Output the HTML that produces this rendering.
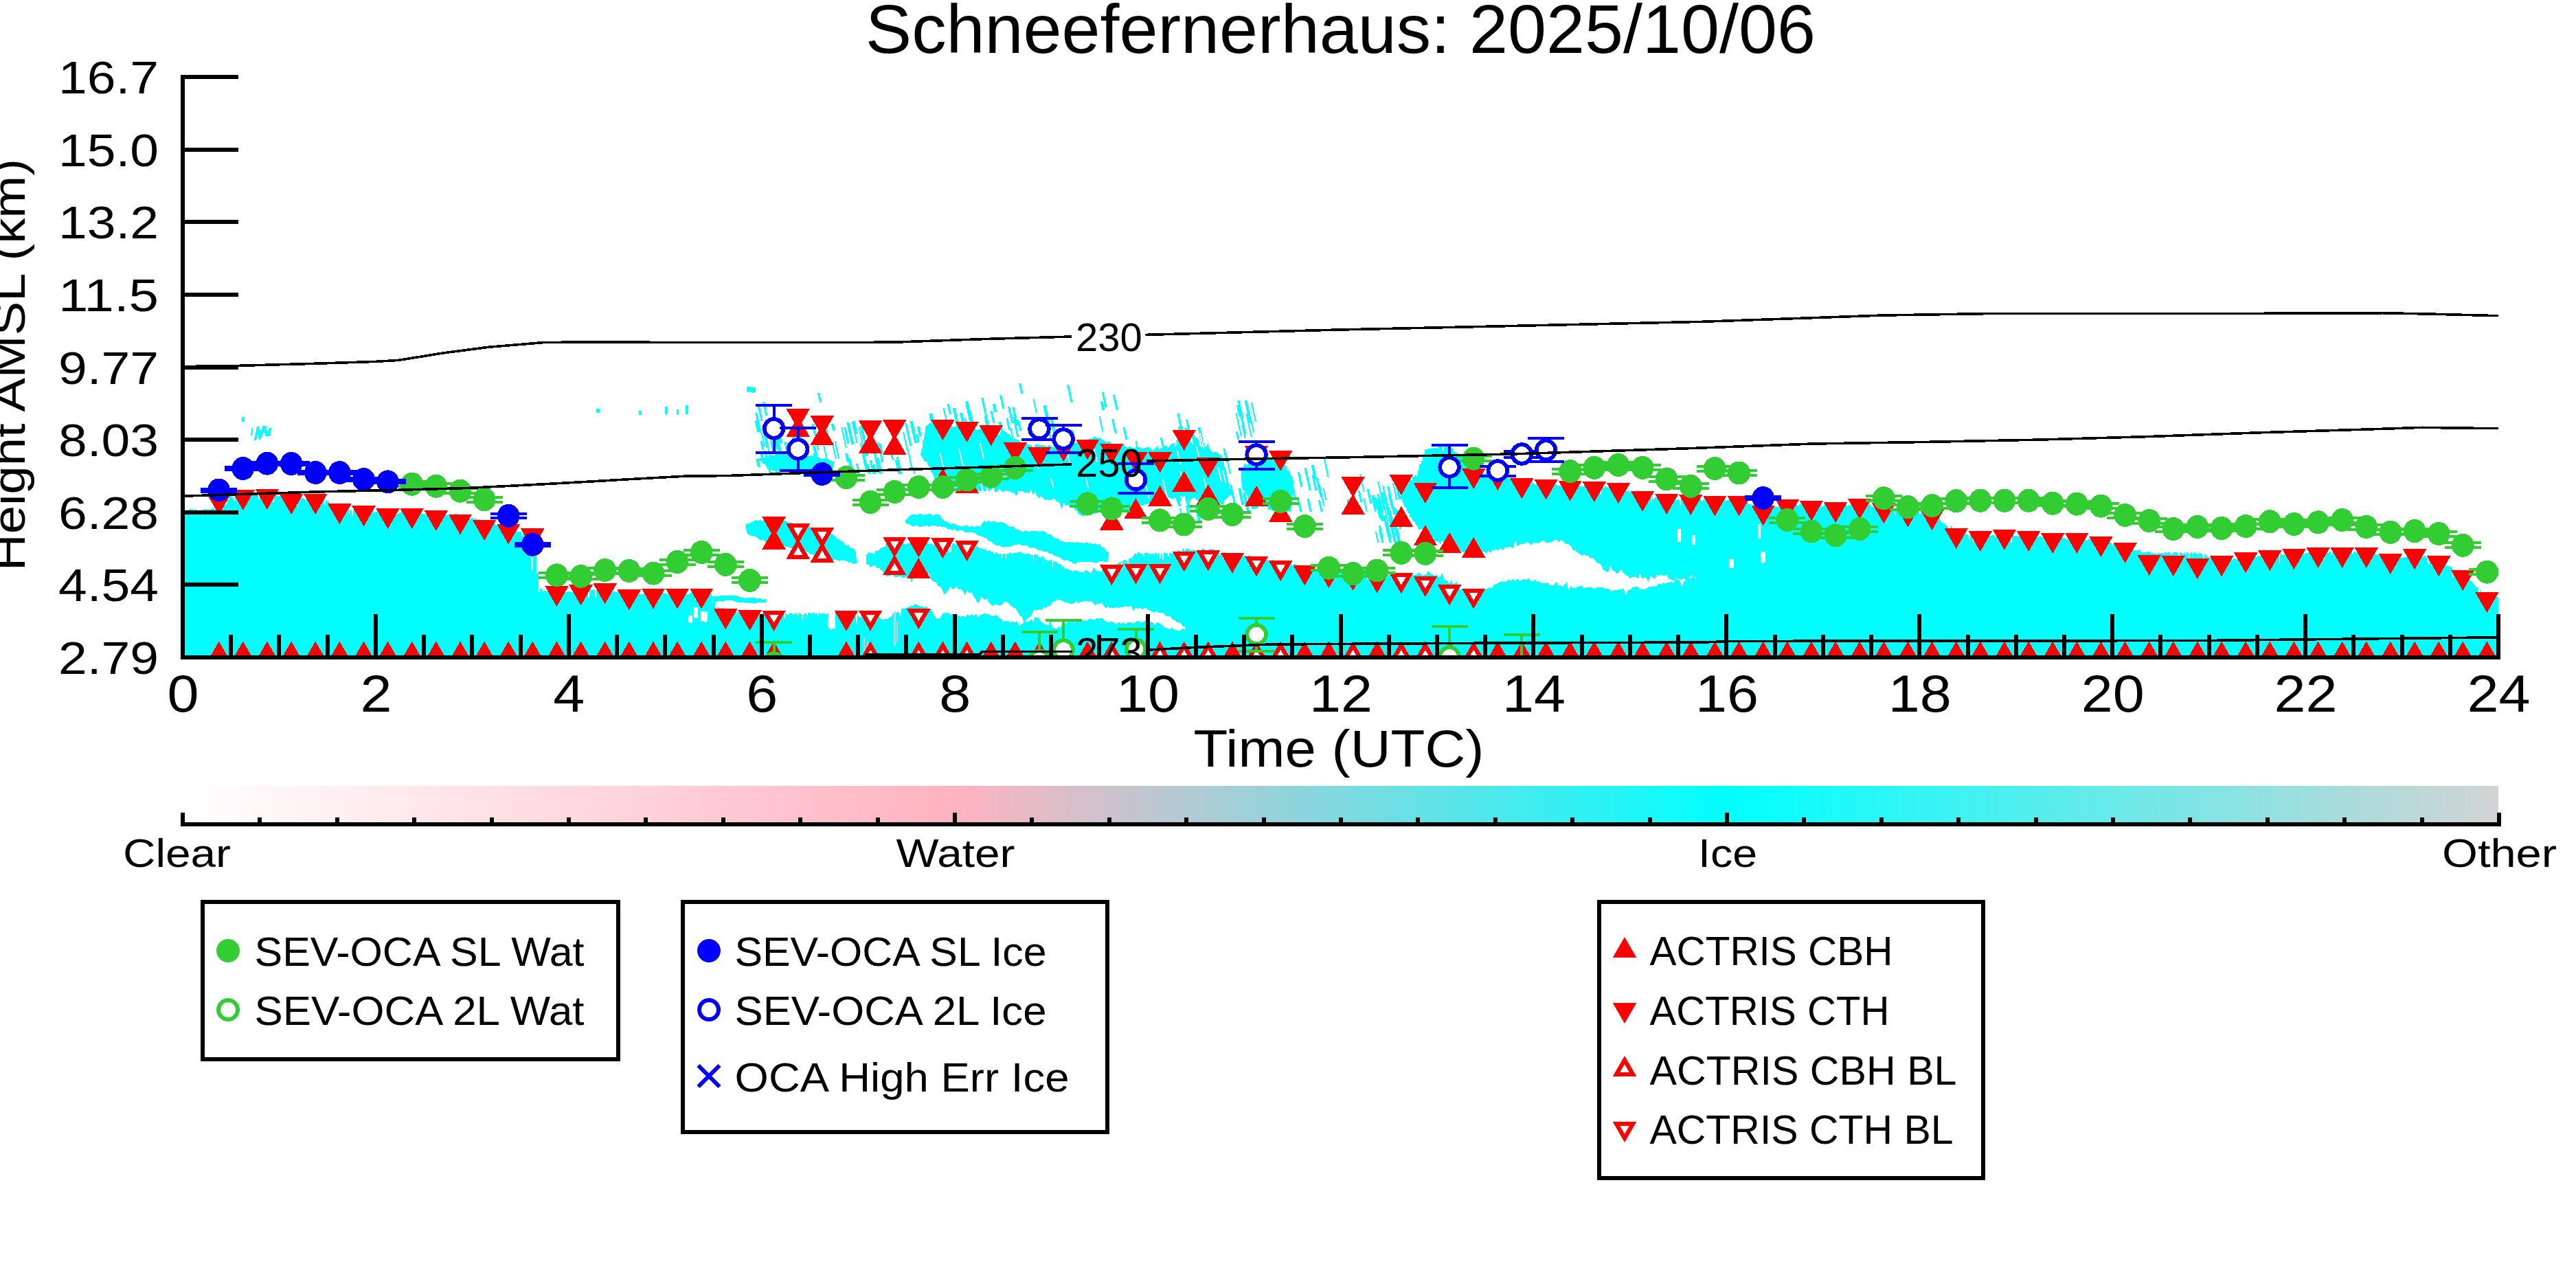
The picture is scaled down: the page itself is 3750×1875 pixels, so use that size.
<!DOCTYPE html><html><head><meta charset="utf-8"><title>Schneefernerhaus: 2025/10/06</title>
<style>html,body{margin:0;padding:0;background:#fff}svg{display:block}text{font-family:"Liberation Sans",sans-serif;fill:#000}</style></head><body>
<svg width="3750" height="1875" viewBox="0 0 3750 1875">
<defs><clipPath id="pc"><rect x="266" y="100" width="3371" height="857"/></clipPath>
<linearGradient id="cb" x1="0" x2="1" y1="0" y2="0"><stop offset="0" stop-color="#ffffff"/><stop offset="0.3333" stop-color="#ffb3bf"/><stop offset="0.6667" stop-color="#00ffff"/><stop offset="1" stop-color="#d3d3d3"/></linearGradient></defs>
<rect width="3750" height="1875" fill="#fff"/>
<g clip-path="url(#pc)">
<g shape-rendering="crispEdges">
<polygon points="266.0,742.6 268.5,742.6 268.5,743.7 271.0,743.7 271.0,743.2 273.5,743.2 273.5,741.5 276.0,741.5 276.0,741.3 278.5,741.3 278.5,741.4 281.0,741.4 281.0,742.5 283.5,742.5 283.5,741.4 286.0,741.4 286.0,743.1 288.5,743.1 288.5,742.9 291.0,742.9 291.0,744.2 293.5,744.2 293.5,743.7 296.0,743.7 296.0,741.1 298.5,741.1 298.5,741.6 301.0,741.6 301.0,741.0 303.5,741.0 303.5,742.2 306.0,742.2 306.0,741.4 308.5,741.4 308.5,739.3 311.0,739.3 311.0,741.0 313.5,741.0 313.5,739.3 316.0,739.3 316.0,739.4 318.5,739.4 318.5,740.0 321.0,740.0 321.0,736.9 323.5,736.9 323.5,736.6 326.0,736.6 326.0,736.1 328.5,736.1 328.5,732.9 331.0,732.9 331.0,726.8 333.5,726.8 333.5,721.8 336.0,721.8 336.0,720.5 338.5,720.5 338.5,722.8 341.0,722.8 341.0,722.9 343.5,722.9 343.5,722.1 346.0,722.1 346.0,721.5 348.5,721.5 348.5,722.4 351.0,722.4 351.0,721.2 353.5,721.2 353.5,719.7 356.0,719.7 356.0,721.8 358.5,721.8 358.5,722.4 361.0,722.4 361.0,720.9 363.5,720.9 363.5,719.6 366.0,719.6 366.0,720.1 368.5,720.1 368.5,719.7 371.0,719.7 371.0,720.0 373.5,720.0 373.5,720.9 376.0,720.9 376.0,719.9 378.5,719.9 378.5,721.5 381.0,721.5 381.0,722.5 383.5,722.5 383.5,720.7 386.0,720.7 386.0,721.0 388.5,721.0 388.5,723.2 391.0,723.2 391.0,720.5 393.5,720.5 393.5,720.7 396.0,720.7 396.0,722.0 398.5,722.0 398.5,720.0 401.0,720.0 401.0,721.4 403.5,721.4 403.5,723.4 406.0,723.4 406.0,722.0 408.5,722.0 408.5,722.6 411.0,722.6 411.0,723.4 413.5,723.4 413.5,723.4 416.0,723.4 416.0,721.7 418.5,721.7 418.5,720.8 421.0,720.8 421.0,720.7 423.5,720.7 423.5,721.2 426.0,721.2 426.0,722.2 428.5,722.2 428.5,721.6 431.0,721.6 431.0,722.6 433.5,722.6 433.5,723.0 436.0,723.0 436.0,725.6 438.5,725.6 438.5,725.0 441.0,725.0 441.0,725.8 443.5,725.8 443.5,727.7 446.0,727.7 446.0,726.4 448.5,726.4 448.5,725.2 451.0,725.2 451.0,726.3 453.5,726.3 453.5,728.1 456.0,728.1 456.0,725.4 458.5,725.4 458.5,727.3 461.0,727.3 461.0,727.5 463.5,727.5 463.5,727.6 466.0,727.6 466.0,729.0 468.5,729.0 468.5,727.0 471.0,727.0 471.0,726.9 473.5,726.9 473.5,728.3 476.0,728.3 476.0,730.2 478.5,730.2 478.5,734.5 481.0,734.5 481.0,735.4 483.5,735.4 483.5,736.1 486.0,736.1 486.0,734.8 488.5,734.8 488.5,736.1 491.0,736.1 491.0,735.7 493.5,735.7 493.5,737.3 496.0,737.3 496.0,740.6 498.5,740.6 498.5,741.3 501.0,741.3 501.0,741.9 503.5,741.9 503.5,739.6 506.0,739.6 506.0,739.8 508.5,739.8 508.5,741.5 511.0,741.5 511.0,742.5 513.5,742.5 513.5,742.1 516.0,742.1 516.0,740.4 518.5,740.4 518.5,743.5 521.0,743.5 521.0,743.2 523.5,743.2 523.5,741.5 526.0,741.5 526.0,742.3 528.5,742.3 528.5,744.8 531.0,744.8 531.0,743.0 533.5,743.0 533.5,744.4 536.0,744.4 536.0,742.6 538.5,742.6 538.5,745.6 541.0,745.6 541.0,743.3 543.5,743.3 543.5,746.5 546.0,746.5 546.0,744.6 548.5,744.6 548.5,739.2 551.0,739.2 551.0,746.2 553.5,746.2 553.5,747.5 556.0,747.5 556.0,747.5 558.5,747.5 558.5,745.5 561.0,745.5 561.0,746.1 563.5,746.1 563.5,747.4 566.0,747.4 566.0,747.0 568.5,747.0 568.5,748.7 571.0,748.7 571.0,747.2 573.5,747.2 573.5,748.8 576.0,748.8 576.0,748.9 578.5,748.9 578.5,747.6 581.0,747.6 581.0,745.8 583.5,745.8 583.5,742.0 586.0,742.0 586.0,746.4 588.5,746.4 588.5,748.4 591.0,748.4 591.0,747.0 593.5,747.0 593.5,747.9 596.0,747.9 596.0,746.3 598.5,746.3 598.5,746.8 601.0,746.8 601.0,748.7 603.5,748.7 603.5,748.0 606.0,748.0 606.0,749.3 608.5,749.3 608.5,748.3 611.0,748.3 611.0,747.9 613.5,747.9 613.5,747.8 616.0,747.8 616.0,747.9 618.5,747.9 618.5,748.7 621.0,748.7 621.0,749.6 623.5,749.6 623.5,748.3 626.0,748.3 626.0,749.3 628.5,749.3 628.5,746.8 631.0,746.8 631.0,746.7 633.5,746.7 633.5,746.7 636.0,746.7 636.0,749.3 638.5,749.3 638.5,747.3 641.0,747.3 641.0,749.3 643.5,749.3 643.5,750.3 646.0,750.3 646.0,748.2 648.5,748.2 648.5,749.1 651.0,749.1 651.0,751.3 653.5,751.3 653.5,748.7 656.0,748.7 656.0,750.1 658.5,750.1 658.5,749.2 661.0,749.2 661.0,747.6 663.5,747.6 663.5,747.5 666.0,747.5 666.0,751.3 668.5,751.3 668.5,749.6 671.0,749.6 671.0,752.5 673.5,752.5 673.5,750.8 676.0,750.8 676.0,751.2 678.5,751.2 678.5,752.6 681.0,752.6 681.0,753.8 683.5,753.8 683.5,755.8 686.0,755.8 686.0,754.1 688.5,754.1 688.5,756.3 691.0,756.3 691.0,755.2 693.5,755.2 693.5,758.0 696.0,758.0 696.0,756.4 698.5,756.4 698.5,759.0 701.0,759.0 701.0,757.8 703.5,757.8 703.5,758.3 706.0,758.3 706.0,760.4 708.5,760.4 708.5,761.4 711.0,761.4 711.0,761.2 713.5,761.2 713.5,762.8 716.0,762.8 716.0,762.0 718.5,762.0 718.5,762.5 721.0,762.5 721.0,764.2 723.5,764.2 723.5,766.4 726.0,766.4 726.0,766.3 728.5,766.3 728.5,763.7 731.0,763.7 731.0,766.0 733.5,766.0 733.5,768.6 736.0,768.6 736.0,769.0 738.5,769.0 738.5,768.4 741.0,768.4 741.0,770.3 743.5,770.3 743.5,772.3 746.0,772.3 746.0,771.7 748.5,771.7 748.5,774.0 751.0,774.0 751.0,774.1 753.5,774.1 753.5,774.0 756.0,774.0 756.0,773.6 758.5,773.6 758.5,773.4 761.0,773.4 761.0,776.1 763.5,776.1 763.5,774.7 766.0,774.7 766.0,779.4 768.5,779.4 768.5,783.8 771.0,783.8 771.0,787.3 773.5,787.3 773.5,794.2 776.0,794.2 776.0,800.9 778.5,800.9 778.5,809.5 781.0,809.5 781.0,834.9 783.5,834.9 783.5,861.9 786.0,861.9 786.0,857.0 788.5,857.0 788.5,860.8 791.0,860.8 791.0,860.1 793.5,860.1 793.5,859.8 796.0,859.8 796.0,860.3 798.5,860.3 798.5,857.6 801.0,857.6 801.0,861.3 803.5,861.3 803.5,862.2 806.0,862.2 806.0,862.5 808.5,862.5 808.5,863.2 811.0,863.2 811.0,861.2 813.5,861.2 813.5,860.4 816.0,860.4 816.0,862.0 818.5,862.0 818.5,862.6 821.0,862.6 821.0,861.8 823.5,861.8 823.5,862.3 826.0,862.3 826.0,861.2 828.5,861.2 828.5,862.2 831.0,862.2 831.0,862.0 833.5,862.0 833.5,862.1 836.0,862.1 836.0,861.3 838.5,861.3 838.5,858.9 841.0,858.9 841.0,859.9 843.5,859.9 843.5,861.5 846.0,861.5 846.0,860.6 848.5,860.6 848.5,860.7 851.0,860.7 851.0,858.2 853.5,858.2 853.5,860.6 856.0,860.6 856.0,859.7 858.5,859.7 858.5,858.0 861.0,858.0 861.0,858.5 863.5,858.5 863.5,858.4 866.0,858.4 866.0,858.0 868.5,858.0 868.5,860.6 871.0,860.6 871.0,858.4 873.5,858.4 873.5,859.3 876.0,859.3 876.0,858.9 878.5,858.9 878.5,856.9 881.0,856.9 881.0,857.6 883.5,857.6 883.5,858.3 886.0,858.3 886.0,857.9 888.5,857.9 888.5,859.3 891.0,859.3 891.0,861.4 893.5,861.4 893.5,860.5 896.0,860.5 896.0,861.7 898.5,861.7 898.5,861.0 901.0,861.0 901.0,861.9 903.5,861.9 903.5,861.6 906.0,861.6 906.0,865.1 908.5,865.1 908.5,864.4 911.0,864.4 911.0,864.1 913.5,864.1 913.5,864.7 916.0,864.7 916.0,865.0 918.5,865.0 918.5,867.7 921.0,867.7 921.0,867.1 923.5,867.1 923.5,867.2 926.0,867.2 926.0,864.7 928.5,864.7 928.5,863.5 931.0,863.5 931.0,865.3 933.5,865.3 933.5,864.5 936.0,864.5 936.0,864.5 938.5,864.5 938.5,861.9 941.0,861.9 941.0,866.0 943.5,866.0 943.5,866.1 946.0,866.1 946.0,865.9 948.5,865.9 948.5,863.9 951.0,863.9 951.0,866.0 953.5,866.0 953.5,863.8 956.0,863.8 956.0,863.5 958.5,863.5 958.5,862.9 961.0,862.9 961.0,863.5 963.5,863.5 963.5,863.4 966.0,863.4 966.0,864.3 968.5,864.3 968.5,863.8 971.0,863.8 971.0,865.6 973.5,865.6 973.5,864.7 976.0,864.7 976.0,865.8 978.5,865.8 978.5,865.0 981.0,865.0 981.0,865.1 983.5,865.1 983.5,865.1 986.0,865.1 986.0,863.5 988.5,863.5 988.5,865.7 991.0,865.7 991.0,864.2 993.5,864.2 993.5,863.5 996.0,863.5 996.0,865.9 998.5,865.9 998.5,864.8 1001.0,864.8 1001.0,864.5 1003.5,864.5 1003.5,863.1 1006.0,863.1 1006.0,863.2 1008.5,863.2 1008.5,864.2 1011.0,864.2 1011.0,865.7 1013.5,865.7 1013.5,864.1 1016.0,864.1 1016.0,863.2 1018.5,863.2 1018.5,863.7 1021.0,863.7 1021.0,863.3 1023.5,863.3 1023.5,864.8 1026.0,864.8 1026.0,865.7 1028.5,865.7 1028.5,864.8 1031.0,864.8 1031.0,865.0 1033.5,865.0 1033.5,864.2 1036.0,864.2 1036.0,867.7 1038.5,867.7 1038.5,870.8 1041.0,870.8 1041.0,885.7 1043.5,885.7 1043.5,884.0 1046.0,884.0 1046.0,884.9 1048.5,884.9 1048.5,887.3 1051.0,887.3 1051.0,885.3 1053.5,885.3 1053.5,887.2 1056.0,887.2 1056.0,886.8 1058.5,886.8 1058.5,885.6 1061.0,885.6 1061.0,889.2 1063.5,889.2 1063.5,889.4 1066.0,889.4 1066.0,887.7 1068.5,887.7 1068.5,887.8 1071.0,887.8 1071.0,890.0 1073.5,890.0 1073.5,890.5 1076.0,890.5 1076.0,891.0 1078.5,891.0 1078.5,890.6 1081.0,890.6 1081.0,891.7 1083.5,891.7 1083.5,892.5 1086.0,892.5 1086.0,890.7 1088.5,890.7 1088.5,890.8 1091.0,890.8 1091.0,892.7 1093.5,892.7 1093.5,890.9 1096.0,890.9 1096.0,893.0 1098.5,893.0 1098.5,892.1 1101.0,892.1 1101.0,891.5 1103.5,891.5 1103.5,893.1 1106.0,893.1 1106.0,893.8 1108.5,893.8 1108.5,893.2 1111.0,893.2 1111.0,892.4 1113.5,892.4 1113.5,894.0 1116.0,894.0 1116.0,891.6 1118.5,891.6 1118.5,893.9 1121.0,893.9 1121.0,892.4 1123.5,892.4 1123.5,894.7 1126.0,894.7 1126.0,891.6 1128.5,891.6 1128.5,893.0 1131.0,893.0 1131.0,892.2 1133.5,892.2 1133.5,894.1 1136.0,894.1 1136.0,892.2 1138.5,892.2 1138.5,892.6 1141.0,892.6 1141.0,892.3 1143.5,892.3 1143.5,894.2 1146.0,894.2 1146.0,894.8 1148.5,894.8 1148.5,892.2 1151.0,892.2 1151.0,893.0 1153.5,893.0 1153.5,894.8 1156.0,894.8 1156.0,892.9 1158.5,892.9 1158.5,894.9 1161.0,894.9 1161.0,891.7 1163.5,891.7 1163.5,892.9 1166.0,892.9 1166.0,894.6 1168.5,894.6 1168.5,895.0 1171.0,895.0 1171.0,892.7 1173.5,892.7 1173.5,894.8 1176.0,894.8 1176.0,891.6 1178.5,891.6 1178.5,892.8 1181.0,892.8 1181.0,892.7 1183.5,892.7 1183.5,891.5 1186.0,891.5 1186.0,892.7 1188.5,892.7 1188.5,891.9 1191.0,891.9 1191.0,892.2 1193.5,892.2 1193.5,894.4 1196.0,894.4 1196.0,893.0 1198.5,893.0 1198.5,893.2 1201.0,893.2 1201.0,894.7 1203.5,894.7 1203.5,892.8 1206.0,892.8 1206.0,914.6 1208.5,914.6 1208.5,917.3 1211.0,917.3 1211.0,914.6 1213.5,914.6 1213.5,914.7 1216.0,914.7 1216.0,892.4 1218.5,892.4 1218.5,894.9 1221.0,894.9 1221.0,893.0 1223.5,893.0 1223.5,894.5 1226.0,894.5 1226.0,895.2 1228.5,895.2 1228.5,889.7 1231.0,889.7 1231.0,896.5 1233.5,896.5 1233.5,894.2 1236.0,894.2 1236.0,895.5 1238.5,895.5 1238.5,897.5 1241.0,897.5 1241.0,895.3 1243.5,895.3 1243.5,896.5 1246.0,896.5 1246.0,895.7 1248.5,895.7 1248.5,897.9 1251.0,897.9 1251.0,898.5 1253.5,898.5 1253.5,897.5 1256.0,897.5 1256.0,898.3 1258.5,898.3 1258.5,851.3 1261.0,851.3 1261.0,806.8 1263.5,806.8 1263.5,803.9 1266.0,803.9 1266.0,805.1 1268.5,805.1 1268.5,806.1 1271.0,806.1 1271.0,805.7 1273.5,805.7 1273.5,802.1 1276.0,802.1 1276.0,802.4 1278.5,802.4 1278.5,800.3 1281.0,800.3 1281.0,798.2 1283.5,798.2 1283.5,797.1 1286.0,797.1 1286.0,795.7 1288.5,795.7 1288.5,791.1 1291.0,791.1 1291.0,790.5 1293.5,790.5 1293.5,790.8 1296.0,790.8 1296.0,790.2 1298.5,790.2 1298.5,790.4 1301.0,790.4 1301.0,792.6 1303.5,792.6 1303.5,790.6 1306.0,790.6 1306.0,793.0 1308.5,793.0 1308.5,790.3 1311.0,790.3 1311.0,791.8 1313.5,791.8 1313.5,789.9 1316.0,789.9 1316.0,792.4 1318.5,792.4 1318.5,792.7 1321.0,792.7 1321.0,790.5 1323.5,790.5 1323.5,790.2 1326.0,790.2 1326.0,791.5 1328.5,791.5 1328.5,790.8 1331.0,790.8 1331.0,791.1 1333.5,791.1 1333.5,792.2 1336.0,792.2 1336.0,789.9 1338.5,789.9 1338.5,791.7 1341.0,791.7 1341.0,790.8 1343.5,790.8 1343.5,790.2 1346.0,790.2 1346.0,791.6 1348.5,791.6 1348.5,787.2 1351.0,787.2 1351.0,791.9 1353.5,791.9 1353.5,790.6 1356.0,790.6 1356.0,792.3 1358.5,792.3 1358.5,789.9 1361.0,789.9 1361.0,791.2 1363.5,791.2 1363.5,792.2 1366.0,792.2 1366.0,790.7 1368.5,790.7 1368.5,791.7 1371.0,791.7 1371.0,791.5 1373.5,791.5 1373.5,791.7 1376.0,791.7 1376.0,792.0 1378.5,792.0 1378.5,793.9 1381.0,793.9 1381.0,792.3 1383.5,792.3 1383.5,793.7 1386.0,793.7 1386.0,791.4 1388.5,791.4 1388.5,793.0 1391.0,793.0 1391.0,793.1 1393.5,793.1 1393.5,793.4 1396.0,793.4 1396.0,792.0 1398.5,792.0 1398.5,794.3 1401.0,794.3 1401.0,792.6 1403.5,792.6 1403.5,793.7 1406.0,793.7 1406.0,793.1 1408.5,793.1 1408.5,794.5 1411.0,794.5 1411.0,793.2 1413.5,793.2 1413.5,795.8 1416.0,795.8 1416.0,793.8 1418.5,793.8 1418.5,796.6 1421.0,796.6 1421.0,795.1 1423.5,795.1 1423.5,797.3 1426.0,797.3 1426.0,798.2 1428.5,798.2 1428.5,798.8 1431.0,798.8 1431.0,799.7 1433.5,799.7 1433.5,799.4 1436.0,799.4 1436.0,802.0 1438.5,802.0 1438.5,800.9 1441.0,800.9 1441.0,803.1 1443.5,803.1 1443.5,802.8 1446.0,802.8 1446.0,805.6 1448.5,805.6 1448.5,803.5 1451.0,803.5 1451.0,806.2 1453.5,806.2 1453.5,806.7 1456.0,806.7 1456.0,806.1 1458.5,806.1 1458.5,806.5 1461.0,806.5 1461.0,806.0 1463.5,806.0 1463.5,805.8 1466.0,805.8 1466.0,805.7 1468.5,805.7 1468.5,804.1 1471.0,804.1 1471.0,805.6 1473.5,805.6 1473.5,806.4 1476.0,806.4 1476.0,805.1 1478.5,805.1 1478.5,805.0 1481.0,805.0 1481.0,803.6 1483.5,803.6 1483.5,803.4 1486.0,803.4 1486.0,805.1 1488.5,805.1 1488.5,805.8 1491.0,805.8 1491.0,806.5 1493.5,806.5 1493.5,806.1 1496.0,806.1 1496.0,806.4 1498.5,806.4 1498.5,808.3 1501.0,808.3 1501.0,808.3 1503.5,808.3 1503.5,808.2 1506.0,808.2 1506.0,806.6 1508.5,806.6 1508.5,808.4 1511.0,808.4 1511.0,810.9 1513.5,810.9 1513.5,811.5 1516.0,811.5 1516.0,809.9 1518.5,809.9 1518.5,813.3 1521.0,813.3 1521.0,814.8 1523.5,814.8 1523.5,815.6 1526.0,815.6 1526.0,815.5 1528.5,815.5 1528.5,815.4 1531.0,815.4 1531.0,817.5 1533.5,817.5 1533.5,816.8 1536.0,816.8 1536.0,818.3 1538.5,818.3 1538.5,821.2 1541.0,821.2 1541.0,820.8 1543.5,820.8 1543.5,822.0 1546.0,822.0 1546.0,825.2 1548.5,825.2 1548.5,827.5 1551.0,827.5 1551.0,827.8 1553.5,827.8 1553.5,827.6 1556.0,827.6 1556.0,830.0 1558.5,830.0 1558.5,831.0 1561.0,831.0 1561.0,832.0 1563.5,832.0 1563.5,830.2 1566.0,830.2 1566.0,830.9 1568.5,830.9 1568.5,832.3 1571.0,832.3 1571.0,833.0 1573.5,833.0 1573.5,832.7 1576.0,832.7 1576.0,832.9 1578.5,832.9 1578.5,829.9 1581.0,829.9 1581.0,831.3 1583.5,831.3 1583.5,832.1 1586.0,832.1 1586.0,833.6 1588.5,833.6 1588.5,831.1 1591.0,831.1 1591.0,827.2 1593.5,827.2 1593.5,830.4 1596.0,830.4 1596.0,830.6 1598.5,830.6 1598.5,831.8 1601.0,831.8 1601.0,831.7 1603.5,831.7 1603.5,829.3 1606.0,829.3 1606.0,828.6 1608.5,828.6 1608.5,827.0 1611.0,827.0 1611.0,828.6 1613.5,828.6 1613.5,825.9 1616.0,825.9 1616.0,823.4 1618.5,823.4 1618.5,824.3 1621.0,824.3 1621.0,823.5 1623.5,823.5 1623.5,823.4 1626.0,823.4 1626.0,819.9 1628.5,819.9 1628.5,818.1 1631.0,818.1 1631.0,818.3 1633.5,818.3 1633.5,816.0 1636.0,816.0 1636.0,814.7 1638.5,814.7 1638.5,816.9 1641.0,816.9 1641.0,813.2 1643.5,813.2 1643.5,812.7 1646.0,812.7 1646.0,812.1 1648.5,812.1 1648.5,808.8 1651.0,808.8 1651.0,806.2 1653.5,806.2 1653.5,807.2 1656.0,807.2 1656.0,803.6 1658.5,803.6 1658.5,806.2 1661.0,806.2 1661.0,806.3 1663.5,806.3 1663.5,804.5 1666.0,804.5 1666.0,804.6 1668.5,804.6 1668.5,805.1 1671.0,805.1 1671.0,806.4 1673.5,806.4 1673.5,806.5 1676.0,806.5 1676.0,806.0 1678.5,806.0 1678.5,806.9 1681.0,806.9 1681.0,805.2 1683.5,805.2 1683.5,807.7 1686.0,807.7 1686.0,804.7 1688.5,804.7 1688.5,805.3 1691.0,805.3 1691.0,807.6 1693.5,807.6 1693.5,805.0 1696.0,805.0 1696.0,804.6 1698.5,804.6 1698.5,806.2 1701.0,806.2 1701.0,805.0 1703.5,805.0 1703.5,805.5 1706.0,805.5 1706.0,804.6 1708.5,804.6 1708.5,804.2 1711.0,804.2 1711.0,803.3 1713.5,803.3 1713.5,801.4 1716.0,801.4 1716.0,802.1 1718.5,802.1 1718.5,802.7 1721.0,802.7 1721.0,799.1 1723.5,799.1 1723.5,801.8 1726.0,801.8 1726.0,799.0 1728.5,799.0 1728.5,798.6 1731.0,798.6 1731.0,800.7 1733.5,800.7 1733.5,801.1 1736.0,801.1 1736.0,800.6 1738.5,800.6 1738.5,801.4 1741.0,801.4 1741.0,801.6 1743.5,801.6 1743.5,801.5 1746.0,801.5 1746.0,801.8 1748.5,801.8 1748.5,799.2 1751.0,799.2 1751.0,798.6 1753.5,798.6 1753.5,801.3 1756.0,801.3 1756.0,801.4 1758.5,801.4 1758.5,799.5 1761.0,799.5 1761.0,799.2 1763.5,799.2 1763.5,800.1 1766.0,800.1 1766.0,798.6 1768.5,798.6 1768.5,801.4 1771.0,801.4 1771.0,802.2 1773.5,802.2 1773.5,804.8 1776.0,804.8 1776.0,804.9 1778.5,804.9 1778.5,802.5 1781.0,802.5 1781.0,804.4 1783.5,804.4 1783.5,804.6 1786.0,804.6 1786.0,805.8 1788.5,805.8 1788.5,807.4 1791.0,807.4 1791.0,807.8 1793.5,807.8 1793.5,805.4 1796.0,805.4 1796.0,808.5 1798.5,808.5 1798.5,806.2 1801.0,806.2 1801.0,808.2 1803.5,808.2 1803.5,807.5 1806.0,807.5 1806.0,808.4 1808.5,808.4 1808.5,808.5 1811.0,808.5 1811.0,808.9 1813.5,808.9 1813.5,810.7 1816.0,810.7 1816.0,809.0 1818.5,809.0 1818.5,809.3 1821.0,809.3 1821.0,811.8 1823.5,811.8 1823.5,811.9 1826.0,811.9 1826.0,811.5 1828.5,811.5 1828.5,813.5 1831.0,813.5 1831.0,814.0 1833.5,814.0 1833.5,812.1 1836.0,812.1 1836.0,815.1 1838.5,815.1 1838.5,813.7 1841.0,813.7 1841.0,813.7 1843.5,813.7 1843.5,815.3 1846.0,815.3 1846.0,816.5 1848.5,816.5 1848.5,815.6 1851.0,815.6 1851.0,815.4 1853.5,815.4 1853.5,817.7 1856.0,817.7 1856.0,816.5 1858.5,816.5 1858.5,819.1 1861.0,819.1 1861.0,817.3 1863.5,817.3 1863.5,820.5 1866.0,820.5 1866.0,818.5 1868.5,818.5 1868.5,820.7 1871.0,820.7 1871.0,819.2 1873.5,819.2 1873.5,820.0 1876.0,820.0 1876.0,821.4 1878.5,821.4 1878.5,821.1 1881.0,821.1 1881.0,823.8 1883.5,823.8 1883.5,821.2 1886.0,821.2 1886.0,821.6 1888.5,821.6 1888.5,825.1 1891.0,825.1 1891.0,824.7 1893.5,824.7 1893.5,823.2 1896.0,823.2 1896.0,823.4 1898.5,823.4 1898.5,824.8 1901.0,824.8 1901.0,825.1 1903.5,825.1 1903.5,826.4 1906.0,826.4 1906.0,826.5 1908.5,826.5 1908.5,825.1 1911.0,825.1 1911.0,826.3 1913.5,826.3 1913.5,828.3 1916.0,828.3 1916.0,827.5 1918.5,827.5 1918.5,827.2 1921.0,827.2 1921.0,828.5 1923.5,828.5 1923.5,829.0 1926.0,829.0 1926.0,829.6 1928.5,829.6 1928.5,829.1 1931.0,829.1 1931.0,828.3 1933.5,828.3 1933.5,827.8 1936.0,827.8 1936.0,830.5 1938.5,830.5 1938.5,830.2 1941.0,830.2 1941.0,829.8 1943.5,829.8 1943.5,830.7 1946.0,830.7 1946.0,831.2 1948.5,831.2 1948.5,829.8 1951.0,829.8 1951.0,832.1 1953.5,832.1 1953.5,831.4 1956.0,831.4 1956.0,830.1 1958.5,830.1 1958.5,830.8 1961.0,830.8 1961.0,833.8 1963.5,833.8 1963.5,831.1 1966.0,831.1 1966.0,832.9 1968.5,832.9 1968.5,833.1 1971.0,833.1 1971.0,834.5 1973.5,834.5 1973.5,833.2 1976.0,833.2 1976.0,832.7 1978.5,832.7 1978.5,833.6 1981.0,833.6 1981.0,832.9 1983.5,832.9 1983.5,833.9 1986.0,833.9 1986.0,833.8 1988.5,833.8 1988.5,833.1 1991.0,833.1 1991.0,834.8 1993.5,834.8 1993.5,834.7 1996.0,834.7 1996.0,834.5 1998.5,834.5 1998.5,837.2 2001.0,837.2 2001.0,834.9 2003.5,834.9 2003.5,835.7 2006.0,835.7 2006.0,835.0 2008.5,835.0 2008.5,837.6 2011.0,837.6 2011.0,836.5 2013.5,836.5 2013.5,835.8 2016.0,835.8 2016.0,836.4 2018.5,836.4 2018.5,838.2 2021.0,838.2 2021.0,837.2 2023.5,837.2 2023.5,837.6 2026.0,837.6 2026.0,838.8 2028.5,838.8 2028.5,839.0 2031.0,839.0 2031.0,837.5 2033.5,837.5 2033.5,837.8 2036.0,837.8 2036.0,836.5 2038.5,836.5 2038.5,719.8 2041.0,719.8 2041.0,715.5 2043.5,715.5 2043.5,711.5 2046.0,711.5 2046.0,707.9 2048.5,707.9 2048.5,704.4 2051.0,704.4 2051.0,697.9 2053.5,697.9 2053.5,698.8 2056.0,698.8 2056.0,694.0 2058.5,694.0 2058.5,691.6 2061.0,691.6 2061.0,692.7 2063.5,692.7 2063.5,684.6 2066.0,684.6 2066.0,676.3 2068.5,676.3 2068.5,670.6 2071.0,670.6 2071.0,660.5 2073.5,660.5 2073.5,654.9 2076.0,654.9 2076.0,653.5 2078.5,653.5 2078.5,653.0 2081.0,653.0 2081.0,653.2 2083.5,653.2 2083.5,652.9 2086.0,652.9 2086.0,652.3 2088.5,652.3 2088.5,652.3 2091.0,652.3 2091.0,652.6 2093.5,652.6 2093.5,650.3 2096.0,650.3 2096.0,649.8 2098.5,649.8 2098.5,649.3 2101.0,649.3 2101.0,649.5 2103.5,649.5 2103.5,650.6 2106.0,650.6 2106.0,647.2 2108.5,647.2 2108.5,650.2 2111.0,650.2 2111.0,651.8 2113.5,651.8 2113.5,653.3 2116.0,653.3 2116.0,657.9 2118.5,657.9 2118.5,659.2 2121.0,659.2 2121.0,659.6 2123.5,659.6 2123.5,664.4 2126.0,664.4 2126.0,666.2 2128.5,666.2 2128.5,670.7 2131.0,670.7 2131.0,675.8 2133.5,675.8 2133.5,679.0 2136.0,679.0 2136.0,681.6 2138.5,681.6 2138.5,685.5 2141.0,685.5 2141.0,688.4 2143.5,688.4 2143.5,687.4 2146.0,687.4 2146.0,688.3 2148.5,688.3 2148.5,689.8 2151.0,689.8 2151.0,689.9 2153.5,689.9 2153.5,688.9 2156.0,688.9 2156.0,689.1 2158.5,689.1 2158.5,689.7 2161.0,689.7 2161.0,688.7 2163.5,688.7 2163.5,688.7 2166.0,688.7 2166.0,690.0 2168.5,690.0 2168.5,688.1 2171.0,688.1 2171.0,691.1 2173.5,691.1 2173.5,688.3 2176.0,688.3 2176.0,688.3 2178.5,688.3 2178.5,691.7 2181.0,691.7 2181.0,691.2 2183.5,691.2 2183.5,693.0 2186.0,693.0 2186.0,692.9 2188.5,692.9 2188.5,694.1 2191.0,694.1 2191.0,695.0 2193.5,695.0 2193.5,695.9 2196.0,695.9 2196.0,697.2 2198.5,697.2 2198.5,696.1 2201.0,696.1 2201.0,699.1 2203.5,699.1 2203.5,699.6 2206.0,699.6 2206.0,701.1 2208.5,701.1 2208.5,701.2 2211.0,701.2 2211.0,701.2 2213.5,701.2 2213.5,702.2 2216.0,702.2 2216.0,704.1 2218.5,704.1 2218.5,702.1 2221.0,702.1 2221.0,702.1 2223.5,702.1 2223.5,704.9 2226.0,704.9 2226.0,705.4 2228.5,705.4 2228.5,702.3 2231.0,702.3 2231.0,704.4 2233.5,704.4 2233.5,705.9 2236.0,705.9 2236.0,704.0 2238.5,704.0 2238.5,704.9 2241.0,704.9 2241.0,701.3 2243.5,701.3 2243.5,705.2 2246.0,705.2 2246.0,706.3 2248.5,706.3 2248.5,706.1 2251.0,706.1 2251.0,703.2 2253.5,703.2 2253.5,704.1 2256.0,704.1 2256.0,704.1 2258.5,704.1 2258.5,706.3 2261.0,706.3 2261.0,706.7 2263.5,706.7 2263.5,704.1 2266.0,704.1 2266.0,706.5 2268.5,706.5 2268.5,707.4 2271.0,707.4 2271.0,707.6 2273.5,707.6 2273.5,700.5 2276.0,700.5 2276.0,707.4 2278.5,707.4 2278.5,705.8 2281.0,705.8 2281.0,705.4 2283.5,705.4 2283.5,706.7 2286.0,706.7 2286.0,706.4 2288.5,706.4 2288.5,706.7 2291.0,706.7 2291.0,705.8 2293.5,705.8 2293.5,706.7 2296.0,706.7 2296.0,707.7 2298.5,707.7 2298.5,707.0 2301.0,707.0 2301.0,709.0 2303.5,709.0 2303.5,707.8 2306.0,707.8 2306.0,706.1 2308.5,706.1 2308.5,708.5 2311.0,708.5 2311.0,707.3 2313.5,707.3 2313.5,709.6 2316.0,709.6 2316.0,708.4 2318.5,708.4 2318.5,707.9 2321.0,707.9 2321.0,707.8 2323.5,707.8 2323.5,708.8 2326.0,708.8 2326.0,709.7 2328.5,709.7 2328.5,707.0 2331.0,707.0 2331.0,708.6 2333.5,708.6 2333.5,710.1 2336.0,710.1 2336.0,707.6 2338.5,707.6 2338.5,710.4 2341.0,710.4 2341.0,709.8 2343.5,709.8 2343.5,710.9 2346.0,710.9 2346.0,710.5 2348.5,710.5 2348.5,709.4 2351.0,709.4 2351.0,710.3 2353.5,710.3 2353.5,709.2 2356.0,709.2 2356.0,712.0 2358.5,712.0 2358.5,711.7 2361.0,711.7 2361.0,712.0 2363.5,712.0 2363.5,712.1 2366.0,712.1 2366.0,714.8 2368.5,714.8 2368.5,713.2 2371.0,713.2 2371.0,716.4 2373.5,716.4 2373.5,716.6 2376.0,716.6 2376.0,718.5 2378.5,718.5 2378.5,717.9 2381.0,717.9 2381.0,717.7 2383.5,717.7 2383.5,718.5 2386.0,718.5 2386.0,720.0 2388.5,720.0 2388.5,721.0 2391.0,721.0 2391.0,720.9 2393.5,720.9 2393.5,724.2 2396.0,724.2 2396.0,721.3 2398.5,721.3 2398.5,724.0 2401.0,724.0 2401.0,723.6 2403.5,723.6 2403.5,721.5 2406.0,721.5 2406.0,725.5 2408.5,725.5 2408.5,724.0 2411.0,724.0 2411.0,723.5 2413.5,723.5 2413.5,724.4 2416.0,724.4 2416.0,725.9 2418.5,725.9 2418.5,726.8 2421.0,726.8 2421.0,723.9 2423.5,723.9 2423.5,724.6 2426.0,724.6 2426.0,724.5 2428.5,724.5 2428.5,727.4 2431.0,727.4 2431.0,727.8 2433.5,727.8 2433.5,724.8 2436.0,724.8 2436.0,726.0 2438.5,726.0 2438.5,728.1 2441.0,728.1 2441.0,726.8 2443.5,726.8 2443.5,728.2 2446.0,728.2 2446.0,726.4 2448.5,726.4 2448.5,725.6 2451.0,725.6 2451.0,728.6 2453.5,728.6 2453.5,725.4 2456.0,725.4 2456.0,726.6 2458.5,726.6 2458.5,728.6 2461.0,728.6 2461.0,725.7 2463.5,725.7 2463.5,728.1 2466.0,728.1 2466.0,729.2 2468.5,729.2 2468.5,726.3 2471.0,726.3 2471.0,729.2 2473.5,729.2 2473.5,727.1 2476.0,727.1 2476.0,728.8 2478.5,728.8 2478.5,727.4 2481.0,727.4 2481.0,726.8 2483.5,726.8 2483.5,727.1 2486.0,727.1 2486.0,727.1 2488.5,727.1 2488.5,726.8 2491.0,726.8 2491.0,727.5 2493.5,727.5 2493.5,730.2 2496.0,730.2 2496.0,730.3 2498.5,730.3 2498.5,730.2 2501.0,730.2 2501.0,728.7 2503.5,728.7 2503.5,730.4 2506.0,730.4 2506.0,729.3 2508.5,729.3 2508.5,728.3 2511.0,728.3 2511.0,728.8 2513.5,728.8 2513.5,727.6 2516.0,727.6 2516.0,727.3 2518.5,727.3 2518.5,729.0 2521.0,729.0 2521.0,730.1 2523.5,730.1 2523.5,728.5 2526.0,728.5 2526.0,728.0 2528.5,728.0 2528.5,728.3 2531.0,728.3 2531.0,728.8 2533.5,728.8 2533.5,731.0 2536.0,731.0 2536.0,732.3 2538.5,732.3 2538.5,733.0 2541.0,733.0 2541.0,731.6 2543.5,731.6 2543.5,732.8 2546.0,732.8 2546.0,733.5 2548.5,733.5 2548.5,737.3 2551.0,737.3 2551.0,738.0 2553.5,738.0 2553.5,736.8 2556.0,736.8 2556.0,737.0 2558.5,737.0 2558.5,738.8 2561.0,738.8 2561.0,738.8 2563.5,738.8 2563.5,740.9 2566.0,740.9 2566.0,740.7 2568.5,740.7 2568.5,742.4 2571.0,742.4 2571.0,741.5 2573.5,741.5 2573.5,740.1 2576.0,740.1 2576.0,739.2 2578.5,739.2 2578.5,740.8 2581.0,740.8 2581.0,738.2 2583.5,738.2 2583.5,737.2 2586.0,737.2 2586.0,738.1 2588.5,738.1 2588.5,736.4 2591.0,736.4 2591.0,737.6 2593.5,737.6 2593.5,736.6 2596.0,736.6 2596.0,734.1 2598.5,734.1 2598.5,734.7 2601.0,734.7 2601.0,732.9 2603.5,732.9 2603.5,733.7 2606.0,733.7 2606.0,735.7 2608.5,735.7 2608.5,732.9 2611.0,732.9 2611.0,734.6 2613.5,734.6 2613.5,734.0 2616.0,734.0 2616.0,736.1 2618.5,736.1 2618.5,733.8 2621.0,733.8 2621.0,731.9 2623.5,731.9 2623.5,735.0 2626.0,735.0 2626.0,734.0 2628.5,734.0 2628.5,736.6 2631.0,736.6 2631.0,735.0 2633.5,735.0 2633.5,735.3 2636.0,735.3 2636.0,734.3 2638.5,734.3 2638.5,737.5 2641.0,737.5 2641.0,736.2 2643.5,736.2 2643.5,731.5 2646.0,731.5 2646.0,735.5 2648.5,735.5 2648.5,735.2 2651.0,735.2 2651.0,737.9 2653.5,737.9 2653.5,735.6 2656.0,735.6 2656.0,732.3 2658.5,732.3 2658.5,737.6 2661.0,737.6 2661.0,738.2 2663.5,738.2 2663.5,739.0 2666.0,739.0 2666.0,736.2 2668.5,736.2 2668.5,738.0 2671.0,738.0 2671.0,737.4 2673.5,737.4 2673.5,737.7 2676.0,737.7 2676.0,738.0 2678.5,738.0 2678.5,736.1 2681.0,736.1 2681.0,737.8 2683.5,737.8 2683.5,737.8 2686.0,737.8 2686.0,735.9 2688.5,735.9 2688.5,737.1 2691.0,737.1 2691.0,735.2 2693.5,735.2 2693.5,736.2 2696.0,736.2 2696.0,733.9 2698.5,733.9 2698.5,734.3 2701.0,734.3 2701.0,735.2 2703.5,735.2 2703.5,734.9 2706.0,734.9 2706.0,731.9 2708.5,731.9 2708.5,735.1 2711.0,735.1 2711.0,733.1 2713.5,733.1 2713.5,734.9 2716.0,734.9 2716.0,735.0 2718.5,735.0 2718.5,735.1 2721.0,735.1 2721.0,734.1 2723.5,734.1 2723.5,737.9 2726.0,737.9 2726.0,738.2 2728.5,738.2 2728.5,738.2 2731.0,738.2 2731.0,738.9 2733.5,738.9 2733.5,738.5 2736.0,738.5 2736.0,739.1 2738.5,739.1 2738.5,739.1 2741.0,739.1 2741.0,739.8 2743.5,739.8 2743.5,739.9 2746.0,739.9 2746.0,741.8 2748.5,741.8 2748.5,739.9 2751.0,739.9 2751.0,739.6 2753.5,739.6 2753.5,742.9 2756.0,742.9 2756.0,740.8 2758.5,740.8 2758.5,742.1 2761.0,742.1 2761.0,741.0 2763.5,741.0 2763.5,742.0 2766.0,742.0 2766.0,742.3 2768.5,742.3 2768.5,742.0 2771.0,742.0 2771.0,745.0 2773.5,745.0 2773.5,744.4 2776.0,744.4 2776.0,743.5 2778.5,743.5 2778.5,744.7 2781.0,744.7 2781.0,745.6 2783.5,745.6 2783.5,744.9 2786.0,744.9 2786.0,744.9 2788.5,744.9 2788.5,745.8 2791.0,745.8 2791.0,744.8 2793.5,744.8 2793.5,748.1 2796.0,748.1 2796.0,747.3 2798.5,747.3 2798.5,746.7 2801.0,746.7 2801.0,747.1 2803.5,747.1 2803.5,746.9 2806.0,746.9 2806.0,749.7 2808.5,749.7 2808.5,747.2 2811.0,747.2 2811.0,748.8 2813.5,748.8 2813.5,748.6 2816.0,748.6 2816.0,753.5 2818.5,753.5 2818.5,752.6 2821.0,752.6 2821.0,755.2 2823.5,755.2 2823.5,758.1 2826.0,758.1 2826.0,760.7 2828.5,760.7 2828.5,762.3 2831.0,762.3 2831.0,764.3 2833.5,764.3 2833.5,766.3 2836.0,766.3 2836.0,768.7 2838.5,768.7 2838.5,766.2 2841.0,766.2 2841.0,771.4 2843.5,771.4 2843.5,774.6 2846.0,774.6 2846.0,774.7 2848.5,774.7 2848.5,777.6 2851.0,777.6 2851.0,776.2 2853.5,776.2 2853.5,776.8 2856.0,776.8 2856.0,776.5 2858.5,776.5 2858.5,777.7 2861.0,777.7 2861.0,777.1 2863.5,777.1 2863.5,779.3 2866.0,779.3 2866.0,778.1 2868.5,778.1 2868.5,777.9 2871.0,777.9 2871.0,779.2 2873.5,779.2 2873.5,777.7 2876.0,777.7 2876.0,778.9 2878.5,778.9 2878.5,780.9 2881.0,780.9 2881.0,779.0 2883.5,779.0 2883.5,779.5 2886.0,779.5 2886.0,780.3 2888.5,780.3 2888.5,781.4 2891.0,781.4 2891.0,779.9 2893.5,779.9 2893.5,779.6 2896.0,779.6 2896.0,780.1 2898.5,780.1 2898.5,778.8 2901.0,778.8 2901.0,778.6 2903.5,778.6 2903.5,779.6 2906.0,779.6 2906.0,777.4 2908.5,777.4 2908.5,778.3 2911.0,778.3 2911.0,778.7 2913.5,778.7 2913.5,780.0 2916.0,780.0 2916.0,778.0 2918.5,778.0 2918.5,779.8 2921.0,779.8 2921.0,778.3 2923.5,778.3 2923.5,777.2 2926.0,777.2 2926.0,780.2 2928.5,780.2 2928.5,778.8 2931.0,778.8 2931.0,780.2 2933.5,780.2 2933.5,780.1 2936.0,780.1 2936.0,780.5 2938.5,780.5 2938.5,778.1 2941.0,778.1 2941.0,779.5 2943.5,779.5 2943.5,778.6 2946.0,778.6 2946.0,780.3 2948.5,780.3 2948.5,779.4 2951.0,779.4 2951.0,780.6 2953.5,780.6 2953.5,780.0 2956.0,780.0 2956.0,779.8 2958.5,779.8 2958.5,779.0 2961.0,779.0 2961.0,782.1 2963.5,782.1 2963.5,781.7 2966.0,781.7 2966.0,781.3 2968.5,781.3 2968.5,780.7 2971.0,780.7 2971.0,781.9 2973.5,781.9 2973.5,782.3 2976.0,782.3 2976.0,780.9 2978.5,780.9 2978.5,783.3 2981.0,783.3 2981.0,781.2 2983.5,781.2 2983.5,782.9 2986.0,782.9 2986.0,783.5 2988.5,783.5 2988.5,777.4 2991.0,777.4 2991.0,782.6 2993.5,782.6 2993.5,782.7 2996.0,782.7 2996.0,782.4 2998.5,782.4 2998.5,784.7 3001.0,784.7 3001.0,782.7 3003.5,782.7 3003.5,782.8 3006.0,782.8 3006.0,784.6 3008.5,784.6 3008.5,784.9 3011.0,784.9 3011.0,783.7 3013.5,783.7 3013.5,781.7 3016.0,781.7 3016.0,784.5 3018.5,784.5 3018.5,784.6 3021.0,784.6 3021.0,782.6 3023.5,782.6 3023.5,784.9 3026.0,784.9 3026.0,785.2 3028.5,785.2 3028.5,783.6 3031.0,783.6 3031.0,783.4 3033.5,783.4 3033.5,786.0 3036.0,786.0 3036.0,786.1 3038.5,786.1 3038.5,784.3 3041.0,784.3 3041.0,784.7 3043.5,784.7 3043.5,785.4 3046.0,785.4 3046.0,785.1 3048.5,785.1 3048.5,786.4 3051.0,786.4 3051.0,785.7 3053.5,785.7 3053.5,788.7 3056.0,788.7 3056.0,787.0 3058.5,787.0 3058.5,787.5 3061.0,787.5 3061.0,787.3 3063.5,787.3 3063.5,789.0 3066.0,789.0 3066.0,790.9 3068.5,790.9 3068.5,790.0 3071.0,790.0 3071.0,790.2 3073.5,790.2 3073.5,793.3 3076.0,793.3 3076.0,791.6 3078.5,791.6 3078.5,794.2 3081.0,794.2 3081.0,795.6 3083.5,795.6 3083.5,796.2 3086.0,796.2 3086.0,794.4 3088.5,794.4 3088.5,794.7 3091.0,794.7 3091.0,795.8 3093.5,795.8 3093.5,797.5 3096.0,797.5 3096.0,796.9 3098.5,796.9 3098.5,797.4 3101.0,797.4 3101.0,797.6 3103.5,797.6 3103.5,799.7 3106.0,799.7 3106.0,801.0 3108.5,801.0 3108.5,801.2 3111.0,801.2 3111.0,800.6 3113.5,800.6 3113.5,800.3 3116.0,800.3 3116.0,803.6 3118.5,803.6 3118.5,803.5 3121.0,803.5 3121.0,803.7 3123.5,803.7 3123.5,804.1 3126.0,804.1 3126.0,803.1 3128.5,803.1 3128.5,804.2 3131.0,804.2 3131.0,806.0 3133.5,806.0 3133.5,804.9 3136.0,804.9 3136.0,806.2 3138.5,806.2 3138.5,806.5 3141.0,806.5 3141.0,804.5 3143.5,804.5 3143.5,805.9 3146.0,805.9 3146.0,804.7 3148.5,804.7 3148.5,805.8 3151.0,805.8 3151.0,804.4 3153.5,804.4 3153.5,804.7 3156.0,804.7 3156.0,804.1 3158.5,804.1 3158.5,806.7 3161.0,806.7 3161.0,806.0 3163.5,806.0 3163.5,803.6 3166.0,803.6 3166.0,804.2 3168.5,804.2 3168.5,804.8 3171.0,804.8 3171.0,804.6 3173.5,804.6 3173.5,804.1 3176.0,804.1 3176.0,805.5 3178.5,805.5 3178.5,804.4 3181.0,804.4 3181.0,805.9 3183.5,805.9 3183.5,803.5 3186.0,803.5 3186.0,806.2 3188.5,806.2 3188.5,803.7 3191.0,803.7 3191.0,805.6 3193.5,805.6 3193.5,804.4 3196.0,804.4 3196.0,806.3 3198.5,806.3 3198.5,806.7 3201.0,806.7 3201.0,804.5 3203.5,804.5 3203.5,806.4 3206.0,806.4 3206.0,808.7 3208.5,808.7 3208.5,806.9 3211.0,806.9 3211.0,808.9 3213.5,808.9 3213.5,810.6 3216.0,810.6 3216.0,811.9 3218.5,811.9 3218.5,811.4 3221.0,811.4 3221.0,813.1 3223.5,813.1 3223.5,813.3 3226.0,813.3 3226.0,812.7 3228.5,812.7 3228.5,813.2 3231.0,813.2 3231.0,816.7 3233.5,816.7 3233.5,816.6 3236.0,816.6 3236.0,816.9 3238.5,816.9 3238.5,815.1 3241.0,815.1 3241.0,815.1 3243.5,815.1 3243.5,814.2 3246.0,814.2 3246.0,813.6 3248.5,813.6 3248.5,815.2 3251.0,815.2 3251.0,813.3 3253.5,813.3 3253.5,813.6 3256.0,813.6 3256.0,812.9 3258.5,812.9 3258.5,814.4 3261.0,814.4 3261.0,813.0 3263.5,813.0 3263.5,813.5 3266.0,813.5 3266.0,812.9 3268.5,812.9 3268.5,812.2 3271.0,812.2 3271.0,811.3 3273.5,811.3 3273.5,812.3 3276.0,812.3 3276.0,810.2 3278.5,810.2 3278.5,809.7 3281.0,809.7 3281.0,809.7 3283.5,809.7 3283.5,811.0 3286.0,811.0 3286.0,808.7 3288.5,808.7 3288.5,809.7 3291.0,809.7 3291.0,808.4 3293.5,808.4 3293.5,807.6 3296.0,807.6 3296.0,810.0 3298.5,810.0 3298.5,809.6 3301.0,809.6 3301.0,808.9 3303.5,808.9 3303.5,808.4 3306.0,808.4 3306.0,807.2 3308.5,807.2 3308.5,806.4 3311.0,806.4 3311.0,808.5 3313.5,808.5 3313.5,809.4 3316.0,809.4 3316.0,806.8 3318.5,806.8 3318.5,806.3 3321.0,806.3 3321.0,808.4 3323.5,808.4 3323.5,806.6 3326.0,806.6 3326.0,807.7 3328.5,807.7 3328.5,808.5 3331.0,808.5 3331.0,807.9 3333.5,807.9 3333.5,807.6 3336.0,807.6 3336.0,805.5 3338.5,805.5 3338.5,805.9 3341.0,805.9 3341.0,806.5 3343.5,806.5 3343.5,807.4 3346.0,807.4 3346.0,804.4 3348.5,804.4 3348.5,806.3 3351.0,806.3 3351.0,806.4 3353.5,806.4 3353.5,807.1 3356.0,807.1 3356.0,805.4 3358.5,805.4 3358.5,804.6 3361.0,804.6 3361.0,803.6 3363.5,803.6 3363.5,803.8 3366.0,803.8 3366.0,806.4 3368.5,806.4 3368.5,803.0 3371.0,803.0 3371.0,803.4 3373.5,803.4 3373.5,802.6 3376.0,802.6 3376.0,805.5 3378.5,805.5 3378.5,804.0 3381.0,804.0 3381.0,804.8 3383.5,804.8 3383.5,804.0 3386.0,804.0 3386.0,804.0 3388.5,804.0 3388.5,805.4 3391.0,805.4 3391.0,803.1 3393.5,803.1 3393.5,804.1 3396.0,804.1 3396.0,803.7 3398.5,803.7 3398.5,802.8 3401.0,802.8 3401.0,804.1 3403.5,804.1 3403.5,805.7 3406.0,805.7 3406.0,805.9 3408.5,805.9 3408.5,804.7 3411.0,804.7 3411.0,802.7 3413.5,802.7 3413.5,804.6 3416.0,804.6 3416.0,804.5 3418.5,804.5 3418.5,804.2 3421.0,804.2 3421.0,803.5 3423.5,803.5 3423.5,805.6 3426.0,805.6 3426.0,803.2 3428.5,803.2 3428.5,804.1 3431.0,804.1 3431.0,804.8 3433.5,804.8 3433.5,804.5 3436.0,804.5 3436.0,804.4 3438.5,804.4 3438.5,803.9 3441.0,803.9 3441.0,803.1 3443.5,803.1 3443.5,804.4 3446.0,804.4 3446.0,805.8 3448.5,805.8 3448.5,803.8 3451.0,803.8 3451.0,805.0 3453.5,805.0 3453.5,806.7 3456.0,806.7 3456.0,807.4 3458.5,807.4 3458.5,807.8 3461.0,807.8 3461.0,806.9 3463.5,806.9 3463.5,807.5 3466.0,807.5 3466.0,810.9 3468.5,810.9 3468.5,811.1 3471.0,811.1 3471.0,809.6 3473.5,809.6 3473.5,812.4 3476.0,812.4 3476.0,813.4 3478.5,813.4 3478.5,811.7 3481.0,811.7 3481.0,813.3 3483.5,813.3 3483.5,811.3 3486.0,811.3 3486.0,810.5 3488.5,810.5 3488.5,807.4 3491.0,807.4 3491.0,810.1 3493.5,810.1 3493.5,811.4 3496.0,811.4 3496.0,811.5 3498.5,811.5 3498.5,811.0 3501.0,811.0 3501.0,810.7 3503.5,810.7 3503.5,807.6 3506.0,807.6 3506.0,807.7 3508.5,807.7 3508.5,808.4 3511.0,808.4 3511.0,806.0 3513.5,806.0 3513.5,807.7 3516.0,807.7 3516.0,807.6 3518.5,807.6 3518.5,807.9 3521.0,807.9 3521.0,808.4 3523.5,808.4 3523.5,807.6 3526.0,807.6 3526.0,810.3 3528.5,810.3 3528.5,809.3 3531.0,809.3 3531.0,812.3 3533.5,812.3 3533.5,808.2 3536.0,808.2 3536.0,813.6 3538.5,813.6 3538.5,813.5 3541.0,813.5 3541.0,814.7 3543.5,814.7 3543.5,813.5 3546.0,813.5 3546.0,815.6 3548.5,815.6 3548.5,817.2 3551.0,817.2 3551.0,815.4 3553.5,815.4 3553.5,817.4 3556.0,817.4 3556.0,821.4 3558.5,821.4 3558.5,819.9 3561.0,819.9 3561.0,824.1 3563.5,824.1 3563.5,824.1 3566.0,824.1 3566.0,824.7 3568.5,824.7 3568.5,827.0 3571.0,827.0 3571.0,829.2 3573.5,829.2 3573.5,829.7 3576.0,829.7 3576.0,833.2 3578.5,833.2 3578.5,831.7 3581.0,831.7 3581.0,834.2 3583.5,834.2 3583.5,836.4 3586.0,836.4 3586.0,833.6 3588.5,833.6 3588.5,836.2 3591.0,836.2 3591.0,844.1 3593.5,844.1 3593.5,843.5 3596.0,843.5 3596.0,846.2 3598.5,846.2 3598.5,849.3 3601.0,849.3 3601.0,851.8 3603.5,851.8 3603.5,855.4 3606.0,855.4 3606.0,854.5 3608.5,854.5 3608.5,859.3 3611.0,859.3 3611.0,861.6 3613.5,861.6 3613.5,863.4 3616.0,863.4 3616.0,864.4 3618.5,864.4 3618.5,868.8 3621.0,868.8 3621.0,869.9 3623.5,869.9 3623.5,870.0 3626.0,870.0 3626.0,868.9 3628.5,868.9 3628.5,868.2 3631.0,868.2 3631.0,868.3 3633.5,868.3 3633.5,867.9 3636.0,867.9 3636.0,870.0 3637.0,870.0 3637.0,960.0 266.0,960.0" fill="#00ffff" />
<rect x="1504.1" y="804.2" width="1.0" height="14.1" fill="#fff"/>
<rect x="3618.7" y="864.4" width="1.0" height="7.4" fill="#fff"/>
<rect x="294.3" y="739.2" width="2.0" height="10.5" fill="#fff"/>
<rect x="1766.9" y="798.6" width="2.0" height="13.7" fill="#fff"/>
<rect x="3393.1" y="801.0" width="2.0" height="6.7" fill="#fff"/>
<rect x="1306.5" y="788.0" width="2.0" height="11.7" fill="#fff"/>
<rect x="2483.8" y="725.0" width="1.5" height="6.7" fill="#fff"/>
<rect x="909.2" y="861.5" width="1.0" height="11.8" fill="#fff"/>
<rect x="1457.7" y="802.7" width="1.5" height="9.6" fill="#fff"/>
<rect x="2872.1" y="775.8" width="1.5" height="13.2" fill="#fff"/>
<rect x="3367.8" y="801.4" width="1.5" height="9.2" fill="#fff"/>
<rect x="858.8" y="856.2" width="1.5" height="11.5" fill="#fff"/>
<rect x="2818.5" y="750.6" width="2.0" height="8.7" fill="#fff"/>
<rect x="2636.8" y="732.6" width="1.0" height="6.5" fill="#fff"/>
<rect x="1775.0" y="800.2" width="2.0" height="8.8" fill="#fff"/>
<rect x="1956.4" y="828.5" width="1.0" height="8.0" fill="#fff"/>
<rect x="2735.9" y="735.2" width="1.0" height="12.0" fill="#fff"/>
<rect x="536.5" y="740.7" width="2.0" height="9.4" fill="#fff"/>
<rect x="729.2" y="763.9" width="1.0" height="8.7" fill="#fff"/>
<rect x="2428.8" y="722.9" width="1.0" height="12.4" fill="#fff"/>
<rect x="3370.9" y="801.2" width="1.0" height="9.2" fill="#fff"/>
<rect x="3185.6" y="802.0" width="1.0" height="12.5" fill="#fff"/>
<rect x="1631.9" y="815.0" width="2.0" height="14.0" fill="#fff"/>
<rect x="856.3" y="856.4" width="1.5" height="14.0" fill="#fff"/>
<rect x="563.0" y="743.8" width="2.0" height="9.3" fill="#fff"/>
<rect x="1931.0" y="825.7" width="2.0" height="10.0" fill="#fff"/>
<rect x="3429.2" y="801.0" width="1.0" height="6.3" fill="#fff"/>
<rect x="1334.8" y="788.0" width="2.0" height="15.9" fill="#fff"/>
<rect x="458.2" y="724.0" width="2.0" height="13.1" fill="#fff"/>
<rect x="3075.3" y="789.3" width="1.0" height="6.9" fill="#fff"/>
<rect x="794.8" y="858.4" width="1.0" height="11.3" fill="#fff"/>
<rect x="3094.4" y="794.2" width="1.5" height="14.1" fill="#fff"/>
<rect x="1692.1" y="802.6" width="2.0" height="12.8" fill="#fff"/>
<rect x="3179.4" y="802.0" width="1.0" height="12.6" fill="#fff"/>
<rect x="2291.3" y="703.8" width="1.5" height="8.3" fill="#fff"/>
<rect x="2348.8" y="706.7" width="2.0" height="10.8" fill="#fff"/>
<rect x="376.3" y="718.1" width="2.0" height="9.1" fill="#fff"/>
<rect x="2866.0" y="775.1" width="2.0" height="10.5" fill="#fff"/>
<rect x="1205.0" y="901.1" width="2.0" height="11.3" fill="#fff"/>
<rect x="1190.4" y="890.0" width="1.5" height="6.1" fill="#fff"/>
<rect x="1868.6" y="816.8" width="2.0" height="14.1" fill="#fff"/>
<rect x="3552.2" y="814.6" width="1.0" height="15.9" fill="#fff"/>
<rect x="1036.6" y="862.8" width="1.0" height="15.4" fill="#fff"/>
<rect x="2368.8" y="711.5" width="1.0" height="6.6" fill="#fff"/>
<rect x="1956.2" y="828.5" width="2.0" height="13.8" fill="#fff"/>
<rect x="1140.6" y="890.0" width="2.0" height="9.7" fill="#fff"/>
<rect x="866.2" y="855.8" width="2.0" height="14.6" fill="#fff"/>
<rect x="2887.8" y="776.7" width="2.0" height="6.3" fill="#fff"/>
<rect x="2884.4" y="776.9" width="1.0" height="10.4" fill="#fff"/>
<rect x="3159.0" y="802.0" width="1.0" height="12.4" fill="#fff"/>
<rect x="1426.6" y="793.7" width="1.5" height="10.6" fill="#fff"/>
<rect x="1358.1" y="788.2" width="1.0" height="7.1" fill="#fff"/>
<rect x="2734.2" y="734.9" width="1.0" height="14.1" fill="#fff"/>
<rect x="3339.9" y="803.2" width="2.0" height="14.6" fill="#fff"/>
<rect x="471.6" y="724.8" width="2.0" height="9.8" fill="#fff"/>
<rect x="3317.6" y="804.4" width="1.5" height="15.4" fill="#fff"/>
<rect x="2377.1" y="714.3" width="1.0" height="6.3" fill="#fff"/>
<rect x="339.8" y="718.5" width="2.0" height="10.3" fill="#fff"/>
<rect x="1047.4" y="882.2" width="1.0" height="9.3" fill="#fff"/>
<rect x="1700.0" y="801.2" width="1.5" height="9.0" fill="#fff"/>
<rect x="3610.9" y="857.3" width="1.0" height="15.8" fill="#fff"/>
<rect x="2927.2" y="775.4" width="1.5" height="14.6" fill="#fff"/>
<rect x="3190.7" y="802.0" width="1.5" height="15.5" fill="#fff"/>
<rect x="728.7" y="763.8" width="1.5" height="8.8" fill="#fff"/>
<rect x="1383.9" y="789.7" width="1.5" height="14.7" fill="#fff"/>
<rect x="1109.1" y="890.0" width="1.5" height="12.8" fill="#fff"/>
<rect x="2277.9" y="703.2" width="1.5" height="8.1" fill="#fff"/>
<rect x="445.1" y="723.3" width="1.0" height="14.5" fill="#fff"/>
<rect x="2741.3" y="736.2" width="1.0" height="13.8" fill="#fff"/>
<rect x="3170.8" y="802.0" width="1.0" height="10.3" fill="#fff"/>
<rect x="739.7" y="766.9" width="1.5" height="12.9" fill="#fff"/>
<rect x="2974.9" y="778.9" width="1.0" height="15.7" fill="#fff"/>
<rect x="301.7" y="738.7" width="1.5" height="7.5" fill="#fff"/>
<rect x="2743.0" y="736.5" width="1.0" height="13.5" fill="#fff"/>
<rect x="1830.6" y="809.3" width="1.5" height="6.9" fill="#fff"/>
<rect x="1410.9" y="791.3" width="2.0" height="13.2" fill="#fff"/>
<rect x="3233.4" y="813.2" width="1.0" height="11.9" fill="#fff"/>
<rect x="946.6" y="861.2" width="2.0" height="12.9" fill="#fff"/>
<rect x="397.3" y="718.5" width="2.0" height="12.0" fill="#fff"/>
<rect x="2201.5" y="695.1" width="2.0" height="7.0" fill="#fff"/>
<rect x="337.0" y="718.7" width="1.5" height="6.6" fill="#fff"/>
<rect x="640.8" y="745.5" width="1.5" height="15.7" fill="#fff"/>
<rect x="278.6" y="739.6" width="1.0" height="12.9" fill="#fff"/>
<rect x="767.1" y="777.1" width="2.0" height="11.5" fill="#fff"/>
<rect x="3607.8" y="854.5" width="2.0" height="9.5" fill="#fff"/>
<rect x="1937.5" y="826.4" width="1.0" height="9.5" fill="#fff"/>
<rect x="992.9" y="861.0" width="1.0" height="13.3" fill="#fff"/>
<rect x="1187.2" y="890.0" width="1.0" height="6.2" fill="#fff"/>
<rect x="1173.9" y="890.0" width="1.0" height="8.0" fill="#fff"/>
<rect x="430.8" y="720.7" width="2.0" height="15.5" fill="#fff"/>
<rect x="1167.8" y="890.0" width="1.5" height="12.9" fill="#fff"/>
<rect x="2464.5" y="724.1" width="2.0" height="8.8" fill="#fff"/>
<rect x="1381.3" y="789.6" width="1.5" height="15.8" fill="#fff"/>
<rect x="3206.9" y="804.6" width="2.0" height="8.7" fill="#fff"/>
<rect x="1687.8" y="802.9" width="2.0" height="10.2" fill="#fff"/>
<rect x="3539.1" y="810.2" width="1.5" height="13.6" fill="#fff"/>
<rect x="3232.4" y="812.9" width="1.0" height="15.0" fill="#fff"/>
<rect x="2403.5" y="720.3" width="1.0" height="12.1" fill="#fff"/>
<rect x="3382.3" y="801.0" width="1.5" height="12.9" fill="#fff"/>
<rect x="2722.8" y="732.8" width="1.0" height="14.3" fill="#fff"/>
<rect x="2499.1" y="725.6" width="1.0" height="14.4" fill="#fff"/>
<rect x="2904.1" y="775.7" width="2.0" height="6.5" fill="#fff"/>
<rect x="2602.5" y="731.0" width="1.5" height="12.8" fill="#fff"/>
<rect x="1756.6" y="797.0" width="2.0" height="9.2" fill="#fff"/>
<rect x="3534.6" y="808.9" width="1.0" height="10.7" fill="#fff"/>
<rect x="2445.0" y="723.4" width="1.5" height="11.1" fill="#fff"/>
<rect x="2260.1" y="702.1" width="1.5" height="8.3" fill="#fff"/>
<rect x="2385.2" y="716.9" width="2.0" height="14.7" fill="#fff"/>
<rect x="1463.5" y="802.8" width="1.0" height="9.9" fill="#fff"/>
<rect x="2329.1" y="705.5" width="2.0" height="14.3" fill="#fff"/>
<rect x="511.9" y="738.2" width="2.0" height="12.6" fill="#fff"/>
<rect x="3374.5" y="801.0" width="1.5" height="8.6" fill="#fff"/>
<rect x="3095.8" y="794.5" width="2.0" height="9.5" fill="#fff"/>
<rect x="2250.7" y="701.6" width="2.0" height="8.2" fill="#fff"/>
<rect x="747.4" y="768.8" width="2.0" height="9.6" fill="#fff"/>
<rect x="958.3" y="861.0" width="1.0" height="14.1" fill="#fff"/>
<rect x="1071.8" y="886.2" width="1.0" height="7.5" fill="#fff"/>
<rect x="2493.7" y="725.5" width="1.0" height="12.4" fill="#fff"/>
<rect x="3050.2" y="783.8" width="2.0" height="14.7" fill="#fff"/>
<rect x="415.4" y="718.8" width="1.5" height="9.6" fill="#fff"/>
<rect x="3171.7" y="802.0" width="1.5" height="7.2" fill="#fff"/>
<rect x="1115.0" y="890.0" width="1.0" height="9.6" fill="#fff"/>
<rect x="2497.7" y="725.6" width="2.0" height="11.2" fill="#fff"/>
<rect x="1791.4" y="803.5" width="1.0" height="8.8" fill="#fff"/>
<rect x="1246.1" y="893.5" width="1.5" height="13.0" fill="#fff"/>
<rect x="1779.7" y="801.1" width="1.5" height="13.3" fill="#fff"/>
<rect x="856.4" y="856.4" width="2.0" height="7.5" fill="#fff"/>
<rect x="2555.4" y="735.0" width="1.5" height="10.9" fill="#fff"/>
<rect x="2488.5" y="725.2" width="2.0" height="9.7" fill="#fff"/>
<rect x="1412.7" y="791.4" width="1.5" height="8.5" fill="#fff"/>
<rect x="2138.8" y="683.2" width="1.0" height="11.7" fill="#fff"/>
<rect x="464.0" y="724.3" width="1.0" height="9.1" fill="#fff"/>
<rect x="2100.1" y="647.6" width="1.5" height="8.6" fill="#fff"/>
<rect x="1161.8" y="890.0" width="1.5" height="6.9" fill="#fff"/>
<rect x="2407.4" y="720.7" width="1.0" height="8.0" fill="#fff"/>
<rect x="1691.8" y="802.7" width="1.5" height="12.2" fill="#fff"/>
<rect x="1518.6" y="809.3" width="1.0" height="13.2" fill="#fff"/>
<rect x="1532.4" y="814.8" width="1.0" height="13.1" fill="#fff"/>
<rect x="1640.6" y="811.2" width="2.0" height="12.1" fill="#fff"/>
<rect x="1132.8" y="890.0" width="1.0" height="9.9" fill="#fff"/>
<rect x="2214.4" y="699.9" width="2.0" height="7.9" fill="#fff"/>
<rect x="3533.8" y="808.7" width="2.0" height="11.8" fill="#fff"/>
<rect x="482.9" y="731.6" width="1.0" height="9.3" fill="#fff"/>
<rect x="507.8" y="737.8" width="1.5" height="9.8" fill="#fff"/>
<rect x="1938.6" y="826.5" width="2.0" height="13.6" fill="#fff"/>
<rect x="356.0" y="718.0" width="2.0" height="11.6" fill="#fff"/>
<rect x="3411.8" y="801.0" width="2.0" height="14.4" fill="#fff"/>
<rect x="1664.0" y="802.3" width="1.5" height="7.8" fill="#fff"/>
<rect x="488.7" y="733.4" width="1.5" height="10.9" fill="#fff"/>
<rect x="1989.6" y="831.7" width="1.0" height="12.7" fill="#fff"/>
<rect x="2757.9" y="738.7" width="1.5" height="11.4" fill="#fff"/>
<rect x="3380.6" y="801.0" width="1.5" height="11.5" fill="#fff"/>
<rect x="2854.6" y="773.8" width="1.5" height="7.2" fill="#fff"/>
<rect x="1011.6" y="861.0" width="1.0" height="11.7" fill="#fff"/>
<rect x="322.0" y="734.0" width="1.5" height="6.9" fill="#fff"/>
<rect x="2801.1" y="744.5" width="2.0" height="10.5" fill="#fff"/>
<rect x="3038.6" y="782.2" width="1.0" height="13.1" fill="#fff"/>
<rect x="1892.2" y="820.8" width="1.0" height="11.5" fill="#fff"/>
<rect x="2783.0" y="742.2" width="2.0" height="7.4" fill="#fff"/>
<rect x="1637.4" y="812.6" width="1.0" height="14.7" fill="#fff"/>
<rect x="759.0" y="771.6" width="1.5" height="7.9" fill="#fff"/>
<rect x="3570.3" y="825.2" width="1.0" height="15.9" fill="#fff"/>
<polygon points="1258.0,822.0 1261.1,821.4 1264.3,822.2 1267.4,825.5 1270.6,824.3 1273.7,822.6 1276.9,827.3 1280.0,826.0 1282.0,830.4 1284.0,830.4 1286.0,833.2 1288.0,836.3 1290.0,839.0 1293.1,838.5 1296.2,837.8 1299.3,836.4 1302.4,839.7 1305.5,840.0 1308.6,838.7 1311.7,839.0 1314.8,841.7 1317.9,840.1 1321.0,840.2 1324.0,838.4 1327.1,847.9 1330.2,838.7 1333.3,839.4 1336.4,841.4 1339.5,841.3 1342.6,842.3 1345.7,840.1 1348.8,839.9 1351.9,833.1 1355.0,842.0 1357.6,845.8 1360.2,846.4 1362.8,848.0 1365.4,852.5 1368.0,854.0 1369.8,854.8 1371.5,857.7 1373.2,862.0 1375.0,866.0 1377.0,863.4 1379.0,860.3 1381.0,859.1 1383.0,854.0 1386.1,856.5 1389.2,857.1 1392.3,853.7 1395.4,857.9 1398.5,857.6 1401.6,859.9 1404.7,866.4 1407.8,858.5 1410.9,863.7 1414.0,862.0 1415.6,865.1 1417.2,867.2 1418.8,871.0 1420.4,872.0 1422.0,877.0 1425.0,877.4 1428.0,867.9 1431.0,871.7 1434.0,873.1 1437.0,870.0 1439.0,876.9 1441.0,878.3 1443.0,881.2 1445.0,882.0 1448.3,879.1 1451.6,880.5 1454.9,881.3 1458.1,880.9 1461.4,876.6 1464.7,876.1 1468.0,877.5 1470.7,881.4 1473.3,882.5 1476.0,885.0 1478.2,885.7 1480.3,888.5 1482.5,892.3 1484.7,896.5 1486.8,896.7 1489.0,901.0 1489.5,903.2 1490.0,907.0 1486.8,908.7 1483.6,911.7 1480.3,904.6 1477.1,905.9 1473.9,904.5 1470.7,906.0 1467.4,904.3 1464.2,904.2 1461.0,905.5 1458.3,901.6 1455.7,900.3 1453.0,897.7 1449.7,894.8 1446.4,896.8 1443.1,896.7 1439.9,894.6 1436.6,893.8 1433.3,892.7 1430.0,894.6 1426.9,895.0 1423.8,898.6 1420.7,894.2 1417.6,897.3 1414.5,894.0 1411.4,897.0 1408.3,894.5 1405.2,898.0 1402.1,896.6 1399.0,897.7 1396.0,896.9 1393.0,894.1 1390.0,895.5 1387.0,893.3 1384.0,895.9 1381.0,892.4 1378.0,891.8 1375.0,893.0 1372.0,893.6 1369.0,899.4 1366.0,900.5 1363.0,901.0 1361.4,897.8 1359.8,896.6 1358.2,892.1 1356.6,888.8 1355.0,885.0 1351.9,889.5 1348.7,882.5 1345.6,884.8 1342.4,882.8 1339.3,882.4 1336.1,881.9 1333.0,879.0 1329.7,881.7 1326.3,881.5 1323.0,883.6 1319.7,884.9 1316.3,886.3 1313.0,885.0 1310.4,897.4 1307.9,890.0 1305.3,892.0 1302.8,890.6 1300.2,892.6 1297.7,897.7 1295.1,898.5 1292.6,900.6 1290.0,901.0 1286.8,901.7 1283.6,902.2 1280.4,898.3 1277.2,901.9 1274.0,900.5 1270.8,901.1 1267.6,902.8 1264.4,899.0 1261.2,899.0 1258.0,899.0 1258.0,894.5 1258.0,894.6 1258.0,884.6 1258.0,887.7 1258.0,884.4 1258.0,878.6 1258.0,875.1 1258.0,872.8 1258.0,873.6 1258.0,866.8 1258.0,865.7 1258.0,861.5 1258.0,861.2 1258.0,858.3 1258.0,854.5 1258.0,844.0 1258.0,848.9 1258.0,845.1 1258.0,840.7 1258.0,839.2 1258.0,833.7 1258.0,833.2 1258.0,826.0 1258.0,824.8" fill="#fff" />
<polygon points="1492.0,905.0 1494.1,901.9 1496.3,900.8 1498.4,897.8 1500.6,897.3 1502.7,892.2 1504.9,888.2 1507.0,888.0 1510.2,888.3 1513.4,886.5 1516.6,888.2 1519.8,883.7 1523.0,885.0 1525.5,881.2 1528.0,883.0 1530.5,879.4 1533.0,874.7 1535.5,876.2 1538.0,873.0 1541.2,872.8 1544.4,873.8 1547.6,875.3 1550.8,877.3 1554.0,877.5 1557.1,878.2 1560.2,879.5 1563.3,878.0 1566.4,875.2 1569.5,878.4 1572.6,875.8 1575.7,876.5 1578.8,874.6 1581.9,874.5 1585.0,876.0 1588.1,874.7 1591.2,877.2 1594.3,881.0 1597.4,878.6 1600.5,879.0 1603.6,876.8 1606.7,881.8 1609.8,885.5 1612.9,882.6 1616.0,885.0 1619.1,884.5 1622.2,885.1 1625.3,883.2 1628.4,885.1 1631.5,883.8 1634.6,884.5 1637.7,882.2 1640.8,882.7 1643.9,883.0 1647.0,882.0 1650.1,889.9 1653.1,883.7 1656.2,886.2 1659.3,884.3 1662.4,886.7 1665.4,885.6 1668.5,884.8 1671.6,888.2 1674.6,888.8 1677.7,890.2 1680.8,891.7 1683.9,889.4 1686.9,892.4 1690.0,891.5 1692.9,891.6 1695.7,894.9 1698.6,897.3 1701.4,896.2 1704.3,897.5 1707.1,901.4 1710.0,903.0 1713.0,905.6 1716.0,906.1 1719.0,907.3 1722.0,911.6 1725.0,912.0 1725.0,917.0 1721.9,915.0 1718.8,917.8 1715.6,918.2 1712.5,917.2 1709.4,916.5 1706.2,913.7 1703.1,916.3 1700.0,915.0 1696.7,913.6 1693.3,912.4 1690.0,908.6 1687.0,906.9 1684.0,906.0 1681.0,910.1 1678.0,906.7 1675.0,905.0 1672.0,908.3 1669.0,904.8 1666.0,904.1 1663.0,906.0 1659.9,906.5 1656.8,904.2 1653.7,904.8 1650.6,907.7 1647.5,906.5 1644.4,906.1 1641.3,906.4 1638.2,909.6 1635.1,906.0 1632.0,908.6 1628.8,905.5 1625.6,909.0 1622.4,907.4 1619.2,905.1 1616.0,905.2 1612.8,905.9 1609.6,904.8 1606.4,901.7 1603.2,899.6 1600.0,901.0 1596.9,899.5 1593.9,902.5 1590.8,901.7 1587.7,900.6 1584.7,901.4 1581.6,904.0 1578.5,902.8 1575.5,904.4 1572.4,902.5 1569.3,905.0 1566.3,905.5 1563.2,906.7 1560.1,900.7 1557.1,902.8 1554.0,905.5 1551.3,908.4 1548.7,907.8 1546.0,909.1 1543.3,915.0 1540.7,912.0 1538.0,916.0 1535.0,913.8 1532.0,914.6 1529.0,903.3 1526.0,911.5 1523.0,908.6 1520.3,909.2 1517.7,906.4 1515.0,904.8 1512.3,899.4 1509.7,899.6 1507.0,897.7 1504.0,905.3 1501.0,901.7 1498.0,904.5 1495.0,904.7" fill="#fff" />
<polygon points="2037.0,723.0 2038.5,727.3 2039.9,721.4 2041.4,731.5 2042.8,731.3 2044.3,737.9 2045.8,736.9 2047.2,738.8 2048.7,745.2 2050.2,747.2 2051.6,748.5 2053.1,754.6 2054.5,753.3 2056.0,758.0 2058.4,758.5 2060.8,762.6 2063.2,765.9 2065.6,771.3 2068.0,770.0 2070.6,769.8 2073.1,773.5 2075.7,777.1 2078.2,778.7 2080.8,779.9 2083.3,784.0 2085.9,781.8 2088.4,788.4 2091.0,788.0 2093.9,788.6 2096.8,792.0 2099.8,785.4 2102.7,795.0 2105.6,786.9 2108.5,797.2 2111.4,797.0 2114.3,798.0 2117.2,797.3 2120.2,797.3 2123.1,798.9 2126.0,802.0 2129.1,803.3 2132.2,804.0 2135.2,808.0 2138.3,804.9 2141.4,800.8 2144.5,803.8 2147.6,803.8 2150.7,804.5 2153.8,803.0 2156.8,803.5 2159.9,802.3 2163.0,805.0 2166.1,802.0 2169.2,805.2 2172.2,801.1 2175.3,800.9 2178.4,799.7 2181.5,801.2 2184.6,798.3 2187.7,801.4 2190.8,797.0 2193.8,797.3 2196.9,795.9 2200.0,797.0 2202.9,798.4 2205.8,785.6 2208.6,795.0 2211.5,793.1 2214.4,791.5 2217.2,791.7 2220.1,791.2 2223.0,789.0 2226.1,790.9 2229.1,793.1 2232.2,790.4 2235.2,790.4 2238.3,790.6 2241.4,789.3 2244.4,787.2 2247.5,786.2 2250.5,790.3 2253.6,790.0 2256.6,789.4 2259.7,788.9 2262.8,786.2 2265.8,785.0 2268.9,789.2 2271.9,786.3 2275.0,787.0 2277.5,790.4 2280.0,792.5 2282.5,791.0 2285.0,794.1 2287.5,796.3 2290.0,801.3 2292.5,801.2 2295.0,803.2 2297.5,804.5 2300.0,807.0 2303.0,808.9 2306.0,806.9 2309.0,808.9 2312.0,808.6 2315.0,813.1 2318.0,811.4 2321.0,814.0 2323.1,817.2 2325.2,819.7 2327.4,819.5 2329.5,820.6 2331.6,823.8 2333.8,829.8 2335.9,830.2 2338.0,832.0 2341.1,832.7 2344.2,823.7 2347.4,830.3 2350.5,831.1 2353.6,835.6 2356.8,832.4 2359.9,828.6 2363.0,834.0 2365.2,835.5 2367.5,837.7 2369.8,838.0 2372.0,842.0 2375.1,841.0 2378.1,839.2 2381.2,839.9 2384.2,842.5 2387.3,834.1 2390.4,842.5 2393.4,841.0 2396.5,840.8 2399.6,846.7 2402.6,838.9 2405.7,839.6 2408.8,843.2 2411.8,836.9 2414.9,837.8 2417.9,836.4 2421.0,838.0 2423.8,838.2 2426.6,836.4 2429.4,843.7 2432.2,843.0 2435.0,845.0 2438.2,843.3 2441.4,843.0 2444.5,843.4 2447.7,843.6 2450.9,841.2 2454.1,844.8 2457.3,840.4 2460.5,840.5 2463.6,836.3 2466.8,841.7 2470.0,841.5 2466.9,840.6 2463.8,838.0 2460.8,842.7 2457.7,838.6 2454.6,845.0 2451.5,846.1 2448.4,854.5 2445.3,845.3 2442.2,844.0 2439.2,840.4 2436.1,848.7 2433.0,847.0 2430.1,848.1 2427.2,847.6 2424.2,850.1 2421.3,848.1 2418.4,850.7 2415.5,849.1 2412.6,851.8 2409.7,854.2 2406.8,852.4 2403.8,855.0 2400.9,853.5 2398.0,856.0 2394.9,858.4 2391.7,858.1 2388.6,858.5 2385.5,855.3 2382.3,853.7 2379.2,854.7 2376.1,855.4 2372.9,858.6 2369.8,859.7 2366.7,866.6 2363.5,856.5 2360.4,858.1 2357.3,858.1 2354.1,858.9 2351.0,858.5 2347.9,860.0 2344.9,860.7 2341.8,856.6 2338.7,856.9 2335.7,856.9 2332.6,855.1 2329.5,855.6 2326.5,854.7 2323.4,855.8 2320.3,857.1 2317.3,854.9 2314.2,854.6 2311.1,854.6 2308.1,856.3 2305.0,856.0 2301.9,852.8 2298.9,853.6 2295.8,854.7 2292.8,856.5 2289.7,856.0 2286.7,852.6 2283.6,860.4 2280.6,847.3 2277.5,851.6 2274.5,854.2 2271.4,852.1 2268.4,853.1 2265.3,846.7 2262.3,851.6 2259.2,852.0 2256.2,852.4 2253.1,847.6 2250.1,849.7 2247.0,849.0 2243.9,849.3 2240.8,846.3 2237.7,847.1 2234.6,844.2 2231.4,846.3 2228.3,845.9 2225.2,841.9 2222.1,844.6 2219.0,843.0 2215.7,843.9 2212.4,845.6 2209.1,842.1 2205.9,845.9 2202.6,843.3 2199.3,845.9 2196.0,844.0 2193.0,846.4 2190.0,847.4 2187.0,846.0 2184.0,847.7 2181.0,848.0 2178.0,851.2 2175.0,850.8 2172.0,856.4 2169.0,854.7 2166.0,856.4 2163.0,858.0 2159.9,861.1 2156.8,856.3 2153.8,860.3 2150.7,859.7 2147.6,858.7 2144.5,860.3 2141.4,859.3 2138.3,856.8 2135.2,858.5 2132.2,859.9 2129.1,857.1 2126.0,858.0 2123.3,857.5 2120.6,846.7 2117.9,849.3 2115.2,850.4 2112.5,845.4 2109.8,850.5 2107.2,844.9 2104.5,845.2 2101.8,843.0 2099.1,833.1 2096.4,840.8 2093.7,839.6 2091.0,837.0 2088.0,838.3 2085.0,836.0 2082.0,835.1 2079.0,830.6 2076.0,837.4 2073.0,837.4 2070.0,837.7 2067.0,834.1 2064.0,834.5 2061.0,837.4 2058.0,837.4 2055.0,836.0 2052.0,834.0 2049.0,833.5 2046.0,834.0 2043.0,834.8 2040.0,840.3 2037.0,835.0 2037.0,830.6 2037.0,829.6 2037.0,826.5 2037.0,821.4 2037.0,820.7 2037.0,815.1 2037.0,815.2 2037.0,811.9 2037.0,809.2 2037.0,803.8 2037.0,799.5 2037.0,796.9 2037.0,793.9 2037.0,794.5 2037.0,788.2 2037.0,786.7 2037.0,784.6 2037.0,774.2 2037.0,776.9 2037.0,773.2 2037.0,770.0 2037.0,768.3 2037.0,766.7 2037.0,762.1 2037.0,761.5 2037.0,754.3 2037.0,754.0 2037.0,747.9 2037.0,749.3 2037.0,744.0 2037.0,744.7 2037.0,739.5 2037.0,733.0 2037.0,730.1 2037.0,726.8 2037.0,727.4" fill="#fff" />
<polygon points="1318.0,758.0 1320.8,754.2 1323.5,751.8 1326.2,749.7 1329.0,748.6 1332.0,748.8 1335.0,750.0 1338.0,747.7 1341.0,747.9 1344.0,750.1 1347.0,749.0 1350.0,748.8 1353.0,748.1 1356.0,748.6 1359.0,751.4 1362.0,748.4 1365.0,749.0 1368.0,750.0 1370.2,753.2 1372.5,756.2 1374.8,758.6 1377.0,759.5 1380.1,760.3 1383.3,762.9 1386.4,762.5 1389.6,762.3 1392.7,763.8 1395.9,765.6 1399.0,765.7 1402.1,766.7 1405.2,764.7 1408.3,765.0 1411.4,767.9 1414.6,765.0 1417.7,767.7 1420.8,766.1 1423.9,765.9 1427.0,767.0 1429.0,763.1 1431.0,760.9 1433.0,758.0 1436.1,760.1 1439.2,757.4 1442.3,760.3 1445.4,758.7 1448.6,758.5 1451.7,760.9 1454.8,759.8 1457.9,759.5 1461.0,761.0 1463.9,762.1 1466.8,764.9 1469.6,766.4 1472.5,766.8 1475.4,766.1 1478.2,770.2 1481.1,771.0 1484.0,772.0 1487.0,773.7 1490.0,774.1 1493.0,772.1 1496.0,774.2 1499.0,774.3 1502.0,772.5 1505.0,773.1 1508.0,773.4 1511.0,773.5 1514.0,773.9 1517.0,773.1 1520.0,773.8 1523.0,775.0 1525.9,778.0 1528.8,777.8 1531.6,780.2 1534.5,782.6 1537.4,783.7 1540.2,783.5 1543.1,787.4 1546.0,787.5 1549.2,788.9 1552.4,789.9 1555.6,789.2 1558.8,789.6 1562.0,789.0 1565.2,790.4 1568.4,788.6 1571.7,790.3 1574.9,789.6 1578.1,791.5 1581.3,789.2 1584.5,790.9 1587.7,790.4 1590.9,792.4 1594.2,790.9 1597.4,793.0 1600.6,792.0 1602.9,795.3 1605.2,797.5 1607.5,797.0 1609.9,801.9 1612.2,803.3 1614.5,804.5 1614.1,808.3 1613.8,811.3 1613.4,812.2 1613.0,817.0 1609.9,818.5 1606.8,817.5 1603.7,817.3 1600.6,817.1 1597.4,818.9 1594.3,819.0 1591.2,819.5 1588.1,817.3 1585.0,818.5 1581.7,818.1 1578.4,818.0 1575.1,817.7 1571.9,818.7 1568.6,817.9 1565.3,820.9 1562.0,820.0 1558.8,817.8 1555.6,816.1 1552.4,814.8 1549.2,816.1 1546.0,814.0 1543.0,811.3 1540.0,810.7 1537.0,808.8 1534.0,808.7 1531.0,806.0 1528.0,806.6 1525.0,803.3 1522.0,803.5 1519.0,803.4 1516.0,800.9 1513.0,801.4 1510.0,799.8 1507.0,798.0 1503.7,796.5 1500.4,797.6 1497.1,795.7 1493.9,793.2 1490.6,794.0 1487.3,794.0 1484.0,792.0 1480.7,792.8 1477.4,793.4 1474.1,793.8 1470.9,796.2 1467.6,796.2 1464.3,795.2 1461.0,797.0 1457.8,795.2 1454.6,793.9 1451.4,794.8 1448.2,792.6 1445.0,790.6 1442.0,787.3 1439.0,788.3 1436.0,783.2 1433.0,783.2 1430.0,781.0 1426.8,779.6 1423.6,779.4 1420.4,777.1 1417.2,774.7 1414.0,775.0 1410.9,774.6 1407.8,775.2 1404.7,774.5 1401.6,772.5 1398.5,771.5 1395.4,772.9 1392.3,772.6 1389.2,770.0 1386.1,771.9 1383.0,770.0 1380.0,770.9 1377.0,768.0 1374.0,767.0 1371.0,767.3 1368.0,765.7 1364.9,767.3 1361.7,764.8 1358.6,765.2 1355.4,765.4 1352.3,766.9 1349.2,765.1 1346.0,766.4 1342.9,766.3 1339.7,767.0 1336.6,766.5 1333.5,764.3 1330.4,766.3 1327.3,765.5 1324.2,763.1 1321.1,763.0 1318.0,761.0" fill="#00ffff" />
<polygon points="1085.0,764.0 1088.0,761.5 1091.0,762.7 1094.0,760.0 1097.0,759.3 1100.0,757.0 1103.1,758.4 1106.2,756.7 1109.2,758.8 1112.3,756.3 1115.4,755.7 1118.5,757.5 1121.5,759.0 1124.6,759.1 1127.7,759.3 1130.8,757.8 1133.8,759.4 1136.9,758.1 1140.0,758.0 1143.1,757.5 1146.2,760.0 1149.2,761.4 1152.3,760.8 1155.4,762.2 1158.5,761.7 1161.5,762.6 1164.6,763.9 1167.7,765.0 1170.8,765.6 1173.8,765.0 1176.9,765.5 1180.0,768.0 1182.9,768.3 1185.8,770.6 1188.7,771.6 1191.6,770.7 1194.5,771.7 1197.5,773.5 1200.4,773.2 1203.3,775.6 1206.2,777.6 1209.1,776.0 1212.0,778.0 1214.5,780.2 1217.1,782.5 1219.6,784.4 1222.2,786.1 1224.7,788.0 1227.2,788.3 1229.8,792.1 1232.3,794.3 1234.8,793.0 1237.4,798.1 1239.9,798.1 1242.5,798.7 1245.0,802.0 1245.5,803.5 1246.0,809.1 1246.5,811.6 1247.0,812.7 1247.5,816.9 1248.0,820.0 1245.0,820.1 1242.0,821.0 1239.0,818.2 1236.0,819.3 1233.0,817.0 1230.0,816.4 1227.0,815.9 1224.0,816.3 1221.0,816.7 1218.0,815.1 1215.0,814.2 1212.0,815.0 1209.1,813.2 1206.2,811.8 1203.3,811.4 1200.4,811.0 1197.6,810.8 1194.7,808.9 1191.8,809.1 1188.9,808.1 1186.0,809.2 1183.1,806.6 1180.2,807.4 1177.3,804.9 1174.4,803.1 1171.6,803.7 1168.7,801.2 1165.8,800.5 1162.9,799.3 1160.0,800.0 1156.9,800.0 1153.8,800.1 1150.8,797.3 1147.7,796.4 1144.6,795.9 1141.5,794.9 1138.5,795.3 1135.4,793.5 1132.3,791.8 1129.2,793.6 1126.2,791.8 1123.1,789.0 1120.0,790.0 1117.1,790.1 1114.2,788.5 1111.3,785.9 1108.4,785.7 1105.5,785.6 1102.5,782.6 1099.6,781.5 1096.7,779.8 1093.8,779.6 1090.9,778.8 1088.0,777.0 1087.2,774.6 1086.5,772.1 1085.8,766.0" fill="#00ffff" />
<polygon points="1104.0,668.0 1107.2,666.6 1110.5,667.5 1113.8,666.4 1117.0,664.8 1120.2,664.3 1123.5,662.2 1126.8,663.5 1130.0,661.0 1133.1,661.3 1136.2,660.9 1139.4,660.2 1142.5,660.1 1145.6,663.1 1148.8,662.8 1151.9,660.2 1155.0,661.4 1158.1,662.1 1161.2,662.2 1164.4,661.9 1167.5,663.9 1170.6,662.1 1173.8,662.9 1176.9,664.4 1180.0,663.0 1182.9,664.3 1185.8,664.4 1188.8,664.6 1191.7,665.6 1194.6,667.1 1197.5,668.5 1200.4,667.4 1203.3,668.5 1206.2,669.3 1209.2,670.0 1212.1,672.7 1215.0,672.0 1214.2,675.1 1213.5,677.2 1212.8,680.4 1212.0,684.0 1209.0,685.3 1206.0,683.1 1203.0,685.1 1200.0,682.8 1197.0,683.6 1194.0,683.3 1191.0,686.1 1188.0,683.9 1185.0,684.3 1182.0,683.8 1179.0,684.7 1176.0,686.6 1173.0,686.6 1170.0,686.0 1166.9,687.4 1163.8,687.4 1160.6,685.8 1157.5,687.0 1154.4,683.9 1151.2,686.8 1148.1,684.9 1145.0,683.9 1141.9,685.8 1138.8,686.0 1135.6,684.2 1132.5,683.0 1129.4,685.7 1126.2,685.2 1123.1,684.5 1120.0,684.0 1117.7,683.4 1115.4,677.8 1113.1,675.5 1110.9,673.5 1108.6,670.8 1106.3,671.0" fill="#00ffff" />
<polygon points="1343.0,650.0 1343.5,639.5 1344.0,642.4 1344.5,641.9 1345.0,637.3 1345.5,634.7 1346.0,630.8 1346.5,631.4 1347.0,627.0 1347.5,621.4 1348.0,620.0 1351.0,618.4 1354.0,616.0 1357.0,616.8 1360.0,618.0 1363.0,615.4 1366.0,615.3 1369.0,613.4 1372.0,613.0 1375.0,616.3 1378.0,608.5 1381.0,616.9 1384.0,616.5 1387.0,621.9 1390.0,622.0 1392.8,618.5 1395.7,619.6 1398.5,619.3 1401.3,617.5 1404.2,619.3 1407.0,616.0 1410.0,618.1 1413.0,618.4 1416.0,622.5 1419.0,623.4 1422.0,626.0 1425.0,625.0 1428.0,623.3 1431.0,622.1 1434.0,620.8 1437.0,621.6 1440.0,633.3 1443.0,620.0 1446.0,628.9 1449.0,623.0 1452.0,624.4 1455.0,634.2 1458.0,624.7 1461.0,628.0 1463.7,627.8 1466.4,631.1 1469.1,631.9 1471.9,635.5 1474.6,637.7 1477.3,639.1 1480.0,640.0 1483.0,640.7 1486.0,644.9 1489.0,643.6 1492.0,646.9 1495.0,646.4 1498.0,648.0 1501.2,647.7 1504.4,654.2 1507.6,646.8 1510.8,646.6 1514.0,649.2 1517.2,647.4 1520.4,648.8 1523.6,650.6 1526.8,647.7 1530.0,650.0 1533.1,650.9 1536.2,649.4 1539.3,650.5 1542.4,651.4 1545.5,647.2 1548.6,646.9 1551.7,648.6 1554.8,646.7 1557.9,648.1 1561.0,648.0 1563.8,645.7 1566.6,644.4 1569.5,645.3 1572.3,645.0 1575.1,642.7 1577.9,651.1 1580.7,641.9 1583.5,640.5 1586.4,638.0 1589.2,639.4 1592.0,636.0 1595.1,635.4 1598.2,638.5 1601.3,636.9 1604.4,640.4 1607.5,640.8 1610.6,643.9 1613.7,642.0 1616.8,644.1 1619.9,650.3 1623.0,647.0 1626.1,649.8 1629.2,648.2 1632.2,646.0 1635.3,647.0 1638.4,650.0 1641.5,652.0 1644.5,649.5 1647.6,651.4 1650.7,653.0 1653.8,650.9 1656.8,651.1 1659.9,651.3 1663.0,653.0 1666.1,652.1 1669.2,651.5 1672.2,651.1 1675.3,653.8 1678.4,655.1 1681.5,653.9 1684.6,648.7 1687.7,655.3 1690.8,651.3 1693.8,655.0 1696.9,647.5 1700.0,653.0 1702.3,649.3 1704.6,646.7 1706.9,645.4 1709.1,644.5 1711.4,644.6 1713.7,649.1 1716.0,638.0 1718.8,647.4 1721.6,635.8 1724.5,642.1 1727.3,644.8 1730.1,644.1 1732.9,642.9 1735.7,645.9 1738.5,648.7 1741.4,646.0 1744.2,647.2 1747.0,650.0 1749.8,652.6 1752.6,652.2 1755.5,653.6 1758.3,644.0 1761.1,655.1 1763.9,657.8 1766.7,659.3 1769.5,656.7 1772.4,659.3 1775.2,662.2 1778.0,662.0 1778.8,665.8 1779.7,667.7 1780.5,673.0 1781.3,662.2 1782.2,679.5 1783.0,679.3 1783.8,682.7 1784.7,684.3 1785.5,687.5 1786.3,693.5 1787.2,694.0 1788.0,703.4 1788.8,701.0 1789.7,704.0 1790.5,711.2 1791.3,710.2 1792.2,710.4 1793.0,715.0 1793.0,717.7 1793.0,721.0 1790.5,721.1 1788.0,722.9 1785.5,727.0 1783.0,727.6 1780.5,734.3 1778.0,734.0 1774.9,732.2 1771.8,731.4 1768.7,733.1 1765.6,730.9 1762.5,733.5 1759.4,728.4 1756.3,729.7 1753.2,730.0 1750.1,730.1 1747.0,728.0 1743.9,729.5 1740.8,726.1 1737.7,724.0 1734.6,726.2 1731.5,732.0 1728.4,721.0 1725.3,720.9 1722.2,723.5 1719.1,722.7 1716.0,721.0 1713.1,722.9 1710.1,725.0 1707.2,726.4 1704.2,726.1 1701.3,723.3 1698.4,724.1 1695.4,716.6 1692.5,726.8 1689.6,730.8 1686.6,731.2 1683.7,731.8 1680.8,733.1 1677.8,733.8 1674.9,730.9 1671.9,733.1 1669.0,734.0 1666.2,734.5 1663.4,736.6 1660.5,736.2 1657.7,738.4 1654.9,740.3 1652.1,740.7 1649.3,743.0 1646.5,744.1 1643.6,742.6 1640.8,745.0 1638.0,746.0 1634.9,745.0 1631.9,747.0 1628.8,745.9 1625.7,744.6 1622.7,745.3 1619.6,745.3 1616.5,747.2 1613.5,744.7 1610.4,746.8 1607.3,746.7 1604.3,741.5 1601.2,743.7 1598.1,746.1 1595.1,748.3 1592.0,746.0 1588.8,745.8 1585.6,746.4 1582.4,750.8 1579.2,750.1 1576.0,752.0 1573.9,749.8 1571.7,749.7 1569.6,747.4 1567.4,743.0 1565.3,743.7 1563.1,737.4 1561.0,737.0 1557.9,738.2 1554.8,734.4 1551.7,736.3 1548.6,731.9 1545.5,741.5 1542.4,731.3 1539.3,731.2 1536.2,727.4 1533.1,725.2 1530.0,728.0 1527.1,728.4 1524.2,727.1 1521.3,727.9 1518.4,724.9 1515.5,722.0 1512.5,724.6 1509.6,722.1 1506.7,715.6 1503.8,720.5 1500.9,712.1 1498.0,718.0 1494.9,716.8 1491.8,716.7 1488.7,715.2 1485.6,715.5 1482.5,715.2 1479.4,722.7 1476.3,717.5 1473.2,717.0 1470.1,714.9 1467.0,715.0 1463.9,713.6 1460.9,716.4 1457.8,715.2 1454.7,710.7 1451.6,716.3 1448.6,716.5 1445.5,703.8 1442.4,713.0 1439.4,714.7 1436.3,713.9 1433.2,715.1 1430.1,713.3 1427.1,715.0 1424.0,715.0 1420.9,716.3 1417.8,715.8 1414.7,712.5 1411.6,713.1 1408.5,710.2 1405.5,714.8 1402.4,711.3 1399.3,709.8 1396.2,709.3 1393.1,711.8 1390.0,709.0 1387.4,706.9 1384.8,706.6 1382.2,704.0 1379.7,701.3 1377.1,700.9 1374.5,698.9 1371.9,695.6 1369.3,698.6 1366.8,695.6 1364.2,693.0 1361.6,689.9 1359.0,690.0 1357.3,688.4 1355.5,688.3 1353.8,680.7 1352.1,678.9 1350.4,675.4 1348.6,670.7 1346.9,673.1 1345.2,670.2 1343.5,667.4 1341.7,664.3 1340.0,662.0 1340.8,659.3 1341.5,655.3 1342.2,655.3" fill="#00ffff" />
<polygon points="1806.0,680.0 1809.0,681.9 1812.0,674.7 1815.0,677.9 1818.0,672.8 1821.0,670.9 1824.0,680.5 1827.0,669.2 1830.0,668.0 1833.1,669.3 1836.2,670.4 1839.2,670.9 1842.3,666.9 1845.4,670.3 1848.5,668.0 1851.5,669.1 1854.6,672.6 1857.7,672.6 1860.8,670.8 1863.8,670.3 1866.9,673.2 1870.0,672.0 1871.3,683.6 1872.6,677.9 1873.9,687.0 1875.2,683.0 1876.5,685.8 1877.8,691.1 1879.1,692.8 1880.4,693.1 1881.7,696.7 1883.0,700.0 1882.8,701.6 1882.6,705.3 1882.4,715.1 1882.2,713.2 1882.0,714.3 1881.8,717.2 1881.6,721.8 1881.4,724.1 1881.2,729.1 1881.0,730.0 1880.8,731.5 1880.6,735.3 1880.4,737.0 1880.2,742.7 1880.0,745.0 1877.0,744.1 1874.0,743.0 1871.0,741.6 1868.0,742.6 1865.0,743.8 1862.0,750.5 1859.0,741.9 1856.0,744.0 1853.0,743.9 1850.0,742.0 1847.0,741.7 1844.0,735.9 1841.0,731.8 1838.0,739.0 1835.0,734.2 1832.0,735.2 1829.0,733.5 1826.0,732.1 1823.0,743.2 1820.0,730.0 1818.3,732.1 1816.6,724.6 1814.9,720.0 1813.1,717.6 1811.4,714.4 1809.7,713.6 1808.0,710.0 1807.8,710.3 1807.6,705.0 1807.4,701.3 1807.2,696.0 1807.0,690.8 1806.8,689.9 1806.6,686.9 1806.4,684.8 1806.2,682.8" fill="#00ffff" />
<polygon points="1038.0,868.0 1042.4,868.5 1046.8,868.1 1051.2,866.5 1055.6,866.5 1060.0,867.0 1064.3,866.2 1068.6,867.4 1072.9,867.3 1077.1,869.2 1081.4,869.8 1085.7,870.8 1090.0,870.0 1094.2,869.6 1098.3,869.6 1102.5,871.6 1106.7,871.1 1110.8,872.7 1115.0,872.0 1116.0,877.0 1111.7,876.9 1107.3,876.9 1103.0,876.5 1098.7,878.7 1094.3,877.9 1090.0,878.0 1085.7,877.3 1081.4,876.7 1077.1,876.9 1072.9,876.5 1068.6,875.1 1064.3,873.8 1060.0,874.0 1055.6,874.2 1051.2,875.7 1046.8,875.0 1042.4,876.0 1038.0,876.0 1038.0,872.1" fill="#00ffff" />
<polygon points="2442.0,770.0 2447.0,770.0 2447.0,773.1 2447.0,776.5 2447.0,778.9 2447.0,782.8 2447.0,786.7 2447.0,789.0 2442.0,789.0 2442.0,784.8 2442.0,782.4 2442.0,780.4 2442.0,777.5 2442.0,772.0" fill="#fff" />
<polygon points="2463.0,779.0 2468.0,779.0 2468.0,782.8 2468.0,786.3 2468.0,790.3 2468.0,793.0 2463.0,793.0 2463.0,789.4 2463.0,785.1 2463.0,782.0" fill="#fff" />
<polygon points="2559.0,763.0 2563.0,763.0 2563.0,766.5 2563.0,769.5 2563.0,771.3 2563.0,775.3 2563.0,778.4 2563.0,781.4 2563.0,784.0 2559.0,784.0 2559.0,779.9 2559.0,777.9 2559.0,774.6 2559.0,772.2 2559.0,768.6 2559.0,765.1" fill="#fff" />
<polygon points="2563.0,803.0 2566.5,803.4 2570.0,803.0 2570.0,805.7 2570.0,810.1 2570.0,812.1 2570.0,815.9 2570.0,819.0 2566.5,819.7 2563.0,819.0 2563.0,814.9 2563.0,813.2 2563.0,808.4 2563.0,807.2" fill="#fff" />
<polygon points="2517.0,814.0 2520.5,812.9 2524.0,814.0 2524.0,817.8 2524.0,820.2 2524.0,823.0 2524.0,827.0 2520.5,826.7 2517.0,827.0 2517.0,823.8 2517.0,820.3 2517.0,816.3" fill="#fff" />
<polygon points="1010.0,884.0 1013.0,884.1 1016.0,884.0 1016.0,886.7 1016.0,891.5 1016.0,893.3 1016.0,896.6 1016.0,900.0 1013.0,899.3 1010.0,900.0 1010.0,897.9 1010.0,893.2 1010.0,890.8 1010.0,888.0" fill="#fff" />
<polygon points="1020.0,890.0 1023.3,889.7 1026.7,890.6 1030.0,890.0 1030.0,892.5 1030.0,895.1 1030.0,897.9 1030.0,901.9 1030.0,905.0 1026.7,905.9 1023.3,904.3 1020.0,905.0 1020.0,901.9 1020.0,899.6 1020.0,895.5 1020.0,892.2" fill="#fff" />
<polygon points="1002.0,896.0 1005.0,896.0 1008.0,896.0 1008.0,899.2 1008.0,903.7 1008.0,906.0 1005.0,907.0 1002.0,906.0 1002.0,902.0 1002.0,899.5" fill="#fff" />
<polygon points="773.0,800.0 776.0,800.0 776.0,802.8 776.0,804.9 776.0,808.9 776.0,813.0 776.0,814.5 776.0,818.2 776.0,821.5 776.0,823.0 776.0,828.0 776.0,830.0 773.0,830.0 773.0,826.1 773.0,823.5 773.0,821.5 773.0,816.8 773.0,814.7 773.0,811.1 773.0,808.9 773.0,804.8 773.0,802.2" fill="#fff" />
<polygon points="352.0,607.0 356.0,607.0 356.0,609.7 356.0,614.0 352.0,614.0 352.0,609.2" fill="#00ffff" />
<polygon points="1087.0,564.0 1090.2,562.8 1093.5,563.1 1096.8,564.1 1100.0,564.0 1100.0,566.4 1100.0,571.0 1096.8,572.0 1093.5,570.8 1090.2,570.3 1087.0,571.0 1087.0,566.7" fill="#00ffff" />
<polygon points="868.0,595.0 873.0,595.0 873.0,599.0 873.0,601.0 868.0,601.0 868.0,596.6" fill="#00ffff" />
<polygon points="930.0,598.0 934.0,598.0 934.0,601.7 934.0,604.0 930.0,604.0 930.0,599.8" fill="#00ffff" />
<polygon points="968.0,592.0 972.0,592.0 972.0,597.0 972.0,599.1 972.0,603.0 968.0,603.0 968.0,599.6 968.0,596.8" fill="#00ffff" />
<polygon points="985.0,596.0 988.0,596.0 988.0,598.8 988.0,604.0 985.0,604.0 985.0,598.7" fill="#00ffff" />
<polygon points="998.0,590.0 1002.0,590.0 1002.0,593.8 1002.0,596.8 1002.0,600.4 1002.0,603.0 998.0,603.0 998.0,599.1 998.0,596.5 998.0,592.3" fill="#00ffff" />
<polygon points="1483.0,558.0 1486.0,558.0 1489.3,573.0 1486.3,573.0" fill="#00ffff" />
<polygon points="1553.0,560.0 1556.0,560.0 1561.7,586.0 1558.7,586.0" fill="#00ffff" />
<polygon points="1455.0,575.0 1458.0,575.0 1462.4,595.0 1459.4,595.0" fill="#00ffff" />
<polygon points="1620.0,575.0 1623.0,575.0 1627.8,597.0 1624.8,597.0" fill="#00ffff" />
<polygon points="1190.0,572.0 1193.0,572.0 1196.1,586.0 1193.1,586.0" fill="#00ffff" />
<polygon points="1110.0,585.0 1113.0,585.0 1117.4,605.0 1114.4,605.0" fill="#00ffff" />
<polygon points="375.0,623.1 378.0,623.1 376.4,633.8 373.4,633.8" fill="#00ffff" />
<polygon points="378.6,629.5 380.6,629.5 379.1,639.6 377.1,639.6" fill="#00ffff" />
<polygon points="386.6,626.9 388.6,626.9 387.5,634.8 385.5,634.8" fill="#00ffff" />
<polygon points="371.1,633.0 374.1,633.0 372.9,641.3 369.9,641.3" fill="#00ffff" />
<polygon points="373.0,625.4 376.0,625.4 374.0,638.6 371.0,638.6" fill="#00ffff" />
<polygon points="380.0,628.8 383.0,628.8 381.9,636.7 378.9,636.7" fill="#00ffff" />
<polygon points="391.2,622.6 395.2,622.6 393.3,635.1 389.3,635.1" fill="#00ffff" />
<polygon points="386.7,620.4 388.7,620.4 387.1,630.8 385.1,630.8" fill="#00ffff" />
<polygon points="386.9,628.0 390.9,628.0 389.9,634.7 385.9,634.7" fill="#00ffff" />
<polygon points="366.6,622.7 368.6,622.7 367.0,633.6 365.0,633.6" fill="#00ffff" />
<polygon points="373.8,621.1 376.8,621.1 375.1,632.3 372.1,632.3" fill="#00ffff" />
<polygon points="382.1,619.9 386.1,619.9 384.7,629.7 380.7,629.7" fill="#00ffff" />
<polygon points="377.9,625.6 380.9,625.6 378.9,638.7 375.9,638.7" fill="#00ffff" />
<polygon points="373.5,625.6 377.5,625.6 376.2,634.6 372.2,634.6" fill="#00ffff" />
<polygon points="1100.4,668.0 1104.4,668.0 1107.0,680.0 1103.0,680.0" fill="#00ffff" />
<polygon points="1099.3,601.0 1102.3,601.0 1108.7,630.0 1105.7,630.0" fill="#00ffff" />
<polygon points="1109.8,624.6 1112.8,624.6 1118.7,651.4 1115.7,651.4" fill="#00ffff" />
<polygon points="1103.0,591.5 1106.0,591.5 1110.7,612.6 1107.7,612.6" fill="#00ffff" />
<polygon points="1106.3,659.7 1110.3,659.7 1113.7,675.1 1109.7,675.1" fill="#00ffff" />
<polygon points="1098.5,611.6 1101.5,611.6 1105.3,628.9 1102.3,628.9" fill="#00ffff" />
<polygon points="1106.6,641.9 1109.6,641.9 1112.5,655.3 1109.5,655.3" fill="#00ffff" />
<polygon points="1107.6,630.1 1109.6,630.1 1113.9,649.6 1111.9,649.6" fill="#00ffff" />
<polygon points="1228.3,621.8 1231.3,621.8 1236.5,645.5 1233.5,645.5" fill="#00ffff" />
<polygon points="1333.0,631.6 1336.0,631.6 1338.7,643.7 1335.7,643.7" fill="#00ffff" />
<polygon points="1197.8,612.8 1201.8,612.8 1206.4,633.7 1202.4,633.7" fill="#00ffff" />
<polygon points="1214.6,642.0 1216.6,642.0 1222.3,667.7 1220.3,667.7" fill="#00ffff" />
<polygon points="1127.1,676.3 1130.1,676.3 1133.1,690.0 1130.1,690.0" fill="#00ffff" />
<polygon points="1110.7,618.8 1112.7,618.8 1118.8,646.5 1116.8,646.5" fill="#00ffff" />
<polygon points="1162.9,631.5 1165.9,631.5 1173.4,665.8 1170.4,665.8" fill="#00ffff" />
<polygon points="1239.9,614.2 1241.9,614.2 1248.7,645.2 1246.7,645.2" fill="#00ffff" />
<polygon points="1252.7,651.9 1256.7,651.9 1263.8,684.0 1259.8,684.0" fill="#00ffff" />
<polygon points="1234.2,667.3 1238.2,667.3 1241.2,681.1 1237.2,681.1" fill="#00ffff" />
<polygon points="1167.5,639.1 1170.5,639.1 1173.7,653.9 1170.7,653.9" fill="#00ffff" />
<polygon points="1245.8,674.7 1248.8,674.7 1252.2,690.0 1249.2,690.0" fill="#00ffff" />
<polygon points="1116.1,646.1 1118.1,646.1 1123.1,668.7 1121.1,668.7" fill="#00ffff" />
<polygon points="1183.3,660.0 1186.3,660.0 1192.9,690.0 1189.9,690.0" fill="#00ffff" />
<polygon points="1260.7,675.7 1264.7,675.7 1267.8,690.0 1263.8,690.0" fill="#00ffff" />
<polygon points="1210.6,643.8 1212.6,643.8 1217.9,667.9 1215.9,667.9" fill="#00ffff" />
<polygon points="1266.8,623.9 1269.8,623.9 1272.7,636.8 1269.7,636.8" fill="#00ffff" />
<polygon points="1154.2,626.2 1157.2,626.2 1163.1,652.9 1160.1,652.9" fill="#00ffff" />
<polygon points="1328.1,679.8 1330.1,679.8 1332.4,690.0 1330.4,690.0" fill="#00ffff" />
<polygon points="1253.5,623.8 1256.5,623.8 1264.0,658.1 1261.0,658.1" fill="#00ffff" />
<polygon points="1209.8,616.6 1213.8,616.6 1216.2,627.3 1212.2,627.3" fill="#00ffff" />
<polygon points="1279.7,646.3 1282.7,646.3 1285.3,658.4 1282.3,658.4" fill="#00ffff" />
<polygon points="1304.7,665.0 1307.7,665.0 1313.1,689.7 1310.1,689.7" fill="#00ffff" />
<polygon points="1184.8,654.9 1186.8,654.9 1191.2,675.3 1189.2,675.3" fill="#00ffff" />
<polygon points="1256.7,646.4 1260.7,646.4 1264.7,664.4 1260.7,664.4" fill="#00ffff" />
<polygon points="1152.6,634.8 1154.6,634.8 1156.9,645.1 1154.9,645.1" fill="#00ffff" />
<polygon points="1302.9,670.0 1306.9,670.0 1311.3,690.0 1307.3,690.0" fill="#00ffff" />
<polygon points="1269.0,677.7 1273.0,677.7 1275.7,690.0 1271.7,690.0" fill="#00ffff" />
<polygon points="1241.4,612.9 1244.4,612.9 1248.7,632.4 1245.7,632.4" fill="#00ffff" />
<polygon points="1201.2,677.2 1205.2,677.2 1208.0,690.0 1204.0,690.0" fill="#00ffff" />
<polygon points="1129.4,618.7 1133.4,618.7 1139.2,645.1 1135.2,645.1" fill="#00ffff" />
<polygon points="1276.9,666.4 1278.9,666.4 1284.1,690.0 1282.1,690.0" fill="#00ffff" />
<polygon points="1277.0,643.9 1280.0,643.9 1286.4,673.1 1283.4,673.1" fill="#00ffff" />
<polygon points="1115.8,671.7 1118.8,671.7 1122.8,690.0 1119.8,690.0" fill="#00ffff" />
<polygon points="1262.1,612.2 1265.1,612.2 1269.9,634.1 1266.9,634.1" fill="#00ffff" />
<polygon points="1187.6,643.9 1189.6,643.9 1192.3,656.4 1190.3,656.4" fill="#00ffff" />
<polygon points="1183.0,648.9 1187.0,648.9 1194.3,682.1 1190.3,682.1" fill="#00ffff" />
<polygon points="1319.7,650.5 1321.7,650.5 1329.3,685.3 1327.3,685.3" fill="#00ffff" />
<polygon points="1206.2,672.0 1209.2,672.0 1213.1,690.0 1210.1,690.0" fill="#00ffff" />
<polygon points="1251.5,644.5 1253.5,644.5 1259.2,670.4 1257.2,670.4" fill="#00ffff" />
<polygon points="1270.7,676.4 1273.7,676.4 1275.9,686.7 1272.9,686.7" fill="#00ffff" />
<polygon points="1271.8,659.7 1274.8,659.7 1281.2,688.8 1278.2,688.8" fill="#00ffff" />
<polygon points="1112.3,656.1 1115.3,656.1 1121.9,686.1 1118.9,686.1" fill="#00ffff" />
<polygon points="1277.2,668.9 1280.2,668.9 1284.8,690.0 1281.8,690.0" fill="#00ffff" />
<polygon points="1249.4,621.6 1251.4,621.6 1258.0,651.8 1256.0,651.8" fill="#00ffff" />
<polygon points="1163.1,647.1 1166.1,647.1 1170.4,666.7 1167.4,666.7" fill="#00ffff" />
<polygon points="1141.1,642.5 1144.1,642.5 1150.9,673.6 1147.9,673.6" fill="#00ffff" />
<polygon points="1324.8,613.3 1328.8,613.3 1332.5,630.0 1328.5,630.0" fill="#00ffff" />
<polygon points="1117.3,620.3 1119.3,620.3 1126.1,651.3 1124.1,651.3" fill="#00ffff" />
<polygon points="1198.3,649.3 1200.3,649.3 1207.6,682.5 1205.6,682.5" fill="#00ffff" />
<polygon points="1181.7,616.8 1184.7,616.8 1189.0,636.3 1186.0,636.3" fill="#00ffff" />
<polygon points="1232.3,614.7 1236.3,614.7 1243.3,646.7 1239.3,646.7" fill="#00ffff" />
<polygon points="1224.2,621.7 1226.2,621.7 1232.9,652.2 1230.9,652.2" fill="#00ffff" />
<polygon points="1155.9,675.9 1158.9,675.9 1162.0,690.0 1159.0,690.0" fill="#00ffff" />
<polygon points="1317.1,615.7 1320.1,615.7 1327.3,648.5 1324.3,648.5" fill="#00ffff" />
<polygon points="1127.9,664.1 1130.9,664.1 1136.6,690.0 1133.6,690.0" fill="#00ffff" />
<polygon points="1334.8,620.8 1338.8,620.8 1342.0,635.4 1338.0,635.4" fill="#00ffff" />
<polygon points="1265.8,669.7 1268.8,669.7 1273.3,690.0 1270.3,690.0" fill="#00ffff" />
<polygon points="1294.4,653.1 1297.4,653.1 1300.6,667.7 1297.6,667.7" fill="#00ffff" />
<polygon points="1314.0,628.5 1316.0,628.5 1322.0,655.9 1320.0,655.9" fill="#00ffff" />
<polygon points="1152.4,632.8 1155.4,632.8 1157.6,643.0 1154.6,643.0" fill="#00ffff" />
<polygon points="1128.1,631.2 1132.1,631.2 1138.5,660.5 1134.5,660.5" fill="#00ffff" />
<polygon points="1294.5,648.7 1296.5,648.7 1301.1,669.8 1299.1,669.8" fill="#00ffff" />
<polygon points="1187.0,671.8 1189.0,671.8 1192.1,685.9 1190.1,685.9" fill="#00ffff" />
<polygon points="1324.2,612.5 1328.2,612.5 1335.4,645.2 1331.4,645.2" fill="#00ffff" />
<polygon points="1124.6,628.8 1128.6,628.8 1134.5,655.4 1130.5,655.4" fill="#00ffff" />
<polygon points="1252.1,619.9 1255.1,619.9 1259.5,639.9 1256.5,639.9" fill="#00ffff" />
<polygon points="1161.9,665.6 1165.9,665.6 1171.2,690.0 1167.2,690.0" fill="#00ffff" />
<polygon points="1230.0,659.6 1234.0,659.6 1236.9,672.7 1232.9,672.7" fill="#00ffff" />
<polygon points="1120.7,640.5 1122.7,640.5 1126.6,657.8 1124.6,657.8" fill="#00ffff" />
<polygon points="1386.8,594.3 1390.8,594.3 1395.1,614.2 1391.1,614.2" fill="#00ffff" />
<polygon points="1404.2,609.1 1406.2,609.1 1409.4,623.6 1407.4,623.6" fill="#00ffff" />
<polygon points="1432.7,606.3 1435.7,606.3 1443.1,640.0 1440.1,640.0" fill="#00ffff" />
<polygon points="1441.4,597.8 1444.4,597.8 1448.5,616.2 1445.5,616.2" fill="#00ffff" />
<polygon points="1444.7,587.5 1448.7,587.5 1451.4,599.7 1447.4,599.7" fill="#00ffff" />
<polygon points="1508.0,626.2 1510.0,626.2 1513.0,640.0 1511.0,640.0" fill="#00ffff" />
<polygon points="1453.6,614.2 1457.6,614.2 1460.8,628.5 1456.8,628.5" fill="#00ffff" />
<polygon points="1473.7,593.4 1476.7,593.4 1482.5,619.8 1479.5,619.8" fill="#00ffff" />
<polygon points="1408.3,619.5 1412.3,619.5 1416.7,639.6 1412.7,639.6" fill="#00ffff" />
<polygon points="1464.4,609.1 1467.4,609.1 1471.1,625.9 1468.1,625.9" fill="#00ffff" />
<polygon points="1469.9,621.6 1471.9,621.6 1475.9,640.0 1473.9,640.0" fill="#00ffff" />
<polygon points="1398.6,604.8 1401.6,604.8 1407.3,630.7 1404.3,630.7" fill="#00ffff" />
<polygon points="1428.3,579.0 1431.3,579.0 1440.0,618.9 1437.0,618.9" fill="#00ffff" />
<polygon points="1481.1,612.1 1484.1,612.1 1487.3,626.7 1484.3,626.7" fill="#00ffff" />
<polygon points="1405.5,588.1 1409.5,588.1 1414.4,610.5 1410.4,610.5" fill="#00ffff" />
<polygon points="1468.5,596.3 1470.5,596.3 1473.8,611.3 1471.8,611.3" fill="#00ffff" />
<polygon points="1405.2,583.7 1409.2,583.7 1416.4,616.7 1412.4,616.7" fill="#00ffff" />
<polygon points="1473.9,606.5 1476.9,606.5 1483.5,636.2 1480.5,636.2" fill="#00ffff" />
<polygon points="1528.1,607.5 1532.1,607.5 1538.1,634.7 1534.1,634.7" fill="#00ffff" />
<polygon points="1409.3,597.3 1413.3,597.3 1422.0,637.3 1418.0,637.3" fill="#00ffff" />
<polygon points="1352.2,603.0 1354.2,603.0 1360.0,629.3 1358.0,629.3" fill="#00ffff" />
<polygon points="1503.6,580.8 1505.6,580.8 1510.1,601.2 1508.1,601.2" fill="#00ffff" />
<polygon points="1518.4,589.8 1522.4,589.8 1529.8,623.7 1525.8,623.7" fill="#00ffff" />
<polygon points="1520.5,598.5 1522.5,598.5 1525.7,612.6 1523.7,612.6" fill="#00ffff" />
<polygon points="1378.7,588.4 1381.7,588.4 1384.9,602.9 1381.9,602.9" fill="#00ffff" />
<polygon points="1524.2,619.0 1526.2,619.0 1530.7,639.5 1528.7,639.5" fill="#00ffff" />
<polygon points="1372.6,594.2 1374.6,594.2 1379.9,618.2 1377.9,618.2" fill="#00ffff" />
<polygon points="1353.5,602.4 1357.5,602.4 1360.4,615.3 1356.4,615.3" fill="#00ffff" />
<polygon points="1467.0,592.0 1470.0,592.0 1475.4,616.4 1472.4,616.4" fill="#00ffff" />
<polygon points="1397.1,601.4 1401.1,601.4 1404.7,617.8 1400.7,617.8" fill="#00ffff" />
<polygon points="1634.6,621.8 1637.6,621.8 1641.6,640.0 1638.6,640.0" fill="#00ffff" />
<polygon points="1599.6,606.2 1601.6,606.2 1606.6,629.2 1604.6,629.2" fill="#00ffff" />
<polygon points="1559.1,626.3 1562.1,626.3 1565.1,640.0 1562.1,640.0" fill="#00ffff" />
<polygon points="1603.9,571.3 1606.9,571.3 1611.6,592.7 1608.6,592.7" fill="#00ffff" />
<polygon points="1601.9,585.1 1605.9,585.1 1608.6,597.4 1604.6,597.4" fill="#00ffff" />
<polygon points="1618.3,610.3 1621.3,610.3 1625.8,630.7 1622.8,630.7" fill="#00ffff" />
<polygon points="1725.9,610.6 1728.9,610.6 1732.4,626.3 1729.4,626.3" fill="#00ffff" />
<polygon points="1724.2,622.9 1728.2,622.9 1732.2,641.3 1728.2,641.3" fill="#00ffff" />
<polygon points="1652.4,641.5 1654.4,641.5 1658.5,660.0 1656.5,660.0" fill="#00ffff" />
<polygon points="1728.4,633.2 1731.4,633.2 1736.5,656.6 1733.5,656.6" fill="#00ffff" />
<polygon points="1714.7,620.9 1717.7,620.9 1722.9,644.6 1719.9,644.6" fill="#00ffff" />
<polygon points="1713.4,601.8 1716.4,601.8 1722.1,627.6 1719.1,627.6" fill="#00ffff" />
<polygon points="1688.9,637.3 1691.9,637.3 1696.9,660.0 1693.9,660.0" fill="#00ffff" />
<polygon points="1739.8,636.7 1743.8,636.7 1749.0,660.0 1745.0,660.0" fill="#00ffff" />
<polygon points="1736.1,632.6 1739.1,632.6 1745.1,660.0 1742.1,660.0" fill="#00ffff" />
<polygon points="1724.1,631.7 1727.1,631.7 1733.3,660.0 1730.3,660.0" fill="#00ffff" />
<polygon points="1744.5,625.1 1747.5,625.1 1750.9,640.6 1747.9,640.6" fill="#00ffff" />
<polygon points="1715.7,636.1 1718.7,636.1 1723.9,660.0 1720.9,660.0" fill="#00ffff" />
<polygon points="1718.6,621.4 1721.6,621.4 1726.6,643.9 1723.6,643.9" fill="#00ffff" />
<polygon points="1743.4,622.0 1747.4,622.0 1754.0,652.2 1750.0,652.2" fill="#00ffff" />
<polygon points="1712.2,641.2 1715.2,641.2 1719.3,660.0 1716.3,660.0" fill="#00ffff" />
<polygon points="1734.4,634.4 1737.4,634.4 1743.1,660.0 1740.1,660.0" fill="#00ffff" />
<polygon points="1716.8,739.7 1718.8,739.7 1723.2,760.0 1721.2,760.0" fill="#00ffff" />
<polygon points="1713.3,664.1 1717.3,664.1 1724.9,698.6 1720.9,698.6" fill="#00ffff" />
<polygon points="1717.6,675.9 1720.6,675.9 1727.9,709.2 1724.9,709.2" fill="#00ffff" />
<polygon points="1719.6,693.9 1722.6,693.9 1731.1,732.7 1728.1,732.7" fill="#00ffff" />
<polygon points="1712.3,652.3 1714.3,652.3 1719.6,676.4 1717.6,676.4" fill="#00ffff" />
<polygon points="1743.4,684.9 1747.4,684.9 1751.1,702.0 1747.1,702.0" fill="#00ffff" />
<polygon points="1742.4,678.4 1744.4,678.4 1750.5,706.4 1748.5,706.4" fill="#00ffff" />
<polygon points="1726.1,736.4 1729.1,736.4 1734.3,760.0 1731.3,760.0" fill="#00ffff" />
<polygon points="1739.9,674.6 1742.9,674.6 1747.0,693.0 1744.0,693.0" fill="#00ffff" />
<polygon points="1753.9,650.4 1756.9,650.4 1765.3,688.5 1762.3,688.5" fill="#00ffff" />
<polygon points="1693.5,713.6 1697.5,713.6 1702.1,734.5 1698.1,734.5" fill="#00ffff" />
<polygon points="1726.8,692.3 1729.8,692.3 1736.8,724.0 1733.8,724.0" fill="#00ffff" />
<polygon points="1759.8,664.2 1763.8,664.2 1770.0,692.2 1766.0,692.2" fill="#00ffff" />
<polygon points="1709.7,714.7 1712.7,714.7 1716.2,730.7 1713.2,730.7" fill="#00ffff" />
<polygon points="1726.7,691.0 1729.7,691.0 1735.8,718.8 1732.8,718.8" fill="#00ffff" />
<polygon points="1790.1,706.3 1793.1,706.3 1799.3,734.2 1796.3,734.2" fill="#00ffff" />
<polygon points="1780.4,653.3 1783.4,653.3 1787.9,673.7 1784.9,673.7" fill="#00ffff" />
<polygon points="1739.4,737.9 1743.4,737.9 1748.2,760.0 1744.2,760.0" fill="#00ffff" />
<polygon points="1711.8,721.2 1715.8,721.2 1719.2,736.7 1715.2,736.7" fill="#00ffff" />
<polygon points="1783.6,661.0 1785.6,661.0 1791.9,689.7 1789.9,689.7" fill="#00ffff" />
<polygon points="1762.4,688.3 1765.4,688.3 1774.0,727.5 1771.0,727.5" fill="#00ffff" />
<polygon points="1753.1,650.5 1755.1,650.5 1763.7,689.5 1761.7,689.5" fill="#00ffff" />
<polygon points="1710.0,698.7 1713.0,698.7 1719.8,729.7 1716.8,729.7" fill="#00ffff" />
<polygon points="1761.9,683.1 1763.9,683.1 1771.3,716.9 1769.3,716.9" fill="#00ffff" />
<polygon points="1721.2,705.7 1725.2,705.7 1732.9,740.8 1728.9,740.8" fill="#00ffff" />
<polygon points="1807.7,619.4 1809.7,619.4 1813.9,638.3 1811.9,638.3" fill="#00ffff" />
<polygon points="1800.1,590.2 1803.1,590.2 1806.7,606.9 1803.7,606.9" fill="#00ffff" />
<polygon points="1813.3,601.6 1815.3,601.6 1822.9,636.0 1820.9,636.0" fill="#00ffff" />
<polygon points="1820.8,585.8 1822.8,585.8 1829.0,614.0 1827.0,614.0" fill="#00ffff" />
<polygon points="1811.4,582.7 1815.4,582.7 1822.7,616.0 1818.7,616.0" fill="#00ffff" />
<polygon points="1820.4,612.4 1822.4,612.4 1826.3,630.2 1824.3,630.2" fill="#00ffff" />
<polygon points="1806.1,608.0 1809.1,608.0 1814.4,632.2 1811.4,632.2" fill="#00ffff" />
<polygon points="1798.7,627.8 1801.7,627.8 1804.4,640.0 1801.4,640.0" fill="#00ffff" />
<polygon points="1801.6,583.3 1804.6,583.3 1810.4,609.9 1807.4,609.9" fill="#00ffff" />
<polygon points="1798.5,601.0 1800.5,601.0 1808.0,634.8 1806.0,634.8" fill="#00ffff" />
<polygon points="1856.5,708.8 1858.5,708.8 1864.6,736.5 1862.6,736.5" fill="#00ffff" />
<polygon points="1864.8,700.9 1866.8,700.9 1874.8,737.1 1872.8,737.1" fill="#00ffff" />
<polygon points="1852.7,669.5 1855.7,669.5 1863.2,703.8 1860.2,703.8" fill="#00ffff" />
<polygon points="1818.9,695.9 1821.9,695.9 1829.6,730.9 1826.6,730.9" fill="#00ffff" />
<polygon points="1865.5,725.2 1867.5,725.2 1871.8,745.0 1869.8,745.0" fill="#00ffff" />
<polygon points="1831.1,692.2 1833.1,692.2 1840.0,723.4 1838.0,723.4" fill="#00ffff" />
<polygon points="1915.7,695.8 1918.7,695.8 1924.8,723.6 1921.8,723.6" fill="#00ffff" />
<polygon points="1817.9,666.5 1820.9,666.5 1825.4,687.2 1822.4,687.2" fill="#00ffff" />
<polygon points="1816.1,689.3 1820.1,689.3 1823.6,705.1 1819.6,705.1" fill="#00ffff" />
<polygon points="1863.0,721.5 1866.0,721.5 1871.1,745.0 1868.1,745.0" fill="#00ffff" />
<polygon points="1898.6,681.1 1901.6,681.1 1908.9,714.3 1905.9,714.3" fill="#00ffff" />
<polygon points="1818.6,707.7 1822.6,707.7 1828.5,734.3 1824.5,734.3" fill="#00ffff" />
<polygon points="1821.8,684.1 1824.8,684.1 1832.6,719.7 1829.6,719.7" fill="#00ffff" />
<polygon points="1927.1,668.3 1929.1,668.3 1933.6,688.5 1931.6,688.5" fill="#00ffff" />
<polygon points="1815.2,712.3 1818.2,712.3 1823.4,735.7 1820.4,735.7" fill="#00ffff" />
<polygon points="1919.7,705.4 1921.7,705.4 1928.6,736.8 1926.6,736.8" fill="#00ffff" />
<polygon points="1864.2,713.0 1867.2,713.0 1873.7,742.3 1870.7,742.3" fill="#00ffff" />
<polygon points="1842.9,704.0 1845.9,704.0 1849.5,720.7 1846.5,720.7" fill="#00ffff" />
<polygon points="1872.9,685.3 1876.9,685.3 1882.4,710.1 1878.4,710.1" fill="#00ffff" />
<polygon points="1834.0,680.8 1838.0,680.8 1844.6,711.1 1840.6,711.1" fill="#00ffff" />
<polygon points="1802.2,710.5 1806.2,710.5 1811.7,735.4 1807.7,735.4" fill="#00ffff" />
<polygon points="1822.7,668.4 1824.7,668.4 1828.3,684.3 1826.3,684.3" fill="#00ffff" />
<polygon points="1819.7,663.6 1823.7,663.6 1830.9,696.3 1826.9,696.3" fill="#00ffff" />
<polygon points="1887.6,723.7 1890.6,723.7 1895.3,745.0 1892.3,745.0" fill="#00ffff" />
<polygon points="1908.7,676.9 1912.7,676.9 1917.4,698.2 1913.4,698.2" fill="#00ffff" />
<polygon points="1857.8,668.2 1860.8,668.2 1865.1,687.8 1862.1,687.8" fill="#00ffff" />
<polygon points="1814.9,701.6 1818.9,701.6 1827.6,741.2 1823.6,741.2" fill="#00ffff" />
<polygon points="1918.9,727.8 1921.9,727.8 1925.7,745.0 1922.7,745.0" fill="#00ffff" />
<polygon points="1808.9,716.6 1812.9,716.6 1819.2,745.0 1815.2,745.0" fill="#00ffff" />
<polygon points="1902.5,725.6 1905.5,725.6 1909.7,745.0 1906.7,745.0" fill="#00ffff" />
<polygon points="1813.0,701.2 1816.0,701.2 1821.6,726.7 1818.6,726.7" fill="#00ffff" />
<polygon points="1865.4,710.3 1868.4,710.3 1876.1,745.0 1873.1,745.0" fill="#00ffff" />
<polygon points="1857.1,675.2 1859.1,675.2 1867.4,712.5 1865.4,712.5" fill="#00ffff" />
<polygon points="1857.1,716.9 1860.1,716.9 1864.4,736.5 1861.4,736.5" fill="#00ffff" />
<polygon points="1925.7,710.9 1927.7,710.9 1931.3,727.5 1929.3,727.5" fill="#00ffff" />
<polygon points="1814.4,688.7 1817.4,688.7 1824.1,719.3 1821.1,719.3" fill="#00ffff" />
<polygon points="1909.6,691.4 1912.6,691.4 1917.7,714.4 1914.7,714.4" fill="#00ffff" />
<polygon points="1822.2,681.4 1825.2,681.4 1831.9,711.9 1828.9,711.9" fill="#00ffff" />
<polygon points="1833.1,701.0 1836.1,701.0 1840.9,722.9 1837.9,722.9" fill="#00ffff" />
<polygon points="1838.1,709.1 1841.1,709.1 1845.6,729.4 1842.6,729.4" fill="#00ffff" />
<polygon points="1876.4,691.1 1879.4,691.1 1887.5,728.0 1884.5,728.0" fill="#00ffff" />
<polygon points="1822.5,717.3 1826.5,717.3 1831.5,739.9 1827.5,739.9" fill="#00ffff" />
<polygon points="1927.5,670.8 1929.5,670.8 1934.8,695.0 1932.8,695.0" fill="#00ffff" />
<polygon points="1855.3,724.5 1858.3,724.5 1862.8,745.0 1859.8,745.0" fill="#00ffff" />
<polygon points="1888.7,686.7 1891.7,686.7 1896.4,708.5 1893.4,708.5" fill="#00ffff" />
<polygon points="1960.4,726.5 1964.4,726.5 1968.5,745.0 1964.5,745.0" fill="#00ffff" />
<polygon points="1976.5,713.5 1979.5,713.5 1983.4,731.2 1980.4,731.2" fill="#00ffff" />
<polygon points="1996.4,720.6 2000.4,720.6 2004.8,740.9 2000.8,740.9" fill="#00ffff" />
<polygon points="1962.8,728.4 1964.8,728.4 1968.5,745.0 1966.5,745.0" fill="#00ffff" />
<polygon points="1989.6,711.6 1992.6,711.6 1997.3,733.1 1994.3,733.1" fill="#00ffff" />
<polygon points="1996.4,722.8 1998.4,722.8 2003.3,745.0 2001.3,745.0" fill="#00ffff" />
<polygon points="1984.3,725.3 1986.3,725.3 1990.7,745.0 1988.7,745.0" fill="#00ffff" />
<polygon points="1979.1,689.9 1981.1,689.9 1986.8,716.3 1984.8,716.3" fill="#00ffff" />
<polygon points="2031.2,741.9 2034.2,741.9 2040.4,769.8 2037.4,769.8" fill="#00ffff" />
<polygon points="2018.6,738.5 2022.6,738.5 2031.2,777.7 2027.2,777.7" fill="#00ffff" />
<polygon points="2001.7,773.6 2003.7,773.6 2007.4,790.0 2005.4,790.0" fill="#00ffff" />
<polygon points="2015.1,757.4 2018.1,757.4 2025.3,790.0 2022.3,790.0" fill="#00ffff" />
<polygon points="2027.0,754.7 2030.0,754.7 2037.7,790.0 2034.7,790.0" fill="#00ffff" />
<polygon points="2010.7,716.8 2012.7,716.8 2016.6,734.4 2014.6,734.4" fill="#00ffff" />
<polygon points="2003.2,725.5 2007.2,725.5 2014.3,757.8 2010.3,757.8" fill="#00ffff" />
<polygon points="2012.9,716.5 2015.9,716.5 2023.3,750.3 2020.3,750.3" fill="#00ffff" />
<polygon points="2006.8,764.9 2009.8,764.9 2013.9,783.3 2010.9,783.3" fill="#00ffff" />
<polygon points="2001.2,724.4 2004.2,724.4 2010.9,754.8 2007.9,754.8" fill="#00ffff" />
<polygon points="2021.0,753.2 2025.0,753.2 2033.1,790.0 2029.1,790.0" fill="#00ffff" />
<polygon points="2006.3,724.8 2009.3,724.8 2013.2,742.4 2010.2,742.4" fill="#00ffff" />
<polygon points="2031.8,697.1 2034.8,697.1 2038.5,713.9 2035.5,713.9" fill="#00ffff" />
<polygon points="2004.9,718.5 2006.9,718.5 2015.8,759.1 2013.8,759.1" fill="#00ffff" />
<polygon points="2019.2,707.6 2022.2,707.6 2031.4,749.4 2028.4,749.4" fill="#00ffff" />
<polygon points="2020.6,718.6 2024.6,718.6 2029.1,738.9 2025.1,738.9" fill="#00ffff" />
<polygon points="2006.3,727.2 2010.3,727.2 2014.4,746.0 2010.4,746.0" fill="#00ffff" />
<polygon points="2005.1,720.9 2008.1,720.9 2013.0,743.1 2010.0,743.1" fill="#00ffff" />
<polygon points="2030.4,702.0 2034.4,702.0 2039.9,726.9 2035.9,726.9" fill="#00ffff" />
<polygon points="2032.8,768.7 2034.8,768.7 2039.5,790.0 2037.5,790.0" fill="#00ffff" />
<polygon points="2021.6,743.8 2024.6,743.8 2028.9,763.3 2025.9,763.3" fill="#00ffff" />
<polygon points="2012.2,727.6 2014.2,727.6 2021.1,758.7 2019.1,758.7" fill="#00ffff" />
<polygon points="2006.8,770.0 2009.8,770.0 2014.3,790.0 2011.3,790.0" fill="#00ffff" />
<polygon points="2012.1,706.6 2014.1,706.6 2022.4,744.5 2020.4,744.5" fill="#00ffff" />
<polygon points="2014.1,722.5 2018.1,722.5 2022.4,742.1 2018.4,742.1" fill="#00ffff" />
<polygon points="2017.5,760.0 2020.5,760.0 2026.0,785.2 2023.0,785.2" fill="#00ffff" />
<polygon points="2026.9,703.1 2028.9,703.1 2034.3,727.5 2032.3,727.5" fill="#00ffff" />
<polygon points="2013.4,750.5 2016.4,750.5 2022.4,777.6 2019.4,777.6" fill="#00ffff" />
<polygon points="2028.9,739.4 2031.9,739.4 2037.6,765.3 2034.6,765.3" fill="#00ffff" />
<polygon points="2005.2,700.6 2007.2,700.6 2016.3,741.7 2014.3,741.7" fill="#00ffff" />
<polygon points="1395.5,669.6 1397.5,669.6 1403.2,695.3 1401.2,695.3" fill="#00ffff" />
<polygon points="1404.8,663.8 1407.8,663.8 1414.1,692.7 1411.1,692.7" fill="#00ffff" />
<polygon points="1372.8,665.1 1375.8,665.1 1379.6,682.3 1376.6,682.3" fill="#00ffff" />
<polygon points="1348.2,646.2 1350.2,646.2 1357.2,678.1 1355.2,678.1" fill="#00ffff" />
<polygon points="1414.5,642.3 1417.5,642.3 1420.8,657.6 1417.8,657.6" fill="#00ffff" />
<polygon points="1400.3,681.8 1403.3,681.8 1407.3,700.0 1404.3,700.0" fill="#00ffff" />
<polygon points="1352.5,663.7 1356.5,663.7 1364.5,700.0 1360.5,700.0" fill="#00ffff" />
<polygon points="1417.5,676.4 1420.5,676.4 1423.8,691.5 1420.8,691.5" fill="#00ffff" />
<polygon points="1394.4,653.7 1398.4,653.7 1405.8,687.0 1401.8,687.0" fill="#00ffff" />
<polygon points="1413.9,641.6 1416.9,641.6 1422.6,667.5 1419.6,667.5" fill="#00ffff" />
<polygon points="1394.8,660.3 1397.8,660.3 1404.2,689.3 1401.2,689.3" fill="#00ffff" />
<polygon points="1416.8,640.3 1420.8,640.3 1429.1,677.8 1425.1,677.8" fill="#00ffff" />
<polygon points="1384.2,664.8 1388.2,664.8 1391.5,680.0 1387.5,680.0" fill="#00ffff" />
<polygon points="1397.1,677.1 1399.1,677.1 1404.2,700.0 1402.2,700.0" fill="#00ffff" />
<polygon points="1391.9,642.0 1393.9,642.0 1397.9,660.1 1395.9,660.1" fill="#00ffff" />
<polygon points="1347.1,658.0 1351.1,658.0 1355.7,678.8 1351.7,678.8" fill="#00ffff" />
<polygon points="1391.8,660.0 1395.8,660.0 1402.1,688.5 1398.1,688.5" fill="#00ffff" />
<polygon points="1386.4,663.9 1390.4,663.9 1396.7,692.3 1392.7,692.3" fill="#00ffff" />
<polygon points="1418.0,683.0 1422.0,683.0 1425.8,700.0 1421.8,700.0" fill="#00ffff" />
<polygon points="1346.0,645.6 1349.0,645.6 1354.2,669.2 1351.2,669.2" fill="#00ffff" />
<polygon points="1383.4,681.4 1386.4,681.4 1390.5,700.0 1387.5,700.0" fill="#00ffff" />
<polygon points="1416.7,650.0 1418.7,650.0 1423.2,670.5 1421.2,670.5" fill="#00ffff" />
<polygon points="1372.1,652.9 1376.1,652.9 1379.5,668.3 1375.5,668.3" fill="#00ffff" />
<polygon points="1364.0,670.3 1367.0,670.3 1373.4,699.3 1370.4,699.3" fill="#00ffff" />
<polygon points="1400.8,665.8 1403.8,665.8 1410.6,696.6 1407.6,696.6" fill="#00ffff" />
<polygon points="1552.6,659.8 1554.6,659.8 1558.4,674.9 1556.4,674.9" fill="#fff" />
<polygon points="1367.2,660.0 1369.2,660.0 1374.5,681.0 1372.5,681.0" fill="#fff" />
<polygon points="1430.0,689.5 1432.0,689.5 1438.5,715.3 1436.5,715.3" fill="#fff" />
<polygon points="1717.0,686.2 1719.0,686.2 1723.7,705.0 1721.7,705.0" fill="#fff" />
<polygon points="1425.6,645.3 1427.6,645.3 1433.4,668.6 1431.4,668.6" fill="#fff" />
<polygon points="1773.4,633.3 1775.4,633.3 1777.9,643.5 1775.9,643.5" fill="#fff" />
<polygon points="1501.9,651.2 1503.9,651.2 1509.1,672.0 1507.1,672.0" fill="#fff" />
<polygon points="1398.3,688.3 1400.3,688.3 1404.3,704.4 1402.3,704.4" fill="#fff" />
<polygon points="1740.7,649.7 1742.7,649.7 1746.6,665.2 1744.6,665.2" fill="#fff" />
<polygon points="1425.6,697.4 1427.6,697.4 1432.8,718.0 1430.8,718.0" fill="#fff" />
<polygon points="1705.0,629.7 1707.0,629.7 1712.0,649.5 1710.0,649.5" fill="#fff" />
<polygon points="1665.2,698.8 1667.2,698.8 1673.9,725.6 1671.9,725.6" fill="#fff" />
<polygon points="1394.7,653.0 1396.7,653.0 1403.7,681.0 1401.7,681.0" fill="#fff" />
<polygon points="1580.0,696.8 1582.0,696.8 1585.6,711.3 1583.6,711.3" fill="#fff" />
<polygon points="1361.0,696.0 1363.0,696.0 1366.7,710.7 1364.7,710.7" fill="#fff" />
<polygon points="1591.1,652.0 1593.1,652.0 1598.2,672.4 1596.2,672.4" fill="#fff" />
<polygon points="1751.5,696.0 1753.5,696.0 1760.0,721.8 1758.0,721.8" fill="#fff" />
<polygon points="1460.4,686.6 1462.4,686.6 1465.0,696.9 1463.0,696.9" fill="#fff" />
<polygon points="1529.0,695.8 1531.0,695.8 1534.7,710.4 1532.7,710.4" fill="#fff" />
<polygon points="1507.9,668.6 1509.9,668.6 1513.5,682.9 1511.5,682.9" fill="#fff" />
<polygon points="1654.6,673.9 1656.6,673.9 1659.5,685.6 1657.5,685.6" fill="#fff" />
<polygon points="1745.6,630.4 1747.6,630.4 1753.3,652.9 1751.3,652.9" fill="#fff" />
<polygon points="1499.8,635.8 1501.8,635.8 1504.7,647.2 1502.7,647.2" fill="#fff" />
<polygon points="1779.0,685.0 1781.0,685.0 1785.6,703.2 1783.6,703.2" fill="#fff" />
<polygon points="1691.7,697.7 1693.7,697.7 1700.3,724.4 1698.3,724.4" fill="#fff" />
<polygon points="1579.0,645.6 1581.0,645.6 1585.8,665.0 1583.8,665.0" fill="#fff" />
<polygon points="1772.0,679.8 1774.0,679.8 1779.5,701.8 1777.5,701.8" fill="#fff" />
<polygon points="1712.5,655.7 1714.5,655.7 1719.5,675.7 1717.5,675.7" fill="#fff" />
<rect x="1301" y="890" width="3" height="50" fill="#ffb6c1"/>
<rect x="1305" y="905" width="2" height="30" fill="#ffb6c1"/>
<rect x="1257" y="928" width="2" height="22" fill="#ffb6c1"/>
<rect x="1262" y="935" width="2" height="17" fill="#ffb6c1"/>
</g>
<g shape-rendering="crispEdges">
<polygon points="301.5,963.5 335.9,963.5 318.7,933.5" fill="#ff0000" />
<polygon points="336.6,963.5 371.0,963.5 353.8,933.5" fill="#ff0000" />
<polygon points="371.8,963.5 406.1,963.5 388.9,933.5" fill="#ff0000" />
<polygon points="406.9,963.5 441.3,963.5 424.1,933.5" fill="#ff0000" />
<polygon points="442.0,963.5 476.4,963.5 459.2,933.5" fill="#ff0000" />
<polygon points="477.1,963.5 511.5,963.5 494.3,933.5" fill="#ff0000" />
<polygon points="512.2,963.5 546.7,963.5 529.5,933.5" fill="#ff0000" />
<polygon points="547.4,963.5 581.8,963.5 564.6,933.5" fill="#ff0000" />
<polygon points="582.5,963.5 616.9,963.5 599.7,933.5" fill="#ff0000" />
<polygon points="617.6,963.5 652.0,963.5 634.8,933.5" fill="#ff0000" />
<polygon points="652.8,963.5 687.2,963.5 670.0,933.5" fill="#ff0000" />
<polygon points="687.9,963.5 722.3,963.5 705.1,933.5" fill="#ff0000" />
<polygon points="723.0,963.5 757.4,963.5 740.2,933.5" fill="#ff0000" />
<polygon points="758.1,963.5 792.5,963.5 775.3,933.5" fill="#ff0000" />
<polygon points="793.2,963.5 827.7,963.5 810.5,933.5" fill="#ff0000" />
<polygon points="828.4,963.5 862.8,963.5 845.6,933.5" fill="#ff0000" />
<polygon points="863.5,963.5 897.9,963.5 880.7,933.5" fill="#ff0000" />
<polygon points="898.6,963.5 933.0,963.5 915.8,933.5" fill="#ff0000" />
<polygon points="933.8,963.5 968.2,963.5 951.0,933.5" fill="#ff0000" />
<polygon points="968.9,963.5 1003.3,963.5 986.1,933.5" fill="#ff0000" />
<polygon points="1004.0,963.5 1038.4,963.5 1021.2,933.5" fill="#ff0000" />
<polygon points="1039.1,963.5 1073.5,963.5 1056.3,933.5" fill="#ff0000" />
<polygon points="1074.2,963.5 1108.7,963.5 1091.5,933.5" fill="#ff0000" />
<polygon points="1109.4,963.5 1143.8,963.5 1126.6,933.5" fill="#ff0000" />
<polygon points="1214.8,963.5 1249.2,963.5 1232.0,933.5" fill="#ff0000" />
<polygon points="1249.9,963.5 1284.3,963.5 1267.1,933.5" fill="#ff0000" />
<polygon points="1260.3,957.5 1273.9,957.5 1267.1,945.9" fill="#fff" />
<polygon points="1320.1,963.5 1354.5,963.5 1337.3,933.5" fill="#ff0000" />
<polygon points="1330.5,957.5 1344.1,957.5 1337.3,945.9" fill="#fff" />
<polygon points="1355.2,963.5 1389.7,963.5 1372.5,933.5" fill="#ff0000" />
<polygon points="1365.7,957.5 1379.2,957.5 1372.5,945.9" fill="#fff" />
<polygon points="1390.4,963.5 1424.8,963.5 1407.6,933.5" fill="#ff0000" />
<polygon points="1400.8,957.5 1414.4,957.5 1407.6,945.9" fill="#fff" />
<polygon points="1425.5,963.5 1459.9,963.5 1442.7,933.5" fill="#ff0000" />
<polygon points="1460.6,963.5 1495.0,963.5 1477.8,933.5" fill="#ff0000" />
<polygon points="1495.8,963.5 1530.2,963.5 1513.0,933.5" fill="#ff0000" />
<polygon points="1530.9,963.5 1565.3,963.5 1548.1,933.5" fill="#ff0000" />
<polygon points="1566.0,963.5 1600.4,963.5 1583.2,933.5" fill="#ff0000" />
<polygon points="1601.1,963.5 1635.5,963.5 1618.3,933.5" fill="#ff0000" />
<polygon points="1611.5,957.5 1625.1,957.5 1618.3,945.9" fill="#fff" />
<polygon points="1636.2,963.5 1670.7,963.5 1653.5,933.5" fill="#ff0000" />
<polygon points="1646.7,957.5 1660.2,957.5 1653.5,945.9" fill="#fff" />
<polygon points="1671.4,963.5 1705.8,963.5 1688.6,933.5" fill="#ff0000" />
<polygon points="1681.8,957.5 1695.4,957.5 1688.6,945.9" fill="#fff" />
<polygon points="1706.5,963.5 1740.9,963.5 1723.7,933.5" fill="#ff0000" />
<polygon points="1716.9,957.5 1730.5,957.5 1723.7,945.9" fill="#fff" />
<polygon points="1741.6,963.5 1776.0,963.5 1758.8,933.5" fill="#ff0000" />
<polygon points="1752.0,957.5 1765.6,957.5 1758.8,945.9" fill="#fff" />
<polygon points="1776.8,963.5 1811.2,963.5 1794.0,933.5" fill="#ff0000" />
<polygon points="1811.9,963.5 1846.3,963.5 1829.1,933.5" fill="#ff0000" />
<polygon points="1822.3,957.5 1835.9,957.5 1829.1,945.9" fill="#fff" />
<polygon points="1847.0,963.5 1881.4,963.5 1864.2,933.5" fill="#ff0000" />
<polygon points="1857.4,957.5 1871.0,957.5 1864.2,945.9" fill="#fff" />
<polygon points="1882.1,963.5 1916.5,963.5 1899.3,933.5" fill="#ff0000" />
<polygon points="1917.2,963.5 1951.7,963.5 1934.5,933.5" fill="#ff0000" />
<polygon points="1952.4,963.5 1986.8,963.5 1969.6,933.5" fill="#ff0000" />
<polygon points="1962.8,957.5 1976.4,957.5 1969.6,945.9" fill="#fff" />
<polygon points="1987.5,963.5 2021.9,963.5 2004.7,933.5" fill="#ff0000" />
<polygon points="2022.6,963.5 2057.0,963.5 2039.8,933.5" fill="#ff0000" />
<polygon points="2033.0,957.5 2046.6,957.5 2039.8,945.9" fill="#fff" />
<polygon points="2057.8,963.5 2092.1,963.5 2074.9,933.5" fill="#ff0000" />
<polygon points="2068.1,957.5 2081.8,957.5 2074.9,945.9" fill="#fff" />
<polygon points="2092.9,963.5 2127.3,963.5 2110.1,933.5" fill="#ff0000" />
<polygon points="2103.3,957.5 2116.9,957.5 2110.1,945.9" fill="#fff" />
<polygon points="2128.0,963.5 2162.4,963.5 2145.2,933.5" fill="#ff0000" />
<polygon points="2138.4,957.5 2152.0,957.5 2145.2,945.9" fill="#fff" />
<polygon points="2163.1,963.5 2197.5,963.5 2180.3,933.5" fill="#ff0000" />
<polygon points="2198.2,963.5 2232.6,963.5 2215.4,933.5" fill="#ff0000" />
<polygon points="2233.4,963.5 2267.8,963.5 2250.6,933.5" fill="#ff0000" />
<polygon points="2268.5,963.5 2302.9,963.5 2285.7,933.5" fill="#ff0000" />
<polygon points="2303.6,963.5 2338.0,963.5 2320.8,933.5" fill="#ff0000" />
<polygon points="2338.8,963.5 2373.1,963.5 2355.9,933.5" fill="#ff0000" />
<polygon points="2373.9,963.5 2408.3,963.5 2391.1,933.5" fill="#ff0000" />
<polygon points="2409.0,963.5 2443.4,963.5 2426.2,933.5" fill="#ff0000" />
<polygon points="2444.1,963.5 2478.5,963.5 2461.3,933.5" fill="#ff0000" />
<polygon points="2479.2,963.5 2513.6,963.5 2496.4,933.5" fill="#ff0000" />
<polygon points="2514.4,963.5 2548.8,963.5 2531.6,933.5" fill="#ff0000" />
<polygon points="2549.5,963.5 2583.9,963.5 2566.7,933.5" fill="#ff0000" />
<polygon points="2584.6,963.5 2619.0,963.5 2601.8,933.5" fill="#ff0000" />
<polygon points="2619.8,963.5 2654.1,963.5 2636.9,933.5" fill="#ff0000" />
<polygon points="2654.9,963.5 2689.3,963.5 2672.1,933.5" fill="#ff0000" />
<polygon points="2690.0,963.5 2724.4,963.5 2707.2,933.5" fill="#ff0000" />
<polygon points="2725.1,963.5 2759.5,963.5 2742.3,933.5" fill="#ff0000" />
<polygon points="2760.2,963.5 2794.6,963.5 2777.4,933.5" fill="#ff0000" />
<polygon points="2795.4,963.5 2829.8,963.5 2812.6,933.5" fill="#ff0000" />
<polygon points="2830.5,963.5 2864.9,963.5 2847.7,933.5" fill="#ff0000" />
<polygon points="2865.6,963.5 2900.0,963.5 2882.8,933.5" fill="#ff0000" />
<polygon points="2900.8,963.5 2935.1,963.5 2917.9,933.5" fill="#ff0000" />
<polygon points="2935.9,963.5 2970.3,963.5 2953.1,933.5" fill="#ff0000" />
<polygon points="2971.0,963.5 3005.4,963.5 2988.2,933.5" fill="#ff0000" />
<polygon points="3006.1,963.5 3040.5,963.5 3023.3,933.5" fill="#ff0000" />
<polygon points="3041.2,963.5 3075.6,963.5 3058.4,933.5" fill="#ff0000" />
<polygon points="3076.4,963.5 3110.8,963.5 3093.6,933.5" fill="#ff0000" />
<polygon points="3111.5,963.5 3145.9,963.5 3128.7,933.5" fill="#ff0000" />
<polygon points="3146.6,963.5 3181.0,963.5 3163.8,933.5" fill="#ff0000" />
<polygon points="3181.8,963.5 3216.1,963.5 3198.9,933.5" fill="#ff0000" />
<polygon points="3216.9,963.5 3251.3,963.5 3234.1,933.5" fill="#ff0000" />
<polygon points="3252.0,963.5 3286.4,963.5 3269.2,933.5" fill="#ff0000" />
<polygon points="3287.1,963.5 3321.5,963.5 3304.3,933.5" fill="#ff0000" />
<polygon points="3322.2,963.5 3356.6,963.5 3339.4,933.5" fill="#ff0000" />
<polygon points="3357.4,963.5 3391.8,963.5 3374.6,933.5" fill="#ff0000" />
<polygon points="3392.5,963.5 3426.9,963.5 3409.7,933.5" fill="#ff0000" />
<polygon points="3427.6,963.5 3462.0,963.5 3444.8,933.5" fill="#ff0000" />
<polygon points="3462.8,963.5 3497.1,963.5 3479.9,933.5" fill="#ff0000" />
<polygon points="3497.9,963.5 3532.3,963.5 3515.1,933.5" fill="#ff0000" />
<polygon points="3533.0,963.5 3567.4,963.5 3550.2,933.5" fill="#ff0000" />
<polygon points="3568.1,963.5 3602.5,963.5 3585.3,933.5" fill="#ff0000" />
<polygon points="3603.2,963.5 3637.6,963.5 3620.4,933.5" fill="#ff0000" />
<polygon points="1109.4,799.7 1143.8,799.7 1126.6,769.7" fill="#ff0000" />
<polygon points="1144.5,636.0 1178.9,636.0 1161.7,606.0" fill="#ff0000" />
<polygon points="1179.6,647.8 1214.0,647.8 1196.8,617.8" fill="#ff0000" />
<polygon points="1249.9,660.0 1284.3,660.0 1267.1,630.0" fill="#ff0000" />
<polygon points="1285.0,661.8 1319.4,661.8 1302.2,631.8" fill="#ff0000" />
<polygon points="1320.1,842.0 1354.5,842.0 1337.3,812.0" fill="#ff0000" />
<polygon points="1355.2,711.5 1389.7,711.5 1372.5,681.5" fill="#ff0000" />
<polygon points="1390.4,718.0 1424.8,718.0 1407.6,688.0" fill="#ff0000" />
<polygon points="1601.1,771.5 1635.5,771.5 1618.3,741.5" fill="#ff0000" />
<polygon points="1636.2,755.3 1670.7,755.3 1653.5,725.3" fill="#ff0000" />
<polygon points="1671.4,736.7 1705.8,736.7 1688.6,706.7" fill="#ff0000" />
<polygon points="1706.5,715.5 1740.9,715.5 1723.7,685.5" fill="#ff0000" />
<polygon points="1741.6,735.0 1776.0,735.0 1758.8,705.0" fill="#ff0000" />
<polygon points="1811.9,736.8 1846.3,736.8 1829.1,706.8" fill="#ff0000" />
<polygon points="1847.0,760.0 1881.4,760.0 1864.2,730.0" fill="#ff0000" />
<polygon points="1952.4,749.0 1986.8,749.0 1969.6,719.0" fill="#ff0000" />
<polygon points="2022.6,766.9 2057.0,766.9 2039.8,736.9" fill="#ff0000" />
<polygon points="2057.8,794.3 2092.1,794.3 2074.9,764.3" fill="#ff0000" />
<polygon points="2092.9,804.8 2127.3,804.8 2110.1,774.8" fill="#ff0000" />
<polygon points="2128.0,811.8 2162.4,811.8 2145.2,781.8" fill="#ff0000" />
<polygon points="1144.5,813.7 1178.9,813.7 1161.7,783.7" fill="#ff0000" />
<polygon points="1154.9,807.7 1168.5,807.7 1161.7,796.1" fill="#fff" />
<polygon points="1179.6,818.8 1214.0,818.8 1196.8,788.8" fill="#ff0000" />
<polygon points="1190.0,812.8 1203.6,812.8 1196.8,801.2" fill="#fff" />
<polygon points="1285.0,837.4 1319.4,837.4 1302.2,807.4" fill="#ff0000" />
<polygon points="1295.4,831.4 1309.0,831.4 1302.2,819.8" fill="#fff" />
<polygon points="301.5,719.5 335.9,719.5 318.7,749.5" fill="#ff0000" />
<polygon points="336.6,712.8 371.0,712.8 353.8,742.8" fill="#ff0000" />
<polygon points="371.8,712.0 406.1,712.0 388.9,742.0" fill="#ff0000" />
<polygon points="406.9,719.0 441.3,719.0 424.1,749.0" fill="#ff0000" />
<polygon points="442.0,719.0 476.4,719.0 459.2,749.0" fill="#ff0000" />
<polygon points="477.1,733.3 511.5,733.3 494.3,763.3" fill="#ff0000" />
<polygon points="512.2,736.4 546.7,736.4 529.5,766.4" fill="#ff0000" />
<polygon points="547.4,740.0 581.8,740.0 564.6,770.0" fill="#ff0000" />
<polygon points="582.5,740.0 616.9,740.0 599.7,770.0" fill="#ff0000" />
<polygon points="617.6,743.0 652.0,743.0 634.8,773.0" fill="#ff0000" />
<polygon points="652.8,748.5 687.2,748.5 670.0,778.5" fill="#ff0000" />
<polygon points="687.9,757.0 722.3,757.0 705.1,787.0" fill="#ff0000" />
<polygon points="723.0,762.5 757.4,762.5 740.2,792.5" fill="#ff0000" />
<polygon points="758.1,769.4 792.5,769.4 775.3,799.4" fill="#ff0000" />
<polygon points="793.2,853.0 827.7,853.0 810.5,883.0" fill="#ff0000" />
<polygon points="828.4,851.4 862.8,851.4 845.6,881.4" fill="#ff0000" />
<polygon points="863.5,849.3 897.9,849.3 880.7,879.3" fill="#ff0000" />
<polygon points="898.6,858.4 933.0,858.4 915.8,888.4" fill="#ff0000" />
<polygon points="933.8,856.5 968.2,856.5 951.0,886.5" fill="#ff0000" />
<polygon points="968.9,856.5 1003.3,856.5 986.1,886.5" fill="#ff0000" />
<polygon points="1004.0,856.5 1038.4,856.5 1021.2,886.5" fill="#ff0000" />
<polygon points="1039.1,886.3 1073.5,886.3 1056.3,916.3" fill="#ff0000" />
<polygon points="1074.2,888.2 1108.7,888.2 1091.5,918.2" fill="#ff0000" />
<polygon points="1460.6,644.0 1495.0,644.0 1477.8,674.0" fill="#ff0000" />
<polygon points="1495.8,651.0 1530.2,651.0 1513.0,681.0" fill="#ff0000" />
<polygon points="1530.9,642.0 1565.3,642.0 1548.1,672.0" fill="#ff0000" />
<polygon points="1566.0,639.5 1600.4,639.5 1583.2,669.5" fill="#ff0000" />
<polygon points="2163.1,684.0 2197.5,684.0 2180.3,714.0" fill="#ff0000" />
<polygon points="2198.2,696.3 2232.6,696.3 2215.4,726.3" fill="#ff0000" />
<polygon points="2233.4,697.6 2267.8,697.6 2250.6,727.6" fill="#ff0000" />
<polygon points="2268.5,699.6 2302.9,699.6 2285.7,729.6" fill="#ff0000" />
<polygon points="2303.6,701.0 2338.0,701.0 2320.8,731.0" fill="#ff0000" />
<polygon points="2338.8,703.2 2373.1,703.2 2355.9,733.2" fill="#ff0000" />
<polygon points="2373.9,714.9 2408.3,714.9 2391.1,744.9" fill="#ff0000" />
<polygon points="2409.0,718.8 2443.4,718.8 2426.2,748.8" fill="#ff0000" />
<polygon points="2444.1,720.0 2478.5,720.0 2461.3,750.0" fill="#ff0000" />
<polygon points="2479.2,721.6 2513.6,721.6 2496.4,751.6" fill="#ff0000" />
<polygon points="2514.4,721.6 2548.8,721.6 2531.6,751.6" fill="#ff0000" />
<polygon points="2549.5,735.5 2583.9,735.5 2566.7,765.5" fill="#ff0000" />
<polygon points="2584.6,727.0 2619.0,727.0 2601.8,757.0" fill="#ff0000" />
<polygon points="2619.8,728.6 2654.1,728.6 2636.9,758.6" fill="#ff0000" />
<polygon points="2654.9,731.0 2689.3,731.0 2672.1,761.0" fill="#ff0000" />
<polygon points="2690.0,726.0 2724.4,726.0 2707.2,756.0" fill="#ff0000" />
<polygon points="2725.1,732.4 2759.5,732.4 2742.3,762.4" fill="#ff0000" />
<polygon points="2760.2,737.5 2794.6,737.5 2777.4,767.5" fill="#ff0000" />
<polygon points="2795.4,742.0 2829.8,742.0 2812.6,772.0" fill="#ff0000" />
<polygon points="2830.5,769.0 2864.9,769.0 2847.7,799.0" fill="#ff0000" />
<polygon points="2865.6,773.0 2900.0,773.0 2882.8,803.0" fill="#ff0000" />
<polygon points="2900.8,770.8 2935.1,770.8 2917.9,800.8" fill="#ff0000" />
<polygon points="2935.9,773.0 2970.3,773.0 2953.1,803.0" fill="#ff0000" />
<polygon points="2971.0,776.0 3005.4,776.0 2988.2,806.0" fill="#ff0000" />
<polygon points="3006.1,776.0 3040.5,776.0 3023.3,806.0" fill="#ff0000" />
<polygon points="3041.2,781.0 3075.6,781.0 3058.4,811.0" fill="#ff0000" />
<polygon points="3076.4,790.0 3110.8,790.0 3093.6,820.0" fill="#ff0000" />
<polygon points="3111.5,808.0 3145.9,808.0 3128.7,838.0" fill="#ff0000" />
<polygon points="3146.6,809.0 3181.0,809.0 3163.8,839.0" fill="#ff0000" />
<polygon points="3181.8,813.0 3216.1,813.0 3198.9,843.0" fill="#ff0000" />
<polygon points="3216.9,809.4 3251.3,809.4 3234.1,839.4" fill="#ff0000" />
<polygon points="3252.0,804.3 3286.4,804.3 3269.2,834.3" fill="#ff0000" />
<polygon points="3287.1,801.1 3321.5,801.1 3304.3,831.1" fill="#ff0000" />
<polygon points="3322.2,799.2 3356.6,799.2 3339.4,829.2" fill="#ff0000" />
<polygon points="3357.4,797.0 3391.8,797.0 3374.6,827.0" fill="#ff0000" />
<polygon points="3392.5,797.0 3426.9,797.0 3409.7,827.0" fill="#ff0000" />
<polygon points="3427.6,797.0 3462.0,797.0 3444.8,827.0" fill="#ff0000" />
<polygon points="3462.8,806.0 3497.1,806.0 3479.9,836.0" fill="#ff0000" />
<polygon points="3497.9,799.3 3532.3,799.3 3515.1,829.3" fill="#ff0000" />
<polygon points="3533.0,809.4 3567.4,809.4 3550.2,839.4" fill="#ff0000" />
<polygon points="3568.1,830.0 3602.5,830.0 3585.3,860.0" fill="#ff0000" />
<polygon points="3603.2,862.0 3637.6,862.0 3620.4,892.0" fill="#ff0000" />
<polygon points="1214.8,889.0 1249.2,889.0 1232.0,919.0" fill="#ff0000" />
<polygon points="1144.5,595.0 1178.9,595.0 1161.7,625.0" fill="#ff0000" />
<polygon points="1179.6,605.0 1214.0,605.0 1196.8,635.0" fill="#ff0000" />
<polygon points="1249.9,612.0 1284.3,612.0 1267.1,642.0" fill="#ff0000" />
<polygon points="1285.0,611.0 1319.4,611.0 1302.2,641.0" fill="#ff0000" />
<polygon points="1355.2,611.0 1389.7,611.0 1372.5,641.0" fill="#ff0000" />
<polygon points="1390.4,614.0 1424.8,614.0 1407.6,644.0" fill="#ff0000" />
<polygon points="1425.5,619.2 1459.9,619.2 1442.7,649.2" fill="#ff0000" />
<polygon points="1601.1,646.0 1635.5,646.0 1618.3,676.0" fill="#ff0000" />
<polygon points="1636.2,657.8 1670.7,657.8 1653.5,687.8" fill="#ff0000" />
<polygon points="1671.4,658.3 1705.8,658.3 1688.6,688.3" fill="#ff0000" />
<polygon points="1706.5,626.0 1740.9,626.0 1723.7,656.0" fill="#ff0000" />
<polygon points="1741.6,666.0 1776.0,666.0 1758.8,696.0" fill="#ff0000" />
<polygon points="1811.9,649.0 1846.3,649.0 1829.1,679.0" fill="#ff0000" />
<polygon points="1847.0,656.0 1881.4,656.0 1864.2,686.0" fill="#ff0000" />
<polygon points="1952.4,694.0 1986.8,694.0 1969.6,724.0" fill="#ff0000" />
<polygon points="2022.6,691.0 2057.0,691.0 2039.8,721.0" fill="#ff0000" />
<polygon points="2057.8,703.0 2092.1,703.0 2074.9,733.0" fill="#ff0000" />
<polygon points="2128.0,682.0 2162.4,682.0 2145.2,712.0" fill="#ff0000" />
<polygon points="1109.4,752.4 1143.8,752.4 1126.6,782.4" fill="#ff0000" />
<polygon points="1320.1,781.5 1354.5,781.5 1337.3,811.5" fill="#ff0000" />
<polygon points="1776.8,804.6 1811.2,804.6 1794.0,834.6" fill="#ff0000" />
<polygon points="1882.1,822.5 1916.5,822.5 1899.3,852.5" fill="#ff0000" />
<polygon points="1917.2,826.0 1951.7,826.0 1934.5,856.0" fill="#ff0000" />
<polygon points="1952.4,830.0 1986.8,830.0 1969.6,860.0" fill="#ff0000" />
<polygon points="1987.5,833.5 2021.9,833.5 2004.7,863.5" fill="#ff0000" />
<polygon points="1109.4,889.0 1143.8,889.0 1126.6,919.0" fill="#ff0000" />
<polygon points="1119.8,895.0 1133.4,895.0 1126.6,906.6" fill="#fff" />
<polygon points="1144.5,762.4 1178.9,762.4 1161.7,792.4" fill="#ff0000" />
<polygon points="1154.9,768.4 1168.5,768.4 1161.7,780.0" fill="#fff" />
<polygon points="1179.6,768.3 1214.0,768.3 1196.8,798.3" fill="#ff0000" />
<polygon points="1190.0,774.3 1203.6,774.3 1196.8,785.9" fill="#fff" />
<polygon points="1249.9,888.7 1284.3,888.7 1267.1,918.7" fill="#ff0000" />
<polygon points="1260.3,894.7 1273.9,894.7 1267.1,906.3" fill="#fff" />
<polygon points="1285.0,781.5 1319.4,781.5 1302.2,811.5" fill="#ff0000" />
<polygon points="1295.4,787.5 1309.0,787.5 1302.2,799.1" fill="#fff" />
<polygon points="1320.1,886.3 1354.5,886.3 1337.3,916.3" fill="#ff0000" />
<polygon points="1330.5,892.3 1344.1,892.3 1337.3,903.9" fill="#fff" />
<polygon points="1355.2,783.0 1389.7,783.0 1372.5,813.0" fill="#ff0000" />
<polygon points="1365.7,789.0 1379.2,789.0 1372.5,800.6" fill="#fff" />
<polygon points="1390.4,787.2 1424.8,787.2 1407.6,817.2" fill="#ff0000" />
<polygon points="1400.8,793.2 1414.4,793.2 1407.6,804.8" fill="#fff" />
<polygon points="1601.1,822.3 1635.5,822.3 1618.3,852.3" fill="#ff0000" />
<polygon points="1611.5,828.3 1625.1,828.3 1618.3,839.9" fill="#fff" />
<polygon points="1636.2,820.5 1670.7,820.5 1653.5,850.5" fill="#ff0000" />
<polygon points="1646.7,826.5 1660.2,826.5 1653.5,838.1" fill="#fff" />
<polygon points="1671.4,820.5 1705.8,820.5 1688.6,850.5" fill="#ff0000" />
<polygon points="1681.8,826.5 1695.4,826.5 1688.6,838.1" fill="#fff" />
<polygon points="1706.5,802.5 1740.9,802.5 1723.7,832.5" fill="#ff0000" />
<polygon points="1716.9,808.5 1730.5,808.5 1723.7,820.1" fill="#fff" />
<polygon points="1741.6,801.4 1776.0,801.4 1758.8,831.4" fill="#ff0000" />
<polygon points="1752.0,807.4 1765.6,807.4 1758.8,819.0" fill="#fff" />
<polygon points="1811.9,809.5 1846.3,809.5 1829.1,839.5" fill="#ff0000" />
<polygon points="1822.3,815.5 1835.9,815.5 1829.1,827.1" fill="#fff" />
<polygon points="1847.0,816.3 1881.4,816.3 1864.2,846.3" fill="#ff0000" />
<polygon points="1857.4,822.3 1871.0,822.3 1864.2,833.9" fill="#fff" />
<polygon points="2022.6,834.4 2057.0,834.4 2039.8,864.4" fill="#ff0000" />
<polygon points="2033.0,840.4 2046.6,840.4 2039.8,852.0" fill="#fff" />
<polygon points="2057.8,839.0 2092.1,839.0 2074.9,869.0" fill="#ff0000" />
<polygon points="2068.1,845.0 2081.8,845.0 2074.9,856.6" fill="#fff" />
<polygon points="2092.9,851.4 2127.3,851.4 2110.1,881.4" fill="#ff0000" />
<polygon points="2103.3,857.4 2116.9,857.4 2110.1,869.0" fill="#fff" />
<polygon points="2128.0,856.5 2162.4,856.5 2145.2,886.5" fill="#ff0000" />
<polygon points="2138.4,862.5 2152.0,862.5 2145.2,874.1" fill="#fff" />
<rect x="573.2" y="699.2" width="53.0" height="4" fill="#32cd32"/>
<rect x="573.2" y="706.2" width="53.0" height="4" fill="#32cd32"/>
<ellipse cx="599.7" cy="704.7" rx="16.3" ry="17" fill="#32cd32"/>
<rect x="608.3" y="702.2" width="53.0" height="4" fill="#32cd32"/>
<rect x="608.3" y="709.2" width="53.0" height="4" fill="#32cd32"/>
<ellipse cx="634.8" cy="707.7" rx="16.3" ry="17" fill="#32cd32"/>
<rect x="643.5" y="709.2" width="53.0" height="4" fill="#32cd32"/>
<rect x="643.5" y="716.2" width="53.0" height="4" fill="#32cd32"/>
<ellipse cx="670.0" cy="714.7" rx="16.3" ry="17" fill="#32cd32"/>
<rect x="678.6" y="721.5" width="53.0" height="4" fill="#32cd32"/>
<rect x="678.6" y="728.5" width="53.0" height="4" fill="#32cd32"/>
<ellipse cx="705.1" cy="727.0" rx="16.3" ry="17" fill="#32cd32"/>
<rect x="784.0" y="831.9" width="53.0" height="4" fill="#32cd32"/>
<rect x="784.0" y="838.9" width="53.0" height="4" fill="#32cd32"/>
<ellipse cx="810.5" cy="837.4" rx="16.3" ry="17" fill="#32cd32"/>
<rect x="819.1" y="833.5" width="53.0" height="4" fill="#32cd32"/>
<rect x="819.1" y="840.5" width="53.0" height="4" fill="#32cd32"/>
<ellipse cx="845.6" cy="839.0" rx="16.3" ry="17" fill="#32cd32"/>
<rect x="854.2" y="824.5" width="53.0" height="4" fill="#32cd32"/>
<rect x="854.2" y="831.5" width="53.0" height="4" fill="#32cd32"/>
<ellipse cx="880.7" cy="830.0" rx="16.3" ry="17" fill="#32cd32"/>
<rect x="889.3" y="825.5" width="53.0" height="4" fill="#32cd32"/>
<rect x="889.3" y="832.5" width="53.0" height="4" fill="#32cd32"/>
<ellipse cx="915.8" cy="831.0" rx="16.3" ry="17" fill="#32cd32"/>
<rect x="924.5" y="829.1" width="53.0" height="4" fill="#32cd32"/>
<rect x="924.5" y="836.1" width="53.0" height="4" fill="#32cd32"/>
<ellipse cx="951.0" cy="834.6" rx="16.3" ry="17" fill="#32cd32"/>
<rect x="959.6" y="812.5" width="53.0" height="4" fill="#32cd32"/>
<rect x="959.6" y="819.5" width="53.0" height="4" fill="#32cd32"/>
<ellipse cx="986.1" cy="818.0" rx="16.3" ry="17" fill="#32cd32"/>
<rect x="994.7" y="798.5" width="53.0" height="4" fill="#32cd32"/>
<rect x="994.7" y="805.5" width="53.0" height="4" fill="#32cd32"/>
<ellipse cx="1021.2" cy="804.0" rx="16.3" ry="17" fill="#32cd32"/>
<rect x="1029.8" y="816.3" width="53.0" height="4" fill="#32cd32"/>
<rect x="1029.8" y="823.3" width="53.0" height="4" fill="#32cd32"/>
<ellipse cx="1056.3" cy="821.8" rx="16.3" ry="17" fill="#32cd32"/>
<rect x="1065.0" y="839.4" width="53.0" height="4" fill="#32cd32"/>
<rect x="1065.0" y="846.4" width="53.0" height="4" fill="#32cd32"/>
<ellipse cx="1091.5" cy="844.9" rx="16.3" ry="17" fill="#32cd32"/>
<rect x="1205.5" y="689.5" width="53.0" height="4" fill="#32cd32"/>
<rect x="1205.5" y="696.5" width="53.0" height="4" fill="#32cd32"/>
<ellipse cx="1232.0" cy="695.0" rx="16.3" ry="17" fill="#32cd32"/>
<rect x="1240.6" y="725.5" width="53.0" height="4" fill="#32cd32"/>
<rect x="1240.6" y="732.5" width="53.0" height="4" fill="#32cd32"/>
<ellipse cx="1267.1" cy="731.0" rx="16.3" ry="17" fill="#32cd32"/>
<rect x="1275.7" y="710.5" width="53.0" height="4" fill="#32cd32"/>
<rect x="1275.7" y="717.5" width="53.0" height="4" fill="#32cd32"/>
<ellipse cx="1302.2" cy="716.0" rx="16.3" ry="17" fill="#32cd32"/>
<rect x="1310.8" y="703.5" width="53.0" height="4" fill="#32cd32"/>
<rect x="1310.8" y="710.5" width="53.0" height="4" fill="#32cd32"/>
<ellipse cx="1337.3" cy="709.0" rx="16.3" ry="17" fill="#32cd32"/>
<rect x="1346.0" y="703.5" width="53.0" height="4" fill="#32cd32"/>
<rect x="1346.0" y="710.5" width="53.0" height="4" fill="#32cd32"/>
<ellipse cx="1372.5" cy="709.0" rx="16.3" ry="17" fill="#32cd32"/>
<rect x="1381.1" y="692.9" width="53.0" height="4" fill="#32cd32"/>
<rect x="1381.1" y="699.9" width="53.0" height="4" fill="#32cd32"/>
<ellipse cx="1407.6" cy="698.4" rx="16.3" ry="17" fill="#32cd32"/>
<rect x="1416.2" y="688.2" width="53.0" height="4" fill="#32cd32"/>
<rect x="1416.2" y="695.2" width="53.0" height="4" fill="#32cd32"/>
<ellipse cx="1442.7" cy="693.7" rx="16.3" ry="17" fill="#32cd32"/>
<rect x="1451.3" y="675.5" width="53.0" height="4" fill="#32cd32"/>
<rect x="1451.3" y="682.5" width="53.0" height="4" fill="#32cd32"/>
<ellipse cx="1477.8" cy="681.0" rx="16.3" ry="17" fill="#32cd32"/>
<rect x="1556.7" y="727.8" width="53.0" height="4" fill="#32cd32"/>
<rect x="1556.7" y="734.8" width="53.0" height="4" fill="#32cd32"/>
<ellipse cx="1583.2" cy="733.3" rx="16.3" ry="17" fill="#32cd32"/>
<rect x="1591.8" y="734.9" width="53.0" height="4" fill="#32cd32"/>
<rect x="1591.8" y="741.9" width="53.0" height="4" fill="#32cd32"/>
<ellipse cx="1618.3" cy="740.4" rx="16.3" ry="17" fill="#32cd32"/>
<rect x="1662.1" y="751.9" width="53.0" height="4" fill="#32cd32"/>
<rect x="1662.1" y="758.9" width="53.0" height="4" fill="#32cd32"/>
<ellipse cx="1688.6" cy="757.4" rx="16.3" ry="17" fill="#32cd32"/>
<rect x="1697.2" y="758.0" width="53.0" height="4" fill="#32cd32"/>
<rect x="1697.2" y="765.0" width="53.0" height="4" fill="#32cd32"/>
<ellipse cx="1723.7" cy="763.5" rx="16.3" ry="17" fill="#32cd32"/>
<rect x="1732.3" y="735.3" width="53.0" height="4" fill="#32cd32"/>
<rect x="1732.3" y="742.3" width="53.0" height="4" fill="#32cd32"/>
<ellipse cx="1758.8" cy="740.8" rx="16.3" ry="17" fill="#32cd32"/>
<rect x="1767.5" y="743.5" width="53.0" height="4" fill="#32cd32"/>
<rect x="1767.5" y="750.5" width="53.0" height="4" fill="#32cd32"/>
<ellipse cx="1794.0" cy="749.0" rx="16.3" ry="17" fill="#32cd32"/>
<rect x="1837.7" y="724.3" width="53.0" height="4" fill="#32cd32"/>
<rect x="1837.7" y="731.3" width="53.0" height="4" fill="#32cd32"/>
<ellipse cx="1864.2" cy="729.8" rx="16.3" ry="17" fill="#32cd32"/>
<rect x="1872.8" y="760.5" width="53.0" height="4" fill="#32cd32"/>
<rect x="1872.8" y="767.5" width="53.0" height="4" fill="#32cd32"/>
<ellipse cx="1899.3" cy="766.0" rx="16.3" ry="17" fill="#32cd32"/>
<rect x="1908.0" y="821.3" width="53.0" height="4" fill="#32cd32"/>
<rect x="1908.0" y="828.3" width="53.0" height="4" fill="#32cd32"/>
<ellipse cx="1934.5" cy="826.8" rx="16.3" ry="17" fill="#32cd32"/>
<rect x="1943.1" y="829.7" width="53.0" height="4" fill="#32cd32"/>
<rect x="1943.1" y="836.7" width="53.0" height="4" fill="#32cd32"/>
<ellipse cx="1969.6" cy="835.2" rx="16.3" ry="17" fill="#32cd32"/>
<rect x="1978.2" y="825.0" width="53.0" height="4" fill="#32cd32"/>
<rect x="1978.2" y="832.0" width="53.0" height="4" fill="#32cd32"/>
<ellipse cx="2004.7" cy="830.5" rx="16.3" ry="17" fill="#32cd32"/>
<rect x="2013.3" y="799.3" width="53.0" height="4" fill="#32cd32"/>
<rect x="2013.3" y="806.3" width="53.0" height="4" fill="#32cd32"/>
<ellipse cx="2039.8" cy="804.8" rx="16.3" ry="17" fill="#32cd32"/>
<rect x="2048.4" y="800.3" width="53.0" height="4" fill="#32cd32"/>
<rect x="2048.4" y="807.3" width="53.0" height="4" fill="#32cd32"/>
<ellipse cx="2074.9" cy="805.8" rx="16.3" ry="17" fill="#32cd32"/>
<rect x="2118.7" y="662.1" width="53.0" height="4" fill="#32cd32"/>
<rect x="2118.7" y="669.1" width="53.0" height="4" fill="#32cd32"/>
<ellipse cx="2145.2" cy="667.6" rx="16.3" ry="17" fill="#32cd32"/>
<rect x="2259.2" y="680.7" width="53.0" height="4" fill="#32cd32"/>
<rect x="2259.2" y="687.7" width="53.0" height="4" fill="#32cd32"/>
<ellipse cx="2285.7" cy="686.2" rx="16.3" ry="17" fill="#32cd32"/>
<rect x="2294.3" y="675.3" width="53.0" height="4" fill="#32cd32"/>
<rect x="2294.3" y="682.3" width="53.0" height="4" fill="#32cd32"/>
<ellipse cx="2320.8" cy="680.8" rx="16.3" ry="17" fill="#32cd32"/>
<rect x="2329.4" y="671.4" width="53.0" height="4" fill="#32cd32"/>
<rect x="2329.4" y="678.4" width="53.0" height="4" fill="#32cd32"/>
<ellipse cx="2355.9" cy="676.9" rx="16.3" ry="17" fill="#32cd32"/>
<rect x="2364.6" y="675.3" width="53.0" height="4" fill="#32cd32"/>
<rect x="2364.6" y="682.3" width="53.0" height="4" fill="#32cd32"/>
<ellipse cx="2391.1" cy="680.8" rx="16.3" ry="17" fill="#32cd32"/>
<rect x="2399.7" y="691.9" width="53.0" height="4" fill="#32cd32"/>
<rect x="2399.7" y="698.9" width="53.0" height="4" fill="#32cd32"/>
<ellipse cx="2426.2" cy="697.4" rx="16.3" ry="17" fill="#32cd32"/>
<rect x="2434.8" y="702.3" width="53.0" height="4" fill="#32cd32"/>
<rect x="2434.8" y="709.3" width="53.0" height="4" fill="#32cd32"/>
<ellipse cx="2461.3" cy="707.8" rx="16.3" ry="17" fill="#32cd32"/>
<rect x="2469.9" y="676.5" width="53.0" height="4" fill="#32cd32"/>
<rect x="2469.9" y="683.5" width="53.0" height="4" fill="#32cd32"/>
<ellipse cx="2496.4" cy="682.0" rx="16.3" ry="17" fill="#32cd32"/>
<rect x="2505.1" y="683.0" width="53.0" height="4" fill="#32cd32"/>
<rect x="2505.1" y="690.0" width="53.0" height="4" fill="#32cd32"/>
<ellipse cx="2531.6" cy="688.5" rx="16.3" ry="17" fill="#32cd32"/>
<rect x="2575.3" y="751.5" width="53.0" height="4" fill="#32cd32"/>
<rect x="2575.3" y="758.5" width="53.0" height="4" fill="#32cd32"/>
<ellipse cx="2601.8" cy="757.0" rx="16.3" ry="17" fill="#32cd32"/>
<rect x="2610.4" y="768.0" width="53.0" height="4" fill="#32cd32"/>
<rect x="2610.4" y="775.0" width="53.0" height="4" fill="#32cd32"/>
<ellipse cx="2636.9" cy="773.5" rx="16.3" ry="17" fill="#32cd32"/>
<rect x="2645.6" y="773.9" width="53.0" height="4" fill="#32cd32"/>
<rect x="2645.6" y="780.9" width="53.0" height="4" fill="#32cd32"/>
<ellipse cx="2672.1" cy="779.4" rx="16.3" ry="17" fill="#32cd32"/>
<rect x="2680.7" y="764.5" width="53.0" height="4" fill="#32cd32"/>
<rect x="2680.7" y="771.5" width="53.0" height="4" fill="#32cd32"/>
<ellipse cx="2707.2" cy="770.0" rx="16.3" ry="17" fill="#32cd32"/>
<rect x="2715.8" y="719.8" width="53.0" height="4" fill="#32cd32"/>
<rect x="2715.8" y="726.8" width="53.0" height="4" fill="#32cd32"/>
<ellipse cx="2742.3" cy="725.3" rx="16.3" ry="17" fill="#32cd32"/>
<rect x="2750.9" y="732.7" width="53.0" height="4" fill="#32cd32"/>
<rect x="2750.9" y="739.7" width="53.0" height="4" fill="#32cd32"/>
<ellipse cx="2777.4" cy="738.2" rx="16.3" ry="17" fill="#32cd32"/>
<rect x="2786.1" y="730.7" width="53.0" height="4" fill="#32cd32"/>
<rect x="2786.1" y="737.7" width="53.0" height="4" fill="#32cd32"/>
<ellipse cx="2812.6" cy="736.2" rx="16.3" ry="17" fill="#32cd32"/>
<rect x="2821.2" y="723.7" width="53.0" height="4" fill="#32cd32"/>
<rect x="2821.2" y="730.7" width="53.0" height="4" fill="#32cd32"/>
<ellipse cx="2847.7" cy="729.2" rx="16.3" ry="17" fill="#32cd32"/>
<rect x="2856.3" y="723.2" width="53.0" height="4" fill="#32cd32"/>
<rect x="2856.3" y="730.2" width="53.0" height="4" fill="#32cd32"/>
<ellipse cx="2882.8" cy="728.7" rx="16.3" ry="17" fill="#32cd32"/>
<rect x="2891.4" y="723.2" width="53.0" height="4" fill="#32cd32"/>
<rect x="2891.4" y="730.2" width="53.0" height="4" fill="#32cd32"/>
<ellipse cx="2917.9" cy="728.7" rx="16.3" ry="17" fill="#32cd32"/>
<rect x="2926.6" y="723.2" width="53.0" height="4" fill="#32cd32"/>
<rect x="2926.6" y="730.2" width="53.0" height="4" fill="#32cd32"/>
<ellipse cx="2953.1" cy="728.7" rx="16.3" ry="17" fill="#32cd32"/>
<rect x="2961.7" y="727.2" width="53.0" height="4" fill="#32cd32"/>
<rect x="2961.7" y="734.2" width="53.0" height="4" fill="#32cd32"/>
<ellipse cx="2988.2" cy="732.7" rx="16.3" ry="17" fill="#32cd32"/>
<rect x="2996.8" y="728.1" width="53.0" height="4" fill="#32cd32"/>
<rect x="2996.8" y="735.1" width="53.0" height="4" fill="#32cd32"/>
<ellipse cx="3023.3" cy="733.6" rx="16.3" ry="17" fill="#32cd32"/>
<rect x="3031.9" y="731.2" width="53.0" height="4" fill="#32cd32"/>
<rect x="3031.9" y="738.2" width="53.0" height="4" fill="#32cd32"/>
<ellipse cx="3058.4" cy="736.7" rx="16.3" ry="17" fill="#32cd32"/>
<rect x="3067.1" y="744.5" width="53.0" height="4" fill="#32cd32"/>
<rect x="3067.1" y="751.5" width="53.0" height="4" fill="#32cd32"/>
<ellipse cx="3093.6" cy="750.0" rx="16.3" ry="17" fill="#32cd32"/>
<rect x="3102.2" y="752.5" width="53.0" height="4" fill="#32cd32"/>
<rect x="3102.2" y="759.5" width="53.0" height="4" fill="#32cd32"/>
<ellipse cx="3128.7" cy="758.0" rx="16.3" ry="17" fill="#32cd32"/>
<rect x="3137.3" y="764.5" width="53.0" height="4" fill="#32cd32"/>
<rect x="3137.3" y="771.5" width="53.0" height="4" fill="#32cd32"/>
<ellipse cx="3163.8" cy="770.0" rx="16.3" ry="17" fill="#32cd32"/>
<rect x="3172.4" y="761.5" width="53.0" height="4" fill="#32cd32"/>
<rect x="3172.4" y="768.5" width="53.0" height="4" fill="#32cd32"/>
<ellipse cx="3198.9" cy="767.0" rx="16.3" ry="17" fill="#32cd32"/>
<rect x="3207.6" y="763.5" width="53.0" height="4" fill="#32cd32"/>
<rect x="3207.6" y="770.5" width="53.0" height="4" fill="#32cd32"/>
<ellipse cx="3234.1" cy="769.0" rx="16.3" ry="17" fill="#32cd32"/>
<rect x="3242.7" y="760.5" width="53.0" height="4" fill="#32cd32"/>
<rect x="3242.7" y="767.5" width="53.0" height="4" fill="#32cd32"/>
<ellipse cx="3269.2" cy="766.0" rx="16.3" ry="17" fill="#32cd32"/>
<rect x="3277.8" y="753.7" width="53.0" height="4" fill="#32cd32"/>
<rect x="3277.8" y="760.7" width="53.0" height="4" fill="#32cd32"/>
<ellipse cx="3304.3" cy="759.2" rx="16.3" ry="17" fill="#32cd32"/>
<rect x="3312.9" y="757.5" width="53.0" height="4" fill="#32cd32"/>
<rect x="3312.9" y="764.5" width="53.0" height="4" fill="#32cd32"/>
<ellipse cx="3339.4" cy="763.0" rx="16.3" ry="17" fill="#32cd32"/>
<rect x="3348.1" y="754.8" width="53.0" height="4" fill="#32cd32"/>
<rect x="3348.1" y="761.8" width="53.0" height="4" fill="#32cd32"/>
<ellipse cx="3374.6" cy="760.3" rx="16.3" ry="17" fill="#32cd32"/>
<rect x="3383.2" y="751.5" width="53.0" height="4" fill="#32cd32"/>
<rect x="3383.2" y="758.5" width="53.0" height="4" fill="#32cd32"/>
<ellipse cx="3409.7" cy="757.0" rx="16.3" ry="17" fill="#32cd32"/>
<rect x="3418.3" y="761.5" width="53.0" height="4" fill="#32cd32"/>
<rect x="3418.3" y="768.5" width="53.0" height="4" fill="#32cd32"/>
<ellipse cx="3444.8" cy="767.0" rx="16.3" ry="17" fill="#32cd32"/>
<rect x="3453.4" y="769.3" width="53.0" height="4" fill="#32cd32"/>
<rect x="3453.4" y="776.3" width="53.0" height="4" fill="#32cd32"/>
<ellipse cx="3479.9" cy="774.8" rx="16.3" ry="17" fill="#32cd32"/>
<rect x="3488.6" y="767.5" width="53.0" height="4" fill="#32cd32"/>
<rect x="3488.6" y="774.5" width="53.0" height="4" fill="#32cd32"/>
<ellipse cx="3515.1" cy="773.0" rx="16.3" ry="17" fill="#32cd32"/>
<rect x="3523.7" y="771.5" width="53.0" height="4" fill="#32cd32"/>
<rect x="3523.7" y="778.5" width="53.0" height="4" fill="#32cd32"/>
<ellipse cx="3550.2" cy="777.0" rx="16.3" ry="17" fill="#32cd32"/>
<rect x="3558.8" y="788.3" width="53.0" height="4" fill="#32cd32"/>
<rect x="3558.8" y="795.3" width="53.0" height="4" fill="#32cd32"/>
<ellipse cx="3585.3" cy="793.8" rx="16.3" ry="17" fill="#32cd32"/>
<rect x="3593.9" y="827.2" width="53.0" height="4" fill="#32cd32"/>
<rect x="3593.9" y="834.2" width="53.0" height="4" fill="#32cd32"/>
<ellipse cx="3620.4" cy="832.7" rx="16.3" ry="17" fill="#32cd32"/>
<rect x="1100.1" y="932.8" width="53.0" height="4" fill="#32cd32"/>
<rect x="1100.1" y="993.2" width="53.0" height="4" fill="#32cd32"/>
<rect x="1124.6" y="934.8" width="4" height="60.4" fill="#32cd32"/>
<circle cx="1126.6" cy="965.0" r="13.8" fill="#fff" stroke="#32cd32" stroke-width="5.8"/>
<rect x="1486.5" y="918.0" width="53.0" height="4" fill="#32cd32"/>
<rect x="1486.5" y="1000.0" width="53.0" height="4" fill="#32cd32"/>
<rect x="1511.0" y="920.0" width="4" height="82.0" fill="#32cd32"/>
<circle cx="1513.0" cy="961.0" r="13.8" fill="#fff" stroke="#32cd32" stroke-width="5.8"/>
<rect x="1521.6" y="901.0" width="53.0" height="4" fill="#32cd32"/>
<rect x="1521.6" y="987.0" width="53.0" height="4" fill="#32cd32"/>
<rect x="1546.1" y="903.0" width="4" height="86.0" fill="#32cd32"/>
<circle cx="1548.1" cy="946.0" r="13.8" fill="#fff" stroke="#32cd32" stroke-width="5.8"/>
<rect x="1627.0" y="914.0" width="53.0" height="4" fill="#32cd32"/>
<rect x="1627.0" y="972.0" width="53.0" height="4" fill="#32cd32"/>
<rect x="1651.5" y="916.0" width="4" height="58.0" fill="#32cd32"/>
<circle cx="1653.5" cy="945.0" r="13.8" fill="#fff" stroke="#32cd32" stroke-width="5.8"/>
<rect x="1802.6" y="897.6" width="53.0" height="4" fill="#32cd32"/>
<rect x="1802.6" y="945.6" width="53.0" height="4" fill="#32cd32"/>
<rect x="1827.1" y="899.6" width="4" height="48.0" fill="#32cd32"/>
<circle cx="1829.1" cy="923.6" r="13.8" fill="#fff" stroke="#32cd32" stroke-width="5.8"/>
<rect x="2083.6" y="909.6" width="53.0" height="4" fill="#32cd32"/>
<rect x="2083.6" y="998.4" width="53.0" height="4" fill="#32cd32"/>
<rect x="2108.1" y="911.6" width="4" height="88.8" fill="#32cd32"/>
<circle cx="2110.1" cy="956.0" r="13.8" fill="#fff" stroke="#32cd32" stroke-width="5.8"/>
<rect x="2188.9" y="921.7" width="53.0" height="4" fill="#32cd32"/>
<rect x="2188.9" y="1044.3" width="53.0" height="4" fill="#32cd32"/>
<rect x="2213.4" y="923.7" width="4" height="122.6" fill="#32cd32"/>
<circle cx="2215.4" cy="985.0" r="13.8" fill="#fff" stroke="#32cd32" stroke-width="5.8"/>
<rect x="292.2" y="709.5" width="53.0" height="4" fill="#0000ff"/>
<rect x="292.2" y="713.5" width="53.0" height="4" fill="#0000ff"/>
<ellipse cx="318.7" cy="713.5" rx="16.3" ry="17" fill="#0000ff"/>
<rect x="327.3" y="678.0" width="53.0" height="4" fill="#0000ff"/>
<rect x="327.3" y="682.0" width="53.0" height="4" fill="#0000ff"/>
<ellipse cx="353.8" cy="682.0" rx="16.3" ry="17" fill="#0000ff"/>
<rect x="362.4" y="670.6" width="53.0" height="4" fill="#0000ff"/>
<rect x="362.4" y="674.6" width="53.0" height="4" fill="#0000ff"/>
<ellipse cx="388.9" cy="674.6" rx="16.3" ry="17" fill="#0000ff"/>
<rect x="397.6" y="671.0" width="53.0" height="4" fill="#0000ff"/>
<rect x="397.6" y="675.0" width="53.0" height="4" fill="#0000ff"/>
<ellipse cx="424.1" cy="675.0" rx="16.3" ry="17" fill="#0000ff"/>
<rect x="432.7" y="684.0" width="53.0" height="4" fill="#0000ff"/>
<rect x="432.7" y="688.0" width="53.0" height="4" fill="#0000ff"/>
<ellipse cx="459.2" cy="688.0" rx="16.3" ry="17" fill="#0000ff"/>
<rect x="467.8" y="684.0" width="53.0" height="4" fill="#0000ff"/>
<rect x="467.8" y="688.0" width="53.0" height="4" fill="#0000ff"/>
<ellipse cx="494.3" cy="688.0" rx="16.3" ry="17" fill="#0000ff"/>
<rect x="503.0" y="694.0" width="53.0" height="4" fill="#0000ff"/>
<rect x="503.0" y="698.0" width="53.0" height="4" fill="#0000ff"/>
<ellipse cx="529.5" cy="698.0" rx="16.3" ry="17" fill="#0000ff"/>
<rect x="538.1" y="697.4" width="53.0" height="4" fill="#0000ff"/>
<rect x="538.1" y="701.4" width="53.0" height="4" fill="#0000ff"/>
<ellipse cx="564.6" cy="701.4" rx="16.3" ry="17" fill="#0000ff"/>
<rect x="713.7" y="745.6" width="53.0" height="4" fill="#0000ff"/>
<rect x="713.7" y="752.0" width="53.0" height="4" fill="#0000ff"/>
<ellipse cx="740.2" cy="750.8" rx="16.3" ry="17" fill="#0000ff"/>
<rect x="748.8" y="788.7" width="53.0" height="4" fill="#0000ff"/>
<rect x="748.8" y="792.7" width="53.0" height="4" fill="#0000ff"/>
<ellipse cx="775.3" cy="792.7" rx="16.3" ry="17" fill="#0000ff"/>
<rect x="1170.3" y="686.0" width="53.0" height="4" fill="#0000ff"/>
<rect x="1170.3" y="690.0" width="53.0" height="4" fill="#0000ff"/>
<ellipse cx="1196.8" cy="690.0" rx="16.3" ry="17" fill="#0000ff"/>
<rect x="2540.2" y="721.0" width="53.0" height="4" fill="#0000ff"/>
<rect x="2540.2" y="725.0" width="53.0" height="4" fill="#0000ff"/>
<ellipse cx="2566.7" cy="725.0" rx="16.3" ry="17" fill="#0000ff"/>
<rect x="1100.1" y="588.0" width="53.0" height="4" fill="#0000ff"/>
<rect x="1100.1" y="656.8" width="53.0" height="4" fill="#0000ff"/>
<rect x="1124.6" y="590.0" width="4" height="68.8" fill="#0000ff"/>
<circle cx="1126.6" cy="623.9" r="13.8" fill="#fff" stroke="#0000ff" stroke-width="5.8"/>
<rect x="1135.2" y="620.7" width="53.0" height="4" fill="#0000ff"/>
<rect x="1135.2" y="683.0" width="53.0" height="4" fill="#0000ff"/>
<rect x="1159.7" y="622.7" width="4" height="62.3" fill="#0000ff"/>
<circle cx="1161.7" cy="654.0" r="13.8" fill="#fff" stroke="#0000ff" stroke-width="5.8"/>
<rect x="1486.5" y="607.0" width="53.0" height="4" fill="#0000ff"/>
<rect x="1486.5" y="638.0" width="53.0" height="4" fill="#0000ff"/>
<rect x="1511.0" y="609.0" width="4" height="31.0" fill="#0000ff"/>
<circle cx="1513.0" cy="624.3" r="13.8" fill="#fff" stroke="#0000ff" stroke-width="5.8"/>
<rect x="1521.6" y="617.0" width="53.0" height="4" fill="#0000ff"/>
<rect x="1521.6" y="656.8" width="53.0" height="4" fill="#0000ff"/>
<rect x="1546.1" y="619.0" width="4" height="39.8" fill="#0000ff"/>
<circle cx="1548.1" cy="639.0" r="13.8" fill="#fff" stroke="#0000ff" stroke-width="5.8"/>
<rect x="1627.0" y="672.6" width="53.0" height="4" fill="#0000ff"/>
<rect x="1627.0" y="716.0" width="53.0" height="4" fill="#0000ff"/>
<rect x="1651.5" y="674.6" width="4" height="43.4" fill="#0000ff"/>
<circle cx="1653.5" cy="698.4" r="13.8" fill="#fff" stroke="#0000ff" stroke-width="5.8"/>
<rect x="1802.6" y="641.0" width="53.0" height="4" fill="#0000ff"/>
<rect x="1802.6" y="680.6" width="53.0" height="4" fill="#0000ff"/>
<rect x="1827.1" y="643.0" width="4" height="39.6" fill="#0000ff"/>
<circle cx="1829.1" cy="662.0" r="13.8" fill="#fff" stroke="#0000ff" stroke-width="5.8"/>
<rect x="2083.6" y="646.0" width="53.0" height="4" fill="#0000ff"/>
<rect x="2083.6" y="708.0" width="53.0" height="4" fill="#0000ff"/>
<rect x="2108.1" y="648.0" width="4" height="62.0" fill="#0000ff"/>
<circle cx="2110.1" cy="680.0" r="13.8" fill="#fff" stroke="#0000ff" stroke-width="5.8"/>
<rect x="2153.8" y="676.6" width="53.0" height="4" fill="#0000ff"/>
<rect x="2153.8" y="690.6" width="53.0" height="4" fill="#0000ff"/>
<rect x="2178.3" y="678.6" width="4" height="14.0" fill="#0000ff"/>
<circle cx="2180.3" cy="685.0" r="13.8" fill="#fff" stroke="#0000ff" stroke-width="5.8"/>
<rect x="2188.9" y="655.0" width="53.0" height="4" fill="#0000ff"/>
<rect x="2188.9" y="663.5" width="53.0" height="4" fill="#0000ff"/>
<rect x="2213.4" y="657.0" width="4" height="8.5" fill="#0000ff"/>
<circle cx="2215.4" cy="661.0" r="13.8" fill="#fff" stroke="#0000ff" stroke-width="5.8"/>
<rect x="2224.1" y="635.7" width="53.0" height="4" fill="#0000ff"/>
<rect x="2224.1" y="669.7" width="53.0" height="4" fill="#0000ff"/>
<rect x="2248.6" y="637.7" width="4" height="34.0" fill="#0000ff"/>
<circle cx="2250.6" cy="655.2" r="13.8" fill="#fff" stroke="#0000ff" stroke-width="5.8"/>
<polyline points="266.0,533.6 349.0,532.3 448.0,529.6 547.0,526.4 580.0,524.4 646.0,513.8 712.0,505.2 791.0,498.6 844.0,498.0 1042.0,498.6 1240.0,498.6 1306.0,498.0 1438.0,493.4 1560.0,490.0" fill="none" stroke="#000" stroke-width="3.6"/>
<polyline points="1667.5,487.4 1950.0,480.0 2214.0,474.2 2478.0,468.3 2610.0,463.7 2742.0,459.0 2907.0,456.4 3270.0,456.4 3468.0,455.7 3534.0,457.0 3637.0,459.7" fill="none" stroke="#000" stroke-width="3.6"/>
<polyline points="266.0,722.2 460.0,716.0 580.0,713.3 680.0,710.5 778.0,705.5 860.0,701.0 910.0,698.0 995.0,693.3 1060.0,692.5 1174.0,688.4 1306.0,683.8 1438.0,679.9 1560.0,675.9" fill="none" stroke="#000" stroke-width="3.6"/>
<polyline points="1669.0,671.0 1853.0,667.5 1950.0,666.0 2200.0,661.0 2450.0,653.0 2640.0,646.0 2800.0,643.5 2965.0,640.2 3130.0,635.5 3295.0,629.6 3460.0,624.6 3526.0,622.3 3572.0,623.0 3637.0,623.7" fill="none" stroke="#000" stroke-width="3.6"/>
<polyline points="1259.0,952.5 1426.0,952.5 1430.0,948.5 1561.0,948.5" fill="none" stroke="#000" stroke-width="3.6"/>
<polyline points="1673.0,946.0 1740.0,942.4 1850.0,938.0 2200.0,936.0 2480.0,935.0 2520.0,933.5 2750.0,933.0 3200.0,932.6 3637.0,927.8" fill="none" stroke="#000" stroke-width="3.6"/>
</g><g>
<text x="1614.5" y="510.6" font-size="58" text-anchor="middle">230</text>
<text x="1614.5" y="694.0" font-size="58" text-anchor="middle">250</text>
<text x="1614.5" y="969.4" font-size="58" text-anchor="middle">273</text>
</g>
</g>
<g fill="#000" shape-rendering="crispEdges">
<rect x="263" y="109" width="6" height="851"/>
<rect x="263" y="954" width="3377" height="6"/>
<rect x="263" y="109" width="84" height="6"/>
<rect x="263" y="215" width="84" height="6"/>
<rect x="263" y="320" width="84" height="6"/>
<rect x="263" y="426" width="84" height="6"/>
<rect x="263" y="532" width="84" height="6"/>
<rect x="263" y="637" width="84" height="6"/>
<rect x="263" y="743" width="84" height="6"/>
<rect x="263" y="848" width="84" height="6"/>
<rect x="263" y="954" width="84" height="6"/>
<rect x="263" y="894" width="6" height="63"/>
<rect x="333" y="924" width="6" height="33"/>
<rect x="403" y="924" width="6" height="33"/>
<rect x="474" y="924" width="6" height="33"/>
<rect x="544" y="894" width="6" height="63"/>
<rect x="614" y="924" width="6" height="33"/>
<rect x="684" y="924" width="6" height="33"/>
<rect x="755" y="924" width="6" height="33"/>
<rect x="825" y="894" width="6" height="63"/>
<rect x="895" y="924" width="6" height="33"/>
<rect x="965" y="924" width="6" height="33"/>
<rect x="1036" y="924" width="6" height="33"/>
<rect x="1106" y="894" width="6" height="63"/>
<rect x="1176" y="924" width="6" height="33"/>
<rect x="1246" y="924" width="6" height="33"/>
<rect x="1316" y="924" width="6" height="33"/>
<rect x="1387" y="894" width="6" height="63"/>
<rect x="1457" y="924" width="6" height="33"/>
<rect x="1527" y="924" width="6" height="33"/>
<rect x="1597" y="924" width="6" height="33"/>
<rect x="1668" y="894" width="6" height="63"/>
<rect x="1738" y="924" width="6" height="33"/>
<rect x="1808" y="924" width="6" height="33"/>
<rect x="1878" y="924" width="6" height="33"/>
<rect x="1949" y="894" width="6" height="63"/>
<rect x="2019" y="924" width="6" height="33"/>
<rect x="2089" y="924" width="6" height="33"/>
<rect x="2159" y="924" width="6" height="33"/>
<rect x="2229" y="894" width="6" height="63"/>
<rect x="2300" y="924" width="6" height="33"/>
<rect x="2370" y="924" width="6" height="33"/>
<rect x="2440" y="924" width="6" height="33"/>
<rect x="2510" y="894" width="6" height="63"/>
<rect x="2581" y="924" width="6" height="33"/>
<rect x="2651" y="924" width="6" height="33"/>
<rect x="2721" y="924" width="6" height="33"/>
<rect x="2791" y="894" width="6" height="63"/>
<rect x="2862" y="924" width="6" height="33"/>
<rect x="2932" y="924" width="6" height="33"/>
<rect x="3002" y="924" width="6" height="33"/>
<rect x="3072" y="894" width="6" height="63"/>
<rect x="3142" y="924" width="6" height="33"/>
<rect x="3213" y="924" width="6" height="33"/>
<rect x="3283" y="924" width="6" height="33"/>
<rect x="3353" y="894" width="6" height="63"/>
<rect x="3423" y="924" width="6" height="33"/>
<rect x="3494" y="924" width="6" height="33"/>
<rect x="3564" y="924" width="6" height="33"/>
<rect x="3634" y="894" width="6" height="63"/>
</g>
<text x="231" y="136.0" font-size="66" text-anchor="end" textLength="146" lengthAdjust="spacingAndGlyphs">16.7</text>
<text x="231" y="241.6" font-size="66" text-anchor="end" textLength="146" lengthAdjust="spacingAndGlyphs">15.0</text>
<text x="231" y="347.2" font-size="66" text-anchor="end" textLength="146" lengthAdjust="spacingAndGlyphs">13.2</text>
<text x="231" y="452.9" font-size="66" text-anchor="end" textLength="146" lengthAdjust="spacingAndGlyphs">11.5</text>
<text x="231" y="558.5" font-size="66" text-anchor="end" textLength="146" lengthAdjust="spacingAndGlyphs">9.77</text>
<text x="231" y="664.1" font-size="66" text-anchor="end" textLength="146" lengthAdjust="spacingAndGlyphs">8.03</text>
<text x="231" y="769.8" font-size="66" text-anchor="end" textLength="146" lengthAdjust="spacingAndGlyphs">6.28</text>
<text x="231" y="875.4" font-size="66" text-anchor="end" textLength="146" lengthAdjust="spacingAndGlyphs">4.54</text>
<text x="231" y="981.0" font-size="66" text-anchor="end" textLength="146" lengthAdjust="spacingAndGlyphs">2.79</text>
<text x="266.5" y="1036" font-size="76" text-anchor="middle" textLength="46" lengthAdjust="spacingAndGlyphs">0</text>
<text x="547.4" y="1036" font-size="76" text-anchor="middle" textLength="46" lengthAdjust="spacingAndGlyphs">2</text>
<text x="828.3" y="1036" font-size="76" text-anchor="middle" textLength="46" lengthAdjust="spacingAndGlyphs">4</text>
<text x="1109.3" y="1036" font-size="76" text-anchor="middle" textLength="46" lengthAdjust="spacingAndGlyphs">6</text>
<text x="1390.2" y="1036" font-size="76" text-anchor="middle" textLength="46" lengthAdjust="spacingAndGlyphs">8</text>
<text x="1671.1" y="1036" font-size="76" text-anchor="middle" textLength="92" lengthAdjust="spacingAndGlyphs">10</text>
<text x="1952.0" y="1036" font-size="76" text-anchor="middle" textLength="92" lengthAdjust="spacingAndGlyphs">12</text>
<text x="2232.9" y="1036" font-size="76" text-anchor="middle" textLength="92" lengthAdjust="spacingAndGlyphs">14</text>
<text x="2513.9" y="1036" font-size="76" text-anchor="middle" textLength="92" lengthAdjust="spacingAndGlyphs">16</text>
<text x="2794.8" y="1036" font-size="76" text-anchor="middle" textLength="92" lengthAdjust="spacingAndGlyphs">18</text>
<text x="3075.7" y="1036" font-size="76" text-anchor="middle" textLength="92" lengthAdjust="spacingAndGlyphs">20</text>
<text x="3356.6" y="1036" font-size="76" text-anchor="middle" textLength="92" lengthAdjust="spacingAndGlyphs">22</text>
<text x="3637.5" y="1036" font-size="76" text-anchor="middle" textLength="92" lengthAdjust="spacingAndGlyphs">24</text>
<text x="1949" y="1116" font-size="76" text-anchor="middle" textLength="423" lengthAdjust="spacingAndGlyphs">Time (UTC)</text>
<text transform="translate(36,531) rotate(-90)" font-size="67" text-anchor="middle" textLength="600" lengthAdjust="spacingAndGlyphs">Height AMSL (km)</text>
<text x="1951.5" y="77" font-size="100" text-anchor="middle" textLength="1383" lengthAdjust="spacingAndGlyphs">Schneefernerhaus: 2025/10/06</text>
<rect x="266" y="1144" width="3371" height="56" fill="url(#cb)"/>
<g fill="#000" shape-rendering="crispEdges">
<rect x="263" y="1197" width="3378" height="6"/>
<rect x="263" y="1183" width="6" height="17"/>
<rect x="375" y="1190" width="6" height="10"/>
<rect x="488" y="1190" width="6" height="10"/>
<rect x="600" y="1190" width="6" height="10"/>
<rect x="713" y="1190" width="6" height="10"/>
<rect x="825" y="1190" width="6" height="10"/>
<rect x="937" y="1190" width="6" height="10"/>
<rect x="1050" y="1190" width="6" height="10"/>
<rect x="1162" y="1190" width="6" height="10"/>
<rect x="1275" y="1190" width="6" height="10"/>
<rect x="1387" y="1183" width="6" height="17"/>
<rect x="1499" y="1190" width="6" height="10"/>
<rect x="1612" y="1190" width="6" height="10"/>
<rect x="1724" y="1190" width="6" height="10"/>
<rect x="1837" y="1190" width="6" height="10"/>
<rect x="1949" y="1190" width="6" height="10"/>
<rect x="2061" y="1190" width="6" height="10"/>
<rect x="2174" y="1190" width="6" height="10"/>
<rect x="2286" y="1190" width="6" height="10"/>
<rect x="2399" y="1190" width="6" height="10"/>
<rect x="2511" y="1183" width="6" height="17"/>
<rect x="2623" y="1190" width="6" height="10"/>
<rect x="2736" y="1190" width="6" height="10"/>
<rect x="2848" y="1190" width="6" height="10"/>
<rect x="2961" y="1190" width="6" height="10"/>
<rect x="3073" y="1190" width="6" height="10"/>
<rect x="3185" y="1190" width="6" height="10"/>
<rect x="3298" y="1190" width="6" height="10"/>
<rect x="3410" y="1190" width="6" height="10"/>
<rect x="3523" y="1190" width="6" height="10"/>
<rect x="3635" y="1183" width="6" height="17"/>
</g>
<text x="257.5" y="1262" font-size="58" text-anchor="middle" textLength="157" lengthAdjust="spacingAndGlyphs">Clear</text>
<text x="1391.0" y="1262" font-size="58" text-anchor="middle" textLength="173" lengthAdjust="spacingAndGlyphs">Water</text>
<text x="2515.0" y="1262" font-size="58" text-anchor="middle" textLength="86" lengthAdjust="spacingAndGlyphs">Ice</text>
<text x="3638.5" y="1262" font-size="58" text-anchor="middle" textLength="167" lengthAdjust="spacingAndGlyphs">Other</text>
<rect x="295" y="1313" width="605" height="229" fill="none" stroke="#000" stroke-width="6" shape-rendering="crispEdges"/>
<circle cx="332" cy="1384" r="17" fill="#32cd32"/>
<circle cx="332" cy="1470" r="14" fill="#fff" stroke="#32cd32" stroke-width="6"/>
<text x="370.5" y="1405.5" font-size="60" textLength="480" lengthAdjust="spacingAndGlyphs">SEV-OCA SL Wat</text>
<text x="370.5" y="1492" font-size="60" textLength="480" lengthAdjust="spacingAndGlyphs">SEV-OCA 2L Wat</text>
<rect x="994" y="1313" width="618" height="335" fill="none" stroke="#000" stroke-width="6" shape-rendering="crispEdges"/>
<circle cx="1032" cy="1384" r="17" fill="#0000ff"/>
<circle cx="1032" cy="1470" r="14" fill="#fff" stroke="#0000ff" stroke-width="6"/>
<path d="M1016.5 1551 L1047.5 1582 M1047.5 1551 L1016.5 1582" stroke="#0000ff" stroke-width="6" fill="none"/>
<text x="1069.5" y="1405.5" font-size="60" textLength="454" lengthAdjust="spacingAndGlyphs">SEV-OCA SL Ice</text>
<text x="1069.5" y="1492" font-size="60" textLength="454" lengthAdjust="spacingAndGlyphs">SEV-OCA 2L Ice</text>
<text x="1069.5" y="1588.5" font-size="60" textLength="487" lengthAdjust="spacingAndGlyphs">OCA High Err Ice</text>
<rect x="2328" y="1313" width="559" height="402" fill="none" stroke="#000" stroke-width="6" shape-rendering="crispEdges"/>
<polygon points="2347.7,1394.0 2382.3,1394.0 2365.0,1364.0" fill="#ff0000" />
<polygon points="2347.7,1460.0 2382.3,1460.0 2365.0,1490.0" fill="#ff0000" />
<polygon points="2347.7,1567.0 2382.3,1567.0 2365.0,1537.0" fill="#ff0000" />
<polygon points="2358.2,1561.0 2371.8,1561.0 2365.0,1549.2" fill="#fff" />
<polygon points="2347.7,1633.0 2382.3,1633.0 2365.0,1663.0" fill="#ff0000" />
<polygon points="2358.2,1639.0 2371.8,1639.0 2365.0,1650.8" fill="#fff" />
<text x="2401.5" y="1405.0" font-size="60" textLength="354" lengthAdjust="spacingAndGlyphs">ACTRIS CBH</text>
<text x="2401.5" y="1492.0" font-size="60" textLength="349" lengthAdjust="spacingAndGlyphs">ACTRIS CTH</text>
<text x="2401.5" y="1578.5" font-size="60" textLength="447" lengthAdjust="spacingAndGlyphs">ACTRIS CBH BL</text>
<text x="2401.5" y="1665.0" font-size="60" textLength="442" lengthAdjust="spacingAndGlyphs">ACTRIS CTH BL</text>
</svg></body></html>
